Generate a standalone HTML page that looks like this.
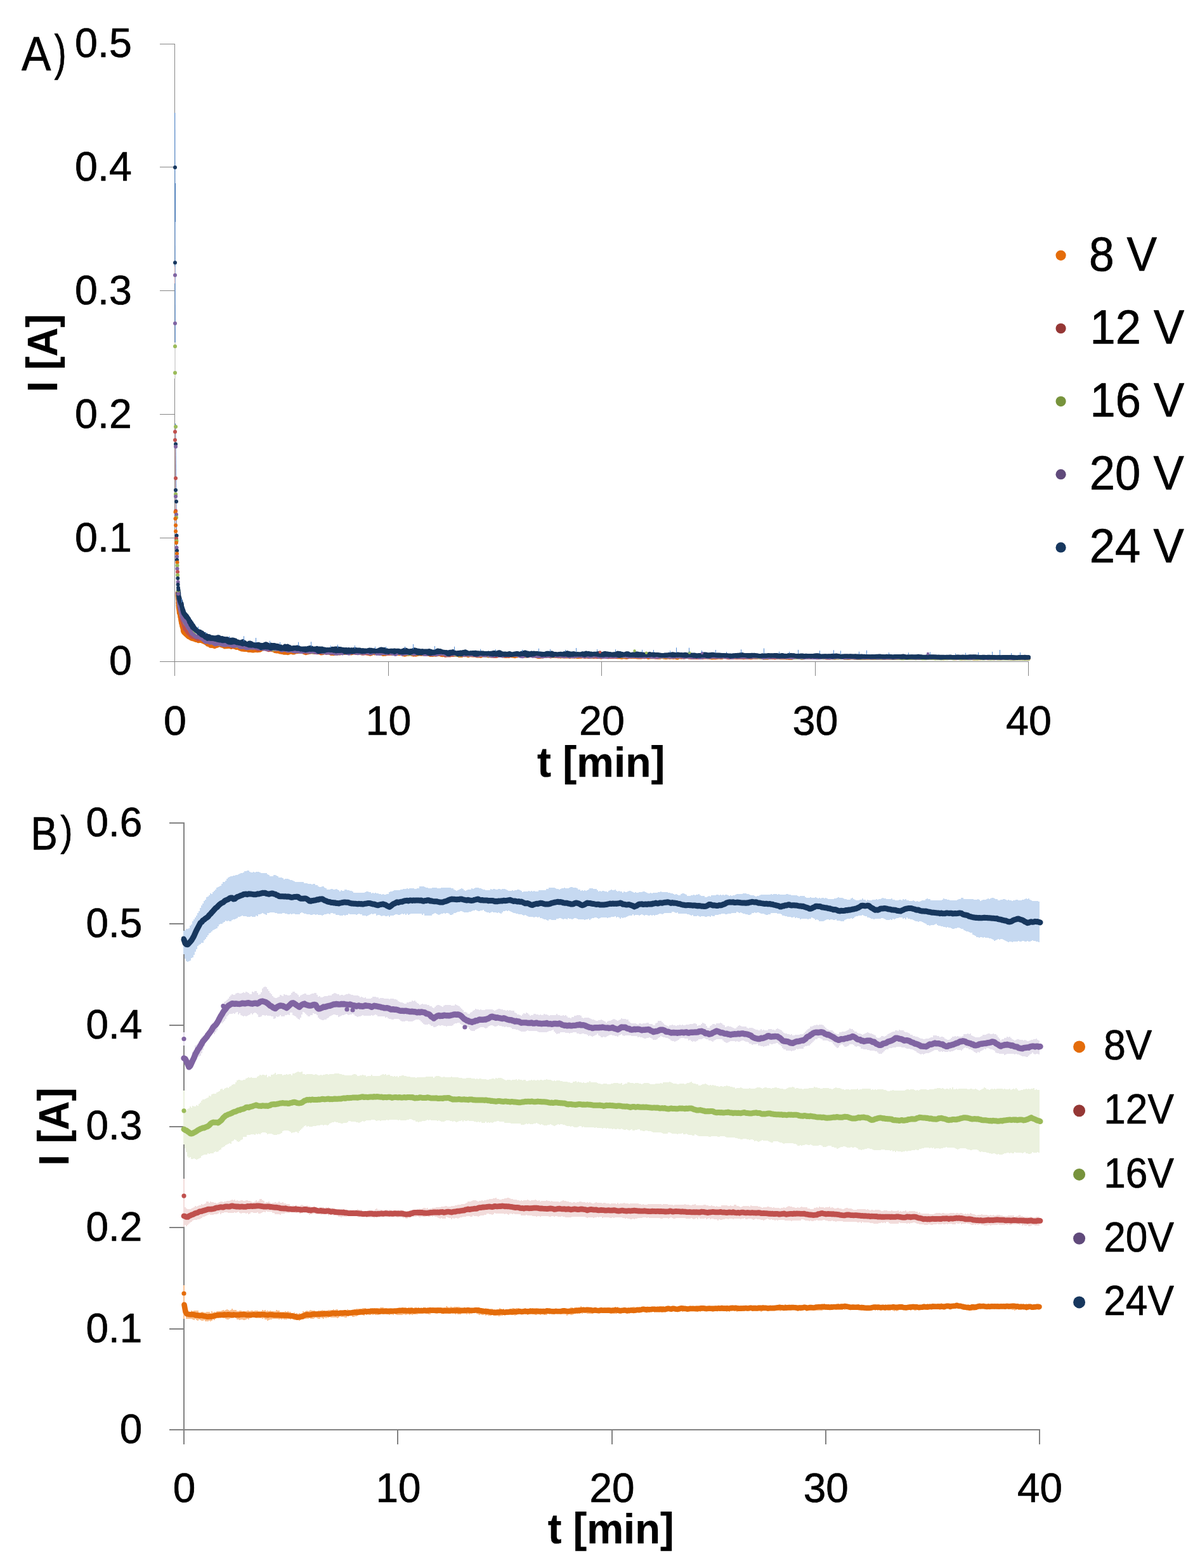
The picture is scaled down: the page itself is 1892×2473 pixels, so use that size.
<!DOCTYPE html>
<html lang="en"><head><meta charset="utf-8"><title>Current transients</title>
<style>html,body{margin:0;padding:0;background:#fff}svg{display:block}text{font-family:'Liberation Sans', 'DejaVu Sans', sans-serif;fill:#000;stroke:#000;stroke-width:.7px;stroke-linejoin:round}text[font-weight]{stroke-width:.25px}</style></head><body>
<svg width="1892" height="2473" viewBox="0 0 1892 2473">
<rect width="1892" height="2473" fill="#fff"/>
<g id="chartA">
<g stroke="#868686" stroke-width="1" fill="none">
<path d="M275.5 69V1066"/>
<path d="M252 1043.5H1622"/>
<path d="M252 848.5H275.5"/>
<path d="M252 653.5H275.5"/>
<path d="M252 458.5H275.5"/>
<path d="M252 263.5H275.5"/>
<path d="M252 69.5H275.5"/>
<path d="M612.5 1043.5V1066"/>
<path d="M948.5 1043.5V1066"/>
<path d="M1285.5 1043.5V1066"/>
<path d="M1621.5 1043.5V1066"/>
</g>
<path d="M275.7 178L276.2 540" stroke="#558ed5" stroke-width="1.1" fill="none"/>
<path d="M276.4 289V350" stroke="#4f81bd" stroke-width="1.2" fill="none"/>
<path d="M276 540V597" stroke="#dcdcdc" stroke-width="2" fill="none"/>
<path d="M275.4 420V447" stroke="#e6b9b8" stroke-width="1" fill="none"/>
<path d="M276.6 668L278.6 870" stroke="#558ed5" stroke-width="1.1" fill="none"/>
<path d="M276 676L277.6 860" stroke="#d99694" stroke-width="1" fill="none"/>
<path d="M279.8 937.2l-0.1 1.9 0.2 1.9 0.2 2 0.1 2 0.4 2 0.1 2.1-0.3 1.8 0.6 2.1-0.4 1.7 0.3 2 0.1 2 0.4 2.2 0.2 1.8 0.3 2.2 0.1 2.2 0.9 1.7 0.4 2.2 0.2 2.2 0.6 1.7 0.2 2.2 0.3 1.9 0.5 2.2 0.2 1.9 0.7 1.8 0.3 2.3 0.6 1.7 0.7 2.3 0.4 1.7 0 2 0.8 2.1 1 1.4 1.9 1.6 1 1.1 1.8 1.5 1.3 1.2 1.4 1.2 2.1 0.8 2.1 1.5 1.7 0.6 2 0.4 2 0.9 1.7 0.6 2.4 0.3 1.5 1 1.8-0.4 1.7 0 1.8 0.4 1.9 0.9 1.9 0.8 1.8 0.9 1.8 1.1 1.9 1.7 2.2 0.3 1.9 1.8 1.6 0.3 2 0 2 0.4 1.6 0.7 2.1-1.1 1.6-0.3 1.7-0.9 1.6-0.8 1.9 0.6 2.4 0.9 1.7 0.4 2.5 1.5 1.9-0.4 1.8 0.2 2.2-0.4 2.1 0.1 2.5 0.9 1.9-0.8 2.4 0.6 1.5 0.2 1.9 1.1 2-0.4 1.8 0.7 1.6 1 1.9 0.5 1.5 0.8 2.2 0.2 2.2 0.2 2.1-0.1 2.2 0 1.7 1.1 1.9 0.1 2.4-0.6 2.1 1.1 2-0.2 2.1-0.8 1.9 0.4 2.2 0.3 2.1-0.4 2-0.1 1.7-1.4 1.4-0.9 1.9-0.7 2.1-0.2 1.9 0.4 2.1 0.3 1.6 0.8 2.5-0.1 1.9 0.5 1.8 0.8 2.2 0.1 2 1.7 2 0.3 2.5 0 1.7 0.4 2.2 0.8 2 0.3 1.7 0 2.2 0.8 2.1 0.1 1.8-0.3 2.2 0.7 2.3-0.8 1.8-0.9 2.2 0.3 1.8 0.8 2.1-0.1 2.5-1.6 1.7 0.4 2.4-0.4 1.6-0.2 2.5-0.1 1.7 0 2 1.1 1.7 0.7 2.2 0.8 2.1-0.8 2.1-0.2 1.5-1.1 2.2 0.4 1.9-0.4 2 0.1 2.3-0.4 1.9 1 1.6 0.3 2.3 0.2 1.8-0.3 2 1.4 2.2-0.2 1.9-0.8 1.7-1 2.5 0 2.1 0.2 1.6 0.5 1.9 0.6 2.5 1.4 1.9 0 2 0.1 1.8-0.6 1.7 0 2.3 0.1 2.1-0.7 1.6 0.6 2.1-0.7 2.1-0.4 2.2 0.6 1.8-0.4 2 0 2-0.3 1.9 0.2 2.4 0.5 1.6 0.4 2.5-0.8 1.5-0.6 2 0 2-0.3 2.1 0.3 2.3 0.2 1.7-0.5 2.1 0.3 1.9-0.1 2 1.3 1.9-0.4 2.3 0.5 1.7 0 2 0.8 2.2 0.6 2.2-0.8 1.5-1.8 2.4 1.2 1.9-0.2 1.7-0.4 2.6 0.2 1.9-0.1 1.6-0.2 2 1.2 2.3 1 2-0.1 2.1-0.1 1.8-0.9 2.2-0.2 2.1 0.3 1.6-0.5 2 0.7 2.2-0.6 1.6 0.5 2.3-0.2 1.8 0.3 1.9-0.4 2.3 0.5 2.1-0.3 1.9-0.4 1.8 1.9 2.3 0.3 1.6-0.3 2.4-0.7 1.8 0 2.4-0.5 1.4 0.1 2.3 0.9 1.8 0.5 2.3-0.3 1.7 0.3 2.1-0.5 1.9-0.7 2.4 0.1 2.1 0.2 1.5-0.4 2.2 0.4 2.3-0.3 1.6 0.3 2.4 0.1 1.4 0 2.2 1 2.3-0.1 2.1 0.2 1.6-0.8 2.4 0.6 1.4-0.1 2.2-0.5 2-0.4 1.8 0.2 2.2 1 1.9 0.2 2-0.4 2.4 1 1.8-0.9 2 0.2 2.3-0.4 1.6 0.7 1.8-0.7 2.5 0.2 1.5-1.1 2 0.8 2.2 0.3 2.3 0.1 1.7 1.1 2.2-0.4 2 0.4 1.8-1.2 2.3 0.3 1.9 0 1.6-0.3 2.3 1.4 2.3-0.9 1.6-0.3 2.1 0.4 1.8-0.1 2.3 0 2.1 0.1 1.7 0.1 2 1 1.8-0.2 2.5 0.5 1.5-1.3 2.3-0.7 2.3 0.5 2 0 1.5 0.4 2.2 0.8 2-0.5 2 0.4 2.1 0.1 2.1-0.2 1.6 0.4 2.1 0 2 0 1.9-1.1 2-0.7 2.4 1 1.7 0.2 2.4 0.4 1.5 0.3 2.3 0.2 1.7-0.5 2.4 0.4 2-0.9 1.7-0.2 1.9 0.7 2.2 0.3 1.9 0.3 2.1-0.8 2.2 0.1 1.6-0.9 2.3-0.2 1.8 0.2 1.9 0.3 2.3 0.6 1.7-0.5 2.1 0.5 1.9-0.6 2 0.5 2.2-0.8 1.8 0.4 2.2 0.3 1.8-0.5 2.3 0.7 1.8 0.7 2.4 0.8 1.7-0.3 1.9 0.2 2.4-0.6 1.5 0.3 2-0.9 2.4-0.1 2-0.6 2 0.1 1.6 0.1 2.2 1.2 2.2-0.9 1.9 0 1.9-0.3 1.9 0.5 2.4-0.2 1.7 0.9 2.3-0.5 1.5 0.8 2.5-0.6 1.4 0.3 2.2 0 2.2 0 1.7 0 2-0.1 2.4 0.7 1.6-0.7 2.1 0.2 2-0.4 1.9 0.7 2.4-0.6 1.8 0.8 1.7 0.1 2.1-0.3 2.2-0.1 1.9-0.4 2.1 0 2.1 0.1 1.9-0.4 2.1 0.5 1.7 0.4 2.4-0.3 1.6 0.1 2-0.4 2.2-0.1 2 0.2 1.7 0.2 2 0.2 2.5 0 1.5 0.2 2.2 0.6 1.9-0.6 2.5-0.5 1.9-0.6 2.1 0.7 2 0.7 1.5-0.1 2.5-0.6 1.6 0.5 1.9-0.1 2.1-0.3 1.9 0 2.5 0.1 1.6 0.5 2-0.3 1.9 0.3 2.5 0.4 1.9-0.4 2-0.1 1.8 0.4 1.9 0.2 2.1-0.5 2.2-0.7 2.1 0.3 1.6 0.1 2 0.1 2.1-0.4 2.2 0.2 1.6 0.4 1.9 0.2 2.2 0 2.4-0.1 1.8-0.2 1.6-0.3 2.1 0.3 2.2-0.2 2.2 0.1 1.6 0.9 1.9-0.5 2.2-0.3 2-0.2 2.2 0.3 1.7 0 2.2-0.2 2.3 0.3 1.5 0.1 2.3 0.3 2.1-0.7 1.7-0.3 2.2 0.7 1.8 0.3 2.1 0.3 2.1-0.5 2.1-0.1 1.8 0.3 1.8-0.2 2.4-0.2 1.8 0.5 1.8-0.5 2.3 0.6 2 0.5 1.7-0.8 2.1-0.6 2.3 0.4 1.9-0.6 2.1 0.6 1.8-0.1 2-0.4 1.8 0 1.9 0.1 2.4 0.4 2.1 0.2 1.7 0 2.1 0.3 2-0.5 2.1 0.5 1.7-0.3 1.9-0.7 2.1 0.3 2.5 0.3 1.6 0.4 2-0.7 2.3 0.1 1.9 0.1 2.2 0.1 1.9 0.3 2 0.1 1.9 0.4 1.8-0.1 2.2-0.1 2.1 0.1 1.5-0.4 2.6-0.2 1.5-0.3 1.9 0.6 2.4 0.1 2-0.8 2-0.2 2.1 0.2 2-0.2 2 0.9 2.1-0.6 1.5-0.1 1.9 0.4 2.5-0.2 2 0 1.7-0.2 1.9 0.6 2-0.2 2.2-0.1 1.9 0.2 2.2 0 1.8 0.4 2.1-0.1 2.1-0.6 1.8 0.3 2.3 0.1 1.9 0.2 1.7 0.2 2-0.3 2-0.8 2 0.3 2.5-0.6 1.7 0.3 2.2-0.2 1.8 0.1 2.2 0.4 2.1 0.4 1.5 0.6 2.2-0.2 2.1 0.1 2.1 0.1 2-0.4 1.7-0.3 2 0.3 1.9-0.1 1.9-0.2 2.2 0.6 2.1-0.3 2.2-0.1 1.8 0.1 2.2 0.2 1.9-0.1 1.8-0.1 2.3 0.2 1.9-0.3 1.9 0.5 2-0.2 2 0.5 1.8-0.3 2.1 0.3 2.3-0.7 1.6-0.3 2.1-0.1 1.9-0.1 2 0.3 2.3-0.3 2.2 0.3 1.6 0.6 2.3-0.2 1.8-0.3 2.1-0.1 1.7 0.1 1.9-0.1 2.5 0.1 1.8-0.1 2-0.4 2.1 0.1 2 0.4 1.9 0.1 2.1 0.2 1.7-0.1 2.4-0.2 1.9 0 2 0 1.9 0 2.1 0 1.9 0.4 2.1 0 1.8-0.1 2.1 0.1 1.9-0.1 2.4-0.3 1.8 0.3 1.8 0.1 2.4 0 1.7-0.3 2.2 0.1 1.8-0.5 2 0.3 2.1 0.1 2 0.3 1.9 0 2.3 0.1 1.8 0.2 2.1 0 2.1-0.2 1.4-0.2 2.2-0.2 2.1 0.3 2.1 0 1.8 0 2.2 0.3 1.9-0.2 2.2 0.2 1.6 0 2.4 0.3 1.9-0.1 1.9-0.1 2.3-0.2 1.8 0.1 2.1-0.2 1.7-0.1 1.9 0.2 2.1 0.2 2 0 2-0.3 1.9-0.5 2.3 0.1 1.7 0.1 2.2 0.2 2.1 0.1 1.8 0.1 2.3-0.4 2 0.4 2-0.3 2 0.3 1.5-0.2 2.6 0.3 1.5 0 2 0.3 2.4-0.1 1.6 0 2.4-0.4 2 0.1 1.9 0 2.1 0 2-0.3 1.9 0.3 2 0.1 2.1 0.3 1.6-0.3 1.9 0 2 0 2 0.2 2.2 0.2 2.3-0.5 1.9-0.1 1.9 0.1 2.1 0 1.8 0.4 1.8-0.1 2.3-0.1 2 0.2 2.2-0.2 2 0 1.7 0.2 1.7 0 2.4-0.1 2.1-0.1 1.8-0.1 2.2-0.1 1.8 0.1 2 0.2 1.9 0 2-0.1 2 0 2.4 0.2 1.9-0.1 1.7 0.1 2.1 0.2 2.1-0.4 2 0.2 1.9-0.4 1.9-0.1 1.9 0.3 2.2 0.1 2.1 0.2 1.9 0 2 0.1 2 0.1 1.8-0.2 2.1-0.1 1.8-0.2 2 0.4 2.5 0.1 1.7 0 2.2-0.3 1.7-0.2 2.1 0 2 0 2.3-0.1 1.8 0.1 1.7 0.4 2.3 0.2 1.9-0.2 1.9 0.1 2.4 0.1 1.7-0.3 1.8 0.1 2-0.2 1.9 0 2.4 0 2.2 0 1.9 0.1 1.5 0.2 2.1-0.1 2-0.3 2.3 0.2 2.1-0.1 1.5-0.1 2.4 0.1 2.1 0.1 2 0.2 1.5-0.3 2.3 0.2 1.7-0.2 2.4 0 2.1 0.1 1.5-0.1 2.3 0 2-0.1 2.1 0.2 1.9 0.2 1.9 0 2.2 0.2 2-0.2 1.7-0.2 2.4 0.2 1.9-0.2 1.9 0.3 2.1-0.1 1.7-0.1 2.3 0.1 1.9 0 2.1 0.1 1.7-0.1 2 0.4" stroke="#e46c0a" stroke-width="6.4" stroke-linecap="round" stroke-linejoin="round" fill="none"/>
<path d="M279.7 935l0.5 2.1 0.1 1.8 0.2 1.9 0.4 2.2-0.1 1.9 0.5 1.8 0.3 2.2 0.1 1.8 0.5 1.9 0.1 2 0.6 1.7 0 1.8 0.4 2.1 0.5 1.8 0.4 1.9-0.2 1.7 1 2.2-0.1 1.8 0.7 1.9 0.3 1.9 0.4 2.2 0.1 1.8 1 2.3 0.7 1.9 0.6 2.2 0.8 1.7 0.6 2.1 0.7 2 0.6 2.3 1.2 1.3 1.1 1.4 1.4 1.3 0.7 1.5 1.1 1.4 1.9 1.4 1.1 1.7 1.6 1.1 1.2 1.2 1.9 0.4 1.8 0.1 1.7 1.1 2.3 1.2 1.6 1.1 1.5-0.3 1.9-0.6 1.8-0.5 1.6 1.2 1.7 1.7 1.9 1.3 1.6 0.2 2.3 0 1.6 0.6 1.6 1.4 1.8 0.6 1.9-0.5 2.5 0.4 1.6 0.2 2.2 1.1 1.9 0.2 2.5 1.1 1.6 0.1 2.2 0.4 2.2-0.2 2.1-0.7 2 0.6 2.1 0.3 2 0.7 2.1 0 2.1 0.3 1.9 0.9 1.9 0.8 2.1-0.4 2.2 0.3 1.9-0.7 2-0.1 2.2 0 1.8 0.4 2.1-0.1 2.2 0.8 1.9 0.1 1.9 0.3 2 0.8 2.3-0.3 2.2 0.4 2 0.9 2.1-0.3 1.8 0.8 1.8-0.9 2.3 0.8 2.3 0.9 1.8 0.9 2-0.6 2.1-0.3 1.9 0 2 0.2 2.2-0.6 1.7 0.7 2.2 1 2.2 0.7 2.3-0.5 1.7 0.1 2.4-0.5 1.7 0.4 1.8-0.6 2.6 0.4 1.7-0.8 2.3 0.4 2 0.2 2.1-0.3 1.6 0.2 2.2 0.7 1.9 0.4 2.3 1.1 1.9 0.2 2.2-1.3 1.9 0.6 2-0.1 1.8-0.4 2.5 0.8 1.9 0.2 1.9 0.7 1.9 0.2 2.1 0.5 2-0.3 1.8-0.1 2.4 0.2 1.6 0.2 2.2 0.8 2.1 0.3 1.6-0.5 2.5 0.3 1.9-0.5 1.7-0.6 2 1.2 2.2 0.1 2 0.2 1.7 0.1 2.3-0.5 2 0.1 1.8-0.1 2.5 1.1 1.6-0.1 2.3-0.7 1.9 0.7 1.9 0 1.8-0.5 2.3 0.1 1.8 0.9 2.1-0.3 1.8-0.9 2.1 0 2.4 0.5 1.7 0.1 2 0.3 1.9-0.4 1.9 0.6 2.1-0.7 1.9-0.2 2-0.4 2.3 0.1 1.7 0.3 2-0.5 2.4-0.1 1.8 0.7 2.2-0.5 1.7 0.6 2 0.4 1.9 0.1 2.2-0.7 2 0 2.1 0.4 2.1 0.9 1.7 0.2 2.2-0.3 2.1-0.4 1.8 0.2 1.9 0.3 2 0 2.1-0.8 1.9-0.7 1.9 0.6 2.1-0.1 1.9-0.1 2.1 0.1 2-0.3 2 0.3 1.9 0.7 2.1-0.2 2.3 0.1 2-0.2 1.6-0.4 1.9 1.1 2.4 0.5 1.8-0.3 2.2-0.9 2.1 0 1.9 0.3 1.7 1.3 2.3-1 1.6-1.4 2.1 0 2.1 0.7 1.8 0.5 2.4 0 2.1 0.5 1.9-0.2 1.9 0.4 1.9-0.6 2.3 0.9 1.7-0.6 2.3 0.7 1.5-0.5 2.1 0.5 2 0.2 2.3-0.8 2 0 2 0 1.8-1.3 2.4 0.7 2 0.6 1.8 0.2 2-0.7 1.6 0 2.3 0.5 2.3 0.4 1.9 0.2 1.9 0.8 1.8-0.3 2.4-0.1 1.7-0.4 1.7 0 2.2-0.3 2-0.2 2.2 0.6 1.7-0.3 2.2 0.6 2.3 0.6 1.6 1.2 1.9-0.2 2.1 0.2 2.1-0.2 1.8-0.6 2.3-0.6 2.1 0.7 1.6-0.1 2.1-0.2 1.8-0.7 2.1-0.3 2.2-0.6 1.9 0.3 2-0.1 1.8 0.2 2.6 1.2 1.5-0.1 2.5-0.2 1.5-0.1 2.2-0.1 2-0.1 2.3 0.9 1.8 0.5 2-0.3 1.7 0.3 1.9 1.1 2.5-1 1.6-0.3 2.4 0.1 1.6 0.1 2.4 0.1 1.7-0.4 2.3 0.3 1.7 0.2 2 0.2 1.9-0.7 2.2 0.8 2.2 0.3 2 0.5 1.8-0.1 1.8 0.1 2.2-0.9 2.1-0.7 1.9 0.5 1.8-0.4 2.2 0.5 2.1-0.2 2.1 0.7 2-0.3 1.7 0.4 2.1 0 1.9-0.5 2.2-0.1 2.1-0.8 1.7 0.2 2.1-0.1 1.8-0.3 2.1 0.4 2.4 0.6 1.9 0.7 2.1 0.3 1.9-0.6 1.9 0.4 1.8 0 2.4-0.1 1.8-0.2 1.8 0.1 1.8-1.1 2.4 0.2 1.7 0.5 2.1 0.3 2-0.1 2.1-0.2 1.8-0.3 2.4 0.2 1.6 0.1 2.1-0.5 2.1 0.3 2 0.5 1.8 0.4 2 0.3 2.3-0.4 1.8 0 2.1 0.6 2-0.2 2.2-0.6 2.1 0.6 1.5 0.2 2.1-0.6 2.4 0.1 1.9-0.6 2 0.1 1.6 0.4 1.9 0.3 2.1-0.2 2.3 0.1 2.1 0.3 2 0 2.1 0.3 1.5-0.2 2.1-0.1 2.2 0 1.7-0.4 2.3 0.5 2-0.7 2 0.1 1.9 0.4 1.8 0 2.3-0.3 1.7 0.7 2.4 0.6 1.6-0.6 2 0.3 2-0.3 2.1 0.1 2-0.5 2.3 0.6 1.9 0.5 2.2-0.4 1.6 0 2.1 0.5 2.2-1.3 1.6 0 2.3-0.4 1.9 0.3 2.2 0.7 2 0.2 1.5-0.2 2.1 0.6 2.3-0.4 1.7 0.4 2.2 0.1 1.9-0.3 1.8 0.1 2.2-0.5 2.1 0.6 1.7-1 2.4-0.3 1.8 0 2 0.1 2.1 0.4 2.3-0.4 1.7 0.7 2.2 0.2 1.9 0 1.8-0.2 2.3 0.1 2.1-0.4 1.6 0 2.2-0.1 2 0.1 1.9 0 1.7 0 2.2 0.5 2.1-0.4 1.8 0.1 2.1 0 1.8 0.5 2.3-0.3 2-0.2 1.8-0.2 2.1 0 2.2 0 2.2-0.1 2 0.7 1.4 0.2 2.3 0.6 1.9 0 2.1-0.1 1.7-0.5 2.5-0.5 1.7 0.1 1.9 0.3 2.3 0.1 1.8-0.1 2.2 0.3 2-0.4 2 0.6 2-0.6 2.1 0.5 1.7-0.5 1.9 0.1 2.4-0.2 2.1-0.2 1.6 0.6 2.2 0 2 0.1 1.6 0.1 2 0 2.2-0.4 2.2-0.4 1.9 0.3 2.3 0.8 2-0.1 1.8 0.4 1.8-0.3 1.9 0 2.4 0 2 0.2 1.8 0.1 2 0.1 2.1-0.4 2-0.2 2 0.1 2.1-0.4 2 0.2 1.8-0.5 2 0.4 1.8-0.6 2.2 0.4 2.2-0.2 2.1 0.1 1.9 0 1.5 0.1 2 0.2 2.3-0.2 2.3 0.3 1.5 0 2.3 0.3 1.7-0.9 2.4-0.3 2.1 0.7 1.8 0.5 2.1 0.4 1.7 0.2 1.9-0.1 1.9-0.3 2.2-0.1 1.8-0.3 2.2 0.3 2.4 0 1.5-0.3 2.1 0.1 1.9-0.1 2.4 0.2 1.7 0.2 1.9-0.3 2 0.1 2.4-0.4 2 0.3 1.7-0.2 2.1 0.2 1.8-0.2 2.3-0.1 1.9 0.4 1.8 0.1 2.1 0 2.3-0.4 2 0.5 1.7-0.5 1.9 0.6 1.9-0.2 2.1-0.3 2-0.3 2.3 0.1 1.8 0.6 2.2 0 2.2-0.4 1.5 0.4 2.3-0.3 1.9 0.2 2-0.3 1.7 0.2 2.2-0.1 1.9 0.1 2 0.1 2 0.2 2 0.1 2.2-0.2 1.9 0.1 2.4-0.1 1.5 0.2 2.4-0.3 1.7-0.3 2 0 1.8 0.2 2.2 0 2-0.2 2.2 0.4 1.9 0.1 2.1 0.3 2.1 0 1.7-0.1 2.1 0.2 1.9-0.4 2-0.3 2.4-0.1 1.8 0.3 1.8-0.1 2 0 1.9 0.1 2.4 0.2 2-0.3 1.9 0.1 2 0 1.8 0 1.8-0.1 2.5 0 1.9 0.2 1.7-0.1 2.3 0 2 0.1 1.9 0.2 2.1-0.1 2-0.2 1.7-0.1 2.1 0.1 2.1 0 2 0 1.8 0 2.5 0.3 1.7-0.1 2.2-0.3 1.6 0.2 2.2 0.1 2.2 0.2 2-0.3 1.7 0.3 2.3-0.2 1.6 0 2 0 2.4 0 1.8-0.3 1.9 0.4 2.2-0.1 1.9 0.2 2.2-0.2 1.9 0 1.9 0 1.9 0.1 2 0 1.9 0.1 1.9-0.3 2.4 0.1 1.8 0.2 2.3 0.1 1.9 0 1.7-0.4 2.4 0 1.7 0 2.1 0.2 2.1 0 1.8 0.2 2.3-0.1 1.7 0.2 2.4 0 2 0 1.6-0.1 2-0.2 2.3 0.2 1.8 0.1 2.2 0 1.5-0.1 2.3-0.1 2.2 0.2 1.8 0.2 1.9 0 2.1 0.2 2.1-0.1 1.8-0.4 2.2 0 2 0.2 1.6-0.1 2 0.1 2-0.3 2.4 0 1.6 0.2 2.4 0.1 1.6 0.2 2.2 0 2.3 0.1 2-0.3 1.6 0 1.8 0.1 2.2-0.3 2-0.1 2.3 0.2 1.8 0.1 1.8 0.1 2.4 0.2 2-0.1 1.6-0.1 2.2 0.1 2 0.1 2.1-0.1 2.1-0.1 2.1 0 1.4-0.3 2.3-0.1 2 0.1 1.9 0.2 2 0.2 2.3 0.1 1.8 0.2 1.9-0.3 1.8-0.3 2.4 0 2.1 0.2 1.8 0.2 2.2 0.2 1.9 0 2 0 1.7-0.2 2.4 0 2 0 1.5 0 2.4 0.2 1.8-0.2 1.9-0.1 2.2-0.2 1.7 0 2 0.2 2.1-0.1 2.2 0.1 2-0.1 2.2 0.1 1.9-0.1 2 0.3 1.7-0.2 2 0.2 1.9 0.1 2-0.1 2.3-0.1 2-0.1 2.1 0 2 0.3 2.1-0.1 1.6 0 2.2 0 2.1-0.1 1.8 0.2 2 0 1.7 0.1 2.1 0.3 2.4-0.3 2-0.2 1.8 0.2 1.9 0 2.2-0.3 1.8 0.1 1.9 0.1 2 0 2-0.3 2.2 0.1 2 0.4 2 0 1.7 0 2-0.1 2-0.1 2.1-0.1 2.2-0.2 1.7 0.3 2.1 0 2.3-0.1 1.6 0 2.4 0 1.8 0.1 1.8 0 2 0 2.2 0.1 1.8 0.2" stroke="#c0504d" stroke-width="6.2" stroke-linecap="round" stroke-linejoin="round" fill="none"/>
<path d="M280.4 938.1l0.5 1.8-0.2 1.8 0.4 2.2 0.3 1.7 0.4 1.8-0.1 2.1 0.6 1.9 0.1 1.9 0 2 0.7 1.6 0.2 2.1 0.4 1.6 0.8 2 0.2 1.9 0.7 1.7 0.1 1.9 0.4 2 1.1 2.1 0.7 1.9 0.8 2 1 2.2 0.9 1.7 0.7 2.1 1.1 1.7 1.4 1.5 1.1 1.6 1.2 1.5 1.1 1.9 1.1 1.6 1 1.6 1.8 1.1 0.9 1.4 1.3 1.8 1.9 1.6 0.9 1.5 1.8 1.9 2.2 0.7 2 0.6 1.5 0.3 1.9 1.2 2 0.3 1.8 1.3 1.4 1.4 1.9 0.5 1.9 0.6 2 0.9 1.8 1.5 1.5 0.1 2 0.6 1.8 0.6 1.8 0.5 2.5 0.5 1.8 0.4 2.2-0.2 2.2 1 2 0.3 1.7 0.4 1.9-0.2 2.1 0.2 2.4 0.5 1.9-0.3 1.9-0.1 2.1 0 2.3 0.8 1.8 0.2 2.3-0.1 1.7 0.1 2.3 0.6 2.1 0.6 2.2 0.5 1.9-0.4 1.7 0.2 2.4 1 1.9-0.2 1.9 0.2 2.2 1.1 1.9-0.6 1.9 0.5 2.5 0.9 1.8-0.4 1.8-0.1 2.5 0.1 2.2 0.2 1.9-0.8 2-0.3 1.6 1.1 2.3 0.4 1.9 0.1 2.4 0.7 2 0.3 1.8-0.6 2-0.3 2.3-0.6 1.5 0.2 2.4 0.6 1.7 1.3 2.5 0.5 1.6 0.3 2.4-0.9 1.9 0.4 2.4-0.2 1.9-0.4 1.8 0.6 2.1-0.9 2.2 0.2 1.8 0.7 2.2 0.6 2.2 0.6 1.6 1 2-0.5 2.3-0.5 2.2-0.7 2 1.2 1.9 0.1 2.2 0.9 1.5 0.1 2.6 0.2 1.6 0.3 2.3-0.4 1.9-0.8 1.7 0.9 2.4-0.9 1.5 0.6 2.6 0.5 1.8 0.9 2 0.1 1.8-0.6 1.8 0.7 2.1 0.2 2.3-0.7 2.1-0.1 1.8-0.1 2.2 0.5 2-1.2 2 0.9 2 0.5 1.9 0.4 2.1-0.4 1.5 0.5 2.2-0.1 1.8 0.2 2 0.1 2.5-0.3 1.6 0.2 2-0.3 2 0.5 2.2-0.6 1.8 0.6 2.4 0.3 1.6-0.2 2.1 0.6 1.9-0.2 2.5-0.3 1.4-1.3 2.1 0.7 2.3 0.1 1.9-0.1 2.1-0.1 2.1-0.2 2 0 2-0.3 1.5 0 2.5 0.2 2 0.2 2.1 0.6 1.8 0.2 1.8 0.2 2-0.8 2.1 0.3 2.1 0 2.1 0 2.1 0 1.6-0.5 2-0.2 1.9 0.7 2.5-0.7 1.9 0.3 2 0.1 1.8-0.7 2.2 0.5 1.9 0.4 1.9 0.9 1.8-0.6 2.3-0.1 2.2-0.1 1.9 0.4 2.1-0.6 1.5 0 2.4-0.4 1.7 1.2 2.4 0 1.7 1 2.1 0.2 2.1-0.3 1.7-0.7 2.2-0.4 1.8 0.3 2.2-0.5 2-0.1 2 0.3 1.6 0.4 2 0.8 2.1-0.2 2.2 1 2.1-0.6 2.1 0.1 1.6 0 2.1-0.2 2.1-0.6 1.8 0.3 2.1 0.1 1.8 0.1 2.1-0.4 2.4-0.5 1.7-0.3 1.9 1.5 2 0 2.3-0.3 1.7-0.9 2 0.7 2.1-0.4 2.1-0.3 1.7 0.4 2.5 0.8 2.1 0.3 1.8-0.2 2.1-0.1 1.7-0.2 1.9-0.8 2.4 0.2 1.7 0.8 1.9-0.2 2 0.8 2.1 1 2.1-0.4 1.7-1 2.5-0.8 1.5 0.5 2.1 0.4 2.3 0.2 1.7 0.9 2 0.2 2.2-0.1 1.7 0.3 2.3 0.3 2-1.2 1.8 0.4 2.2-0.1 2.3-0.1 1.5 0.2 2.2-0.3 1.8 0.7 2-0.9 2.1 0.6 2.1 0 1.7 0 2.2 0 2.2 0.4 1.7 0.7 2.2-0.8 1.7 0.3 2.3-0.7 2 1 2-0.2 2 0.4 2.1-0.3 2.1 0.6 1.9-0.5 1.8-0.4 1.9-0.5 2.3 0.8 1.6-0.6 2 0.1 2.1-0.3 2.3 0.6 2.2 0.2 1.8-0.3 2.2-0.2 1.7-0.2 2.3 0.1 2 0.3 1.5 0.3 2 0 2.2-0.9 2.3 0.5 1.6 0.5 2.2 0 1.8-0.2 2.3-0.4 1.9 0.6 1.9 0.7 2.1-0.1 1.7-0.1 2.5 0 1.5 0.2 2.2 0.3 1.7-0.7 2.1 0.1 2.2-0.4 2.2 0 2 0.1 1.7 0 2-0.7 2.3 0.2 1.5 0.4 2.2 0.8 2.3-0.3 1.8 0.3 2.2-0.2 1.8-0.4 1.8 0.4 2.3 0.2 2.1 0.2 1.6-0.7 2.4 0.6 1.6 0.4 2.1-0.2 2 0.2 2.2-0.4 2 0.1 1.9-0.4 2.2-0.7 1.8 0.9 2.1 0.3 1.7 0.1 2.4-0.8 1.8 0.4 1.8-0.2 2.5 0.6 1.5-0.1 2.1 0 2.3-0.4 1.6 0.2 2.1 0 1.9 0.3 2.2-0.2 2 0.5 2-0.8 2.1-0.3 1.7 0.2 1.9 0.3 2.1 0 2.5 0.4 1.9 0 1.9 0 2.2-0.5 1.9 0.1 1.7 0.8 2.2 0.3 2.1-0.6 1.6-0.9 2.2 0.3 1.9-0.2 1.8 0.5 2.4-0.1 1.7 0.1 2.3 0.5 1.6-0.7 2.6 0.5 1.5-0.4 2.2 0 2 0.2 1.9-0.3 1.9 0 2 0.5 2.3-0.2 2.1 0.4 1.7-0.3 1.9 0.2 2.2-0.7 1.8 0.6 2.1 0.1 1.9 0.5 2.4-0.2 1.9-0.1 2 0 2.1-0.6 1.6 0.5 2.2-0.2 1.8 0.5 2 0.1 2-0.3 2.2-0.1 2.1-0.7 2 0.3 1.8 0.6 2.2 0.1 2.1-0.5 1.7 0.1 2-0.5 1.9 0.2 2.4 0 2.1 0.3 1.6 0 2.2-0.3 2-0.3 1.6 0.2 2.1 0.6 2.4-0.1 1.6 0 2.2 0.4 1.9 0.3 2.1 0.2 1.8-0.3 2.1 0.2 2-0.1 1.9-0.3 2.2 0.3 2.2-0.1 1.8 0.3 2.3-0.2 1.5-0.2 2.3-0.2 1.6 0.4 2.5-0.4 1.8 0.4 1.9-0.2 2.3 0.2 1.8-0.6 1.9 0 2.4 0.1 1.6 0.5 1.9-0.6 1.9 0 2.3 0.4 1.8-0.3 2.4 0.2 1.7-0.1 1.9 0.7 2-0.7 2.3 0.1 2.1-0.4 2.1 0.2 1.6 0.1 2.2 0.2 1.7-0.3 2.5-0.1 1.9 0.3 1.6 0.1 2.2 0.7 1.8 0.2 2.1-0.3 2.2-0.3 1.7-0.3 2.4 0.3 1.8-0.4 2.2 0.4 2 0.2 1.7 0 2.3-0.4 1.7 0 2 0 1.9-0.1 2.4 0.1 1.9 0.5 2.1-0.1 2.1 0.4 2-0.2 1.9 0 1.7-0.2 2 0 1.9-0.2 2.1 0.2 2-0.1 2.3 0.1 1.6 0.1 2.3-0.1 2-0.1 2.1 0.5 1.8-0.2 2.2 0 2-0.4 1.7-0.1 1.9-0.1 1.9 0.4 2.1-0.3 1.9 0.5 2.1 0 2.1 0.3 2.4-0.2 1.8 0.4 1.9 0 2.1-0.3 2.1 0.1 1.6 0.1 2.4 0 1.8 0 2.2-0.1 1.6-0.4 2.1 0.3 2.2-0.4 2.1 0.1 1.9 0.2 2 0.1 1.7 0.1 2.4 0.2 1.7-0.2 2.2 0 1.7-0.1 2.5-0.1 1.6 0.3 2.4-0.1 1.6-0.1 2.2-0.2 1.9 0.3 2.1 0.2 2.2 0.5 1.7-0.1 1.8 0 2.2 0 2.2 0 2.1 0.1 1.4 0.1 2.5 0.3 2.1-0.3 2-0.1 1.5-0.1 2.4-0.2 1.9-0.1 1.8 0 2.1 0 1.8-0.2 2.1 0.3 2.2-0.1 1.8 0.3 1.9 0.2 2.4-0.1 1.9 0.2 2-0.1 2-0.2 2.1 0.3 1.5-0.1 2.3-0.4 1.7 0.1 2.4-0.1 1.9 0.3 2.3 0 1.9 0.2 1.6 0.1 2.1 0.1 2-0.3 1.9-0.1 2 0.2 2.2 0.1 2-0.1 2.3-0.2 2-0.1 1.5 0.4 2 0.1 1.9 0.1 2.6-0.3 1.6-0.1 2 0 2-0.2 2.3 0.3 1.5 0.2 2.4-0.2 2 0.2 1.8-0.2 2 0.2 2.2 0.3 2.2-0.1 1.6 0.1 2.3-0.2 1.9-0.1 2.2 0.1 1.6-0.1 1.9 0.2 2.4-0.3 1.7 0.2 2.1 0.1 2.2 0.1 1.8 0.3 2.1-0.1 1.8-0.1 2.2 0.2 1.8-0.2 2-0.2 2.3-0.1 1.7 0 2.3 0.1 1.9 0 1.7 0.1 2.4 0.1 1.6-0.2 2 0.1 2.3 0 2.2 0 1.9 0 2 0.2 1.6 0.1 2.4 0 1.5 0.2 2.4 0 2.2-0.2 1.4-0.1 2 0.2 2.3-0.2 1.8 0.1 2.2 0.1 2.2-0.1 2 0.1 1.7-0.1 1.9 0.2 2.4-0.2 1.5-0.3 2 0 2.4 0.2 1.8 0.4 1.7-0.1 2.5 0 1.8 0 2.1-0.2 1.9 0.1 2.2 0 1.8-0.3 1.8 0.1 2.3 0.1 2.1 0.4 1.8-0.2 2.2 0 1.9 0 2 0 2.2 0.2 1.9-0.2 1.7-0.1 1.9 0.1 2.4 0 2 0.1 1.9-0.2 2 0 1.9 0 2.2 0.1 1.6 0.3 1.9-0.2 2.4-0.4 2 0.1 2.1 0.2 1.7 0.4 1.8-0.1 2-0.3 2 0.1 2.2 0.1 1.9 0 2.2-0.1 1.9 0.2 1.9 0 2-0.2 2.4 0 2-0.1 1.8 0.2 2.1 0 2-0.2 2.1-0.1 1.5 0.2 2 0 1.9 0.2 2.3-0.1 1.8-0.1 2.1-0.1 2.3 0.1 1.8 0.1 2.2 0.3 1.5-0.1 2.3 0 2.1-0.3 2.1-0.2 1.5 0.3 2-0.1 2.3 0.1 1.8 0.1 2.1-0.1 1.9 0 2-0.1 2.2 0.1 2.1 0 1.9 0.2 1.9-0.2 2.3 0.3 1.8 0.1 1.8-0.1 2.3 0.1 2.1-0.3 1.8 0 1.9-0.2 1.8 0.2 2.2-0.1 1.9 0.3 2.3 0.1 1.6 0.1 2.1-0.1 2.4-0.3 1.7 0.4" stroke="#9bbb59" stroke-width="6" stroke-linecap="round" stroke-linejoin="round" fill="none"/>
<path d="M280.9 936.4l0.6 2.2 0 2.2 0.3 1.6-0.1 2 0.5 2.2 0 1.9 0.1 2 0.4 2.1 0.3 2 0 1.8 0.4 2.2 0.5 1.6 0.6 2.4 1 1.7 0.5 2.3 0.3 1.7 0.8 2.1 0.2 2.2 0.7 1.9 0.7 1.9 0.6 1.7 1.3 1.6 1 2 1 1.6 1.1 1.5 0.7 1.8 1.4 1.5 0.7 1.8 1.5 1.3 0.8 1.8 0.9 1.4 1 2.2 1.2 1.6 0.8 1.3 1.9 1.4 1.8 1.6 1.6 1.2 1.8 0.7 1.8 0 1.9-0.4 2 1.5 1.5 0.7 1.9 1.3 1.5 1 1.9 2 2.2 1.9 1.6-0.4 1.9-0.2 1.5 1 1.9 0.7 1.8-0.7 2.1 0.4 2 1.6 2.2 1.3 2.1-0.7 2.2-0.3 2.2-0.3 1.7 0.6 2 0.8 2 0.8 2.1 0.2 2.2-0.1 1.8-1 2.5 0.2 1.5 0.5 2.3-0.2 1.9 1.3 2.1 0.3 2.4-0.1 1.7-0.7 2.2 0.2 1.9 1 1.9 1.7 2.2 0.4 2-0.2 1.8-0.6 2.6 1.6 1.9 0.7 1.9-0.5 1.9 0 2.3-0.7 2.1-0.1 2 0.2 2 0 2-0.3 2 0.7 1.8 0 2.4 0.6 2 0.4 2-0.6 1.9 1 2.1 0.2 2-0.1 2.4 0.8 1.8-0.5 2-0.2 2.3 0.5 1.9-1.3 2.1 0.1 2 0.7 1.6 0.4 2.3-0.2 2.2-0.1 2.1 0.8 2.1 1.4 1.5 0 2.1-0.7 2.4-0.1 1.7 0.4 2.1 0.9 2.5 0.1 2.1-0.4 1.9 0.1 2.1 1.1 1.8-0.2 1.7 0.8 2.2-0.5 2.2-0.5 1.9 0.7 2.1 0.3 1.6 0.4 2.1-0.4 2.3-0.7 1.9 0.3 1.7 0 2.5 0.3 1.7 0.3 1.7 0.2 2.4-0.3 1.8-1.2 2 1.6 2.2 0.6 1.9 0 2.3-0.5 1.7-0.4 1.8 0 2.1 0.4 1.9-0.3 2.3 0.8 1.8 0.7 1.9-0.4 1.9 0.3 2.2 0.1 2.1 0 2.1-0.4 2.1 0.6 2 0.9 1.9 0.2 1.9-0.1 2.3-0.6 1.5 0.2 2.2-0.4 1.8 0.5 2.1-1.3 1.9 0 2 0.5 2.2 0.6 2 0.5 1.7-0.7 2.1-1.9 2.4 0.8 1.8-0.1 2.2 0.4 1.9 0.3 1.9 0.8 1.9-0.5 1.8-0.2 2.4-0.7 1.9 0.7 1.8 0.2 2.4-1 1.6 0 2.1 0.2 2.1 0.8 1.9 0.8 2-0.5 2.2-1.8 1.7-0.2 2.1 1.1 2.2 1.8 2.2-0.7 1.4 0.6 2.2 0.1 2-1.1 1.8 0.4 2.3-0.4 2 0.6 2.2-0.4 1.6-0.6 2.4-0.4 1.9 0.8 1.9 0.7 1.8 0.5 2.4-0.3 1.7 1.2 2.4-1.8 1.8-0.1 2.1-0.2 1.6 0.5 2.3 1.3 1.7-0.4 2.3-0.5 1.6-0.5 2.2 0.2 2-0.6 2.2 0.2 2.1 0 1.8 0.6 1.8 0.1 1.9 0.4 2-0.6 2.2-0.9 2 0.2 2-0.4 2.1 0.2 2.3 1.1 1.7 0.8 2.3 0.4 1.8 0.1 1.8-0.6 2-0.5 1.8 0.6 2.5-0.2 1.8 0.6 1.9-0.7 2.1 0.4 2.3 0.6 1.5-0.6 2.1-1.2 2.1 0.4 1.9-0.2 2.2-0.4 2.2 0.5 1.6 1.3 1.8 0.1 2.1 0.3 1.9-0.2 2.1-0.3 2-0.5 2.2-0.7 2.2 0.5 1.7 0 2.3-0.2 1.9 0 2.2 0.2 1.8 1.1 1.7-0.3 2.3 0.9 2-0.4 1.9-0.2 2 0.1 2.1-0.1 1.8 0.3 1.9 0 2.2-0.8 1.8 0.7 2.2 0.5 1.9-0.1 2.3-0.3 2.1 0.7 2-0.1 1.6-0.4 2.2-0.6 2.2 0.9 1.9 0.2 1.5 0.1 2.1-0.9 2.3 0 1.9 1.2 1.8 0.4 2-0.2 2.3 0.2 1.6-0.8 2.6-0.1 1.7-0.4 2.1 0.8 2 0.1 1.9 0.3 1.8 0.3 2.5-0.3 2-0.5 1.9-0.4 1.9 0.4 2.2 0.1 1.9-0.7 2 0.1 1.7-0.4 2.3 0.5 2 0 1.6-0.4 2.2 0.5 1.9 0.3 1.9 1 2 0.4 2.1 0.3 2-1.1 2-0.8 2.1 0.2 1.7 0.8 2.2-0.7 2.4 0.3 1.6-0.1 1.9 0.8 2.2-0.1 1.8-0.1 2.5 0 2 0.5 1.5 0 1.9 0.1 2.5 0.2 1.8 0 1.8-0.4 2.1-0.4 1.9-0.1 2.2-0.3 2.1 0.1 2.2 0.6 1.7-0.6 2.3-0.5 1.5-0.6 2.3 1 2 0.1 2.2 0.4 1.7-0.2 2.2-0.1 1.6 0.4 2.4-0.2 1.9 0.7 1.7-1 2.2 0 2.3 0.9 1.7 0.1 2.1-0.4 2.2 0.2 1.4 0.4 2-0.5 2.2-0.1 2-0.3 2.3-0.2 1.6-0.2 2.2 0.3 2.1 0.3 1.8 0.3 2.4-0.3 1.6-0.1 1.9-0.1 2.2 0.7 2.1 0.2 2.1-0.2 1.8-0.4 1.9-0.2 2.2-0.6 1.9 0.2 2 0.5 1.8 0.8 2.4 0 1.6 0.1 2.4 0.4 2-0.8 2 0.5 1.7 0.1 2.3-0.2 1.6-0.4 2.1-0.4 2.3 0.2 1.7 0 2.4 0.2 1.9 0.1 2.1-0.6 1.7 0.4 2.1 0 2-0.8 2 0 2 0.6 1.6-0.3 2.5-0.1 2 0.2 1.9 0.6 1.7-0.4 2 0.2 2.2-0.2 1.9-0.1 2.4 0.2 2-0.3 1.7 0.3 1.9 0.4 1.9-0.3 2.4 0.4 1.5-0.4 2.3 0.6 1.8-0.1 2.1-0.2 2.4-0.4 1.6 0.1 1.9 0.2 2.3 0.4 1.7 0.4 2.2-0.5 2.2 0.4 1.6-0.1 2.4-0.5 1.5 0.6 2.5-0.8 2 0.2 1.9-0.2 2.2-0.6 1.9 0.4 1.7-0.1 2.2 0.4 1.9-0.1 1.9 0.4 1.9 0.5 2.4-0.4 1.9 0.1 1.7-0.1 2.4-0.4 1.6-0.1 2.4 0.1 2-0.3 1.6 0 2.4 0.3 1.5 0.9 2.1 0 2-0.6 2.3 0.2 1.8-0.1 1.8 0 2.1 0.5 2.3 0.2 1.9 0.1 1.8-0.3 2.1-0.2 2.2 0.1 1.8 0.3 2.3 0.5 1.8-0.6 2.3 0.1 1.7-0.4 2.2 0 1.7 0.1 2.1 0.5 1.8-0.3 2.5-0.1 1.6 0 2.3-0.6 1.6 0.3 2.3 0.4 2-0.4 1.9-0.2 2 0.1 2.2 0.2 2.1-0.4 2-0.1 2 0.6 1.9 0 2.1-0.4 1.9 0.4 1.7 0.1 1.9 0.4 2.2 0.2 1.8-0.2 2.3-0.8 2.2-0.1 1.6 0.1 2.1 0.4 2.3-0.1 1.6-0.2 1.8 0.3 2.3-0.2 2.3-0.1 1.6 0.1 1.9 0.5 2.3-0.3 1.9-0.3 1.9 0.1 2.1 0.2 2-0.6 1.7-0.2 2.2 0.4 2.3-0.4 2 0.2 1.8 0.1 1.7 0 2.4 0.9 1.8 0.6 2.3-0.6 1.5 0 2.4-0.3 1.6 0.1 2 0.2 2.4-0.4 1.9-0.1 1.8-0.1 2.4 0.3 1.9 0 2.1 0.2 1.9-0.1 1.9-0.2 2.3 0.1 1.7-0.3 1.8-0.1 2 0.4 1.9-0.2 2.5 0.2 1.9-0.3 1.7 0.6 2.1 0.3 2 0 2.1-0.3 2.3-0.5 2 0.1 1.9 0.3 1.8 0.3 2.2-0.3 1.6 0.1 2.2 0.2 2 0 2.2 0.1 1.8-0.3 1.9 0.1 2.3 0 1.8 0 2.1-0.1 1.9 0.3 2.1 0 1.8 0.1 1.9-0.1 2.3 0.1 1.7 0.1 2 0 2-0.6 2.1 0 2 0.2 2.4 0 1.8 0.5 1.9-0.2 2.3 0.4 1.4-0.3 2.2-0.3 2.1 0.1 1.7-0.1 2.2-0.4 2.3 0.1 1.6-0.1 2.1-0.1 1.9 0.3 2.2 0.4 1.9 0.1 2.3 0 1.7 0 2.3-0.2 1.8-0.1 1.8 0.2 2.3-0.5 2.2 0.2 1.4 0.2 2.1 0.3 2.4 0.1 1.8 0 1.8-0.1 2.2 0.1 1.8-0.2 1.9-0.2 2.1 0.1 2.2 0.2 2.2-0.3 1.9 0.1 1.7-0.3 2.4 0.3 2.1 0.2 1.6 0 2-0.2 2.3-0.2 1.8 0.5 1.8 0.2 2.4-0.2 1.9-0.4 2.2 0 1.9 0.4 1.7 0.1 2-0.1 1.8-0.1 2.2-0.1 2.1 0.1 1.9 0 1.8 0.1 2 0.2 2.4-0.2 2.2 0 2-0.5 1.8 0.3 1.9-0.1 2.2 0.1 1.8 0.1 1.8-0.4 2.4 0.3 1.5 0.1 2.6 0.2 1.5-0.3 2.4 0 1.8-0.1 1.9 0.3 1.7-0.2 2.1 0.3 2 0 2.4 0 1.6 0.1 2.2 0 1.8-0.2 2.4-0.4 2 0.2 1.7 0.1 2.1 0.2 2.1 0 1.9-0.1 2.3-0.2 1.4 0.1 2.2-0.1 2.1-0.1 2.3 0.2 1.9 0.1 1.9 0.1 1.8 0 1.9 0 2.2 0.1 1.8-0.3 2.4 0.1 2.1-0.3 1.5 0.2 2.3 0.4 2-0.1 1.9-0.2 2.2 0 1.9 0.1 1.9 0.2 2-0.1 1.9 0.3 2 0 2-0.3 2-0.2 2.3-0.1 1.5 0.3 2.2 0 2.1 0 1.8-0.2 2.4 0.5 1.6-0.1 2-0.1 2.4 0.1 1.6-0.3 2.2 0.1 1.9-0.3 1.9 0.1 2.3 0 1.6 0 2.5 0.2 1.7-0.1 1.7 0.4 2 0 2.4-0.1 2.1 0.2 1.9-0.2 1.9 0.1 1.8 0.1 2.3-0.5 1.7 0.2 2.2 0.1 1.9 0.2 1.9-0.2 2.1 0 2.3-0.1 1.8 0.2 1.9 0.3 2.1-0.3 1.7-0.2 2.3 0 1.8 0.1 2.4 0 1.6 0.1 2 0.1 1.9 0 2.2 0.4 1.8-0.3 2-0.2 2.1-0.2 2.3 0 1.8-0.1 2.2 0.2 1.8 0 1.9 0.1 2.1-0.1 1.9-0.2 1.9 0.3 2.1 0" stroke="#8064a2" stroke-width="6.6" stroke-linecap="round" stroke-linejoin="round" fill="none"/>
<path d="M281.3 932.2l0.3 2.3 0.3 2.3-0.1 2.1 0.6 2.4 0.6 1.8 0.6 2.3 1 2.2 0.1 1.7 1.3 2.1 0.5 2 0 2.3 0.7 1.9 0.6 2.1 0.9 2.2 0.6 1.7 0.5 2 1 1.8 1.1 1.3 1.4 1.4 1.3 1.6 0.9 1.4 1 1.6 1.2 1.5 0.8 2.1 1.5 1.6 1 1.8 1.1 1.2 0.7 1.7 1.8 1.8 1.2 2.4 1.3 1.8 1.7 1.8 1.4 1.1 1.6 1.3 1.5 1.1 2 0.2 1.7 1.6 1.6 0.1 1.4 1.8 1.6 0.6 2 1.7 1.6 0.1 1.6 1.2 2.4 0.1 1.7 1 2.2 1.1 2.4-0.2 1.4 0.8 1.9-0.4 2.1 0.5 1.8-1.2 2-0.2 1.9 1.2 1.9 0.7 1.8-0.2 2.2 1 2.1 0.1 1.7 0.6 1.7-0.6 2.1 1.1 1.8 0.3 2 0.8 1.8-0.8 1.9 0 2.1 0.7 1.7 0.4 1.7 1.8 2.3 0.1 1.8 1 1.8-0.1 1.9-0.5 2.2-0.8 1.6 1.5 1.7 0.7 2.2 2 2 0.2 1.9-1.7 1.5-0.3 2.2 0.6 1.9 1.3 1.7 0.6 2 0.3 1.9-0.2 2-0.2 2.1-0.1 1.5 0.6 2.3 0.5 1.4 0 2.3 0.1 1.6-0.8 2.1-1 1.9 0.6 2.3 1.3 1.8 0.1 1.8-0.8 1.5 0.7 2.3 0 1.7-0.1 2.3 0.6 1.3 0.2 2.1 0.1 2.3 1.6 1.8-0.3 1.7 0.9 2 0.4 2-0.6 1.5-1.4 1.9 0.7 2.3-0.6 1.6 1.1 1.8 0.5 1.9 1.8 2.1-0.6 2.2-0.5 2 0 1.9 0 1.3-0.5 2 0.3 2 1.6 1.7 0 2 0.6 2.1-0.4 1.9 0.1 1.8-0.3 2.1 0.5 2-1.2 2-0.3 1.9-0.4 2 0.9 1.7 1.5 2.1-0.8 2.3 0.2 2-0.9 2.1 1.1 1.9-0.5 2 0.4 1.9-0.2 2.3 0.9 2.1 0 1.6 0.9 1.9-0.3 2.3 0.2 2.2-0.2 1.9-0.6 2.1-0.8 1.5 0.8 2.5-1 1.6 0.1 2.3-0.1 1.6 0.4 2 0.1 2.2 0.3 1.8 0.4 2.1 0.3 2.1 0.4 2-0.4 2.3 0.9 1.8-0.9 1.8 1.1 2.2-0.9 2.2 0.7 1.6-0.7 2.2-0.4 1.9 0.6 2.2 0.1 2 0.1 1.6-0.1 2.5 1.4 2-0.8 2 0.4 1.7-0.1 2.3 0.6 2-0.8 2.1-0.6 1.7 0.2 1.8 0 2 0.9 2-0.5 2.1 0.8 2.2 0 2.1-0.5 1.6-1 2-0.7 2-0.4 2.1 0.9 2.2-0.2 1.7 1.3 2.2-0.1 1.8 1 2.3-0.2 2.1-0.3 1.9-0.1 1.8 0.3 2-0.6 2.1 0.5 2.3-0.1 1.7-0.1 2.1 0.5 2.2 0.3 1.5 0.2 2.2-1.3 2.2-0.9 1.9 0.2 1.9 0.9 2.1 1 2.2-0.4 1.6-0.3 2.1 0 2-1.2 1.7-0.4 2.3 0.5 1.8 0.9 1.9 0 2.3 0.4 2 0.4 1.9-0.4 1.8 0.6 2.6-0.3 1.6 0 2.2 0.2 2.1-0.6 1.6 0.3 2.1 0.5 2 1 2.1-0.1 2.3-0.7 1.8-0.4 1.8-1.2 2.4 0.8 1.7-0.3 2.1 1.1 2 0.6 2.2 0.4 1.6 0.7 1.9-0.7 2.2 1.1 1.8-0.8 2.4-0.5 1.7 0 2.2-0.7 1.7 1.2 2.1 0.9 2.1 0.5 2-0.8 1.8 0.2 1.9-0.6 2.5 0.3 2-0.8 1.8-0.1 1.8-0.6 2.5 1.3 1.7 0.6 2.2 0.8 1.9-0.8 2.1 0.3 1.6-0.6 2.2 0 2-0.1 1.8 0.6 2.2-0.2 2.2 0.8 2.1 0.1 1.4-0.6 2.3 0.1 2.1 0.9 1.7-0.5 2.5 0.4 1.7-0.8 2 0.5 2.2-0.4 1.7 0.3 1.8-1.1 2.1 0 2.2 0.6 1.8 0.2 2-1.2 2-0.3 2.1 1.3 2 0.7 1.8 0.7 2.3-0.5 2 0.3 1.9 0.4 2.2-0.9 1.7-0.1 2.1 1.1 2.4 0.8 1.9-1.2 2-0.2 1.8-0.6 2.1-0.1 1.7 0.8 2.3 0.5 2.1-1.5 1.5 0.3 2.2-1.1 2.3-0.4 2 0.9 1.8 0.2 1.7 0.4 2.4 0.2 1.9-0.7 1.8 0.6 1.9-0.5 2.2 0.8 2.1-0.4 2.3 0.3 1.5 0.2 2.4-0.1 1.8 0.4 2.3 0.1 1.5 0 2.1-0.3 2.2-0.8 1.9-0.1 2.1 0.3 1.9-0.3 1.9-0.1 2.1 0.9 1.8 0.8 2.2-0.3 1.9 0.7 2.3 0.1 1.6-0.9 2.3-0.2 2.1 0.5 1.7-0.3 2.2-0.7 1.8-0.1 2.2-0.9 1.7 0.5 2.1 0.5 2.2 0.7 2.2-0.4 2-0.4 1.7 0.3 2 1.2 2-0.6 1.9 0.3 2.2 0.3 1.9-0.1 2.2-1.3 1.5 0.2 2.4-0.2 1.9-0.7 2 0.9 2.1-0.5 1.7 1 2.2-0.4 2.1 0.9 2.1-0.2 2-0.5 1.8 0.4 1.9-1 2.3 0.1 1.5-0.2 2.3 1.2 2.1-0.1 1.7-0.6 2-0.5 2 0.3 1.9 0.2 2.4 0.6 2.1-0.2 2 0.8 2.1-0.3 1.4-0.2 2.1-0.1 2.2-0.6 2-0.9 2.1 0.6 1.9-0.1 2 0.9 1.8 0.1 2.2 1 1.7-1.1 2.6-0.8 1.9 0.1 1.6 1 2.4 1 1.5-0.3 2.4-0.5 2-0.3 1.7-0.2 2-0.6 2.4 0.4 1.8 0.4 2 0 2 0 1.9 0.4 2.4 0.9 1.8-0.4 2.1-0.1 2-0.4 1.9-0.6 1.8 0.4 2.1 0.3 2.2-0.2 1.7 0.3 1.8 0.5 2.4-0.1 1.9 0.4 1.7-0.2 2.4 0.4 1.9 0.1 1.8 0.3 2.1 0.2 2.3-0.1 1.7-0.7 1.9-0.4 1.9-0.3 2.6-0.2 1.6-0.4 2.4 0.1 1.9 0.8 1.5-0.1 2.4-0.5 1.9 0.2 2 0.4 2.2-0.2 1.5 0.3 2.4-0.1 1.6-0.4 2.5 0.3 1.8 0.5 1.8 0 1.9 0.1 2.4-0.3 2.1 0.4 2-0.2 2.1 0.2 1.7 0.4 2.2 0.1 1.9-0.3 1.8 0.1 2.3-0.2 1.6-0.3 1.9-1 2.1 0 2.4 0.2 1.6 0.5 2.1 0 2-0.2 2.3-0.3 1.7-0.1 1.7 0.2 2.3 0.9 1.9-0.2 2.3 0 1.9 0 1.9 0.1 1.8 0.2 2.2 0.2 1.8 0.3 2.1 0.3 2.2-0.2 1.5 0 2.1 0 1.8 0.1 2.2 0.2 2-0.5 2-0.1 1.9-0.1 2.1-0.1 1.9-0.2 2.2-0.1 2-0.4 1.7-0.3 2 0.4 2 0.6 2.1 0.3 1.9-0.3 2-0.1 2.3 0.1 1.7-0.1 2.2-0.2 2 0.2 1.9-0.2 1.9 0.7 2 0 1.8 0.4 2.5 0.1 1.7 0.2 1.9-0.6 1.9-0.1 2.2 0.1 2.3 0 2-0.1 1.4-0.4 2.6 0.3 1.7 0 1.9 0 1.8 0.1 2.1-0.4 2.4 0.1 1.9 0 1.9 0.3 2.1 0.1 1.9 0 1.8-0.5 2.1 0.5 2.1 0.2 1.7 0.3 2.3-0.4 1.9-0.5 1.7 0.2 2.2-0.3 2 0.5 1.9 0.1 2 0.3 1.8 0.3 2.3-0.3 1.8-0.1 2.4 0.1 1.6-0.4 2.1-0.1 1.7 0.5 2.1 0.1 1.9-0.3 2.1 0.3 2.2 0.3 2 0 1.6 0.4 2.3-0.4 1.7-0.3 2.3-0.6 1.9-0.2 2.1 0 2.1 0.3 1.9 0.6 2 0.3 1.8 0 2 0.2 2.3 0 1.8-0.2 2.2 0.3 2-0.5 1.9 0 2-0.1 1.7-0.4 2.2 0 1.8 0.1 1.7-0.4 2.3 0.6 2.2 0.6 2 0.2 1.5 0 2.3-0.4 2 0 2.2 0 1.7 0 1.9 0.2 1.8 0.1 2.5 0.1 1.7-0.2 1.7-0.1 2.3 0.2 2.2-0.4 1.9 0.2 1.8 0.1 1.8-0.1 2.2 0.2 1.9-0.1 2.3 0.2 1.7 0.1 2 0.3 1.9 0.1 2.1-0.1 2.2 0.1 1.8 0.2 1.7-0.5 2 0 2.4 0.2 1.5-0.3 2.3-0.2 1.8 0.1 2.1-0.2 2.1 0 1.9 0.3 1.7 0.1 2.1 0.2 2.2 0 2-0.4 1.7 0.2 2.4-0.2 1.8 0.1 2 0.5 2 0.3 2.2-0.2 1.9-0.2 1.9-0.2 2.1-0.1 2.1 0 1.7 0.2 2.4-0.4 2-0.3 2 0.4 1.4 0.5 2.1 0.1 1.9-0.3 2.2 0 2.1 0.1 2.1 0 2.2 0.1 1.5 0.1 2.4 0 1.8-0.4 1.9-0.3 1.9 0.3 2.1 0.4 2.1 0.4 1.8 0 2.2 0 1.8-0.2 2.1-0.4 2.2-0.5 1.8 0.5 1.8 0.2 2.3 0.1 1.9 0 2.1 0.2 1.7-0.1 2.2 0.1 2-0.2 1.9 0.2 2.1-0.1 2.2 0 1.9 0 2.3 0.2 1.5-0.1 2.2 0 1.9 0 2.2-0.4 2.1 0.4 1.7 0.1 2.3 0.3 1.5-0.3 2.1-0.3 2.3-0.2 2.1 0.2 2.1 0.1 1.7 0 2.1-0.1 1.9 0.1 1.8 0.2 2.4 0.4 1.9-0.3 1.9-0.2 2.1-0.4 1.8 0.2 1.9-0.2 1.9-0.1 2.4 0 2 0.4 2.1 0 2 0.2 1.7 0.2 2-0.1 1.8-0.3 2.1 0.1 2.3 0.1 2.1 0 1.5-0.2 2.1 0 1.8 0.3 2.4 0.1 2 0 1.6 0 2.4 0.2 1.6 0 2.2 0.1 1.8 0.1 2 0.1 2-0.2 2.4-0.5 1.8 0 2.1 0 2.2 0.1 2 0.1 1.6-0.2 2.2 0.1 2-0.1 2.2 0.3 1.7 0.2 1.7 0 2.4 0.1 2-0.4 1.8 0 2.1-0.1 1.9-0.1 2.1 0 1.8-0.1 1.9 0.2 2.4 0.4 1.6-0.1" stroke="#17375e" stroke-width="6.8" stroke-linecap="round" stroke-linejoin="round" fill="none"/>
<path d="M281 935.9l0.5 2.6 0.3 1.9 0.1 2.3 0.5 2.3 0.5 1.6 0.6 2 0.7 1.8 0.5 1.8 1.3 1.8 0.3 2 0.7 2 0.3 2.1 0.4 2.1 0.5 1.9 0.6 2.2 0.9 2 1.3 1.7 1.3 1.9 1 1.4 1.4 1.2 1.2 1.2 1 2 1 1.7 0.6 2 1.4 1.9 0.8 2.3 1.5 1.6 0.9 2.6 1.3 0.7 1.3 1.3 1.2 0.9 1.5 1.4 1.8 1.5 1.8 1.4 1.8 1.7 1.7 0.7 1.4 1.5 1.7 1.2 1.4 0.6 1.7 0.7 1.7 2 1.9 0.5 2 1.6 1.9-0.5 1.8 0.3 2.3 0.4 2.2-0.1 1.7 0.2 1.6 0.6 1.9 0.3 2.4 0.7 1.4 0.3 1.9 0.4 2-0.3 2.2 1 1.5 0 2.2-0.1 1.9-0.3 1.8 1.2 1.9 1.3 1.9 0.5 2.2 0.1 1.7-0.2 2.1-0.4 1.5-0.2 2.1 0.5 2.2 0.9 1.6-0.2 1.7 0.8 2.2 0.1 2.1 0.7 1.5 0.5 2.4-0.8 1.4 0.3 2 1.2 1.7 0.2 2.1 1.2 1.8-0.2 2.3 0.5 1.9-0.7 1.7 0.6 1.7 0.5 2.2 0.4 1.6-0.4 1.8 1.2 2.4 0.4 2 1.6 1.4-1 1.9 0.2 2.2-0.3 2 0 1.6 0.2 2.3-0.3 1.7 0.8 2 1 2-0.3 2-0.6 1.7 0.1 2-0.7 1.5 0.7 1.8 0.6 2.5 0.4 1.9 0.6 1.7-0.1 1.6-0.6 2.2 0.6 1.6 0.2 2-0.2 2.3 0.6 1.8 0.4 1.7-0.4 1.9-0.6 2.1 0.2 1.7-0.4 1.8-0.9 2.2 0.9 1.7 0.4 2.1-0.6 2 0.9 1.5 0.5 2.1-0.3 1.8 0.8 2 0.2 1.6 0.8 2.3-0.5 1.7-0.4 1.8-1.1 2 0.8 2.4-0.1 2-0.6 1.7 0.9 2.5-0.4 1.9 1.9 2 1.5 2-0.2 2.1-0.4 1.7-0.3 2.1 0 2.3-0.2 2-1.2 1.9 0 1.7-0.4 2.3 0.4 1.9 0.1 2.2-0.1 2 0.9 1.8-0.2 2.1 0.8 1.9-0.5 2 0.1 1.9-0.1 2.2-0.1 1.9-0.3 2 1.1 1.9 1.2 2.3 0 1.6-0.3 2.2 0.1 1.9-0.5 2.1 0.3 2.2 0 2.1-0.3 1.6-0.6 2.2-0.4 2.3 0.1 1.9 0.4 1.9 0 2.1 0.6 1.8 0 1.9-0.5 2.2 0.2 1.6-0.7 2.6-0.3 1.6 0.2 2 1 2.4-0.5 1.5-0.1 2.2-0.2 2.1 0.4 1.6-0.8 2.1 0.5 2-0.1 2.1-0.1 2.4 0.1 1.7 0.1 1.8 0.5 2.4 0.8 1.6-0.5 2.4 0.8 2-1.3 1.9-0.7 2 1 1.8-0.4 2.2 1.5 2-1.4 1.8-0.1 2.4-0.2 1.5 1.6 2.2 0.1 1.9 0.3 2.4-0.2 1.9-0.3 1.8 0.2 2.3-0.2 1.8 0.6 2.2 0.7 1.7-0.9 1.7-0.5 2.2-1.1 2.4 0.8 2 0.1 1.6 1.5 2.2 0.5 1.9-0.2 2.2 0.2 1.8-0.8 2.2-0.6 1.8-0.4 2.1 0.2 1.8 1 2 0.8 2 0.4 2.4-0.3 1.6-0.7 2.1 0 1.7-0.3 2.6-1 1.9 0.1 2.1-0.3 1.8 0.1 1.9-0.8 2.2 1.1 1.9-0.6 1.9 0.7 1.9 1.1 2.1 1.8 2.1 0.1 2.1-1.3 2-0.2 1.9-0.2 2-0.7 2 0.5 2.1 0.9 1.9 1.3 1.8-1 2.3 0.8 1.9-0.2 2.1-1.3 2.1-0.6 1.8 1 1.8 0.1 2-0.4 2-0.2 1.8-0.3 2.5 0.3 1.9 0.4 2.1 1.3 1.7 0.2 1.9 0 2.4-0.7 1.8-1.2 1.8-0.7 2.1 1.2 1.9 0.4 2.1-0.5 2.2-0.1 2 0.5 1.8-0.5 2.3 0.8 1.8 0.2 2 0.4 1.7 0.1 2.4-0.5 2.1 0.7 1.9-0.7 2 0.7 1.9 0.4 1.8 0 2.1-0.7 1.8 0 2.2 0.7 2.4-0.3 1.6 0.3 2.2-0.1 2-0.1 1.6 0.4 2.4-0.8 1.6-0.1 2-0.1 2.4-0.5 1.8 0.3 1.9 0.3 2.4 0.3 2-0.5 1.9-0.3 2-0.2 1.8 0.9 2 0.5 2.2 1.2 1.8-1 2-0.8 2 0.4 1.9-0.4 2.1-0.1 2.3-1.1 1.8-0.5 2.1 0.6 1.7 0.1 2.1 0.6 2.3 0.9 2-0.1 1.8-0.3 2 0.4 1.8-0.8 2 0.3 2.1-0.5 1.8 0.6 2.3 0.8 2.1 0.4 1.8-1.1 2.2-0.7 2.2 0.5 1.7-0.4 1.7 0.2 2.5-0.3 1.6 0.6 2.2 0.1 1.9 0.1 2.3-0.6 1.8 0.7 2 0.6 2.1 0.1 1.8-0.5 2.1-0.1 1.7 0.1 2.3-0.9 2.2 0.3 1.9 0.1 2 0.1 1.6-0.5 2.1 0.3 2-0.1 2 0.7 2.2 0.6 2-1 2-0.4 1.8-0.1 2 0.6 2 0.2 2-0.4 2.4-1.1 1.5 0.8 2.1 0.2 2.4 0.4 2-0.2 1.9 0.8 2.1 0.1 1.8-0.1 2.2 0 1.7-0.6 1.9-0.2 2.5 0.2 1.6 0.6 2.2-0.4 1.7-0.1 2.1 0.5 2.1 0.1 1.9-0.5 2.3 0.2 2 0.7 1.7 0.5 2.1-0.1 2-0.5 2.3-0.9 1.8 0 2-0.8 2 0.8 1.7-0.2 1.9 0.7 2.1 0.1 2.1 0 2.2-0.4 1.7 0.2 2.3 0.5 2.1-0.3 1.5 0.3 2.4-0.1 2.1 0 1.9-0.1 1.7-0.1 2.3-0.8 1.7 0.5 2.1 0.5 2-0.3 2.1 0 1.9-0.4 2.2-0.1 2.2 0.7 1.8 0 1.6-0.6 2.4-0.3 2 0.3 1.8 0.8 2.3 0.2 1.8-0.2 2.3 0.2 1.8-0.7 2.1-0.1 1.6 0.4 2-0.2 2.3-0.7 2.1 0.8 1.9 0.4 2.1-0.2 2 0.2 1.9-0.8 1.8 0.5 2-0.2 2.1 0.1 2 0.2 2.1 0.3 2.2 0.1 1.8 0.4 1.7 0 2.2-0.5 1.8-0.6 2.4 0.3 1.6 0.3 2.4 0.3 1.8 0.4 2-0.2 1.8 0.6 2.2-0.4 2-0.3 1.7 0.4 2.4-0.6 1.7-0.2 2 0.2 2.3 0 2 0.8 1.9-0.3 1.7 0.4 2-0.3 1.9-1 2.6-0.1 1.7-0.1 1.7-0.1 2.2 0.7 2.2 0.3 1.6-0.1 2.5-0.1 1.6 0.1 2.4-0.6 1.8 0 1.9 0.2 1.7-0.2 2.1 0.5 2.3 0.4 1.6 0.9 2.3-0.5 2-0.1 1.7-0.3 2.4-0.1 2 0.2 2-0.1 2-0.1 1.9-0.5 1.8-0.1 2.2-0.2 2 0.1 1.8 0.2 1.8 0.4 1.9 0.5 2.3 0.2 2.1-0.2 1.9-0.7 1.8-0.4 1.9 0.4 2-0.4 2.1 0.3 2.3 0.4 2.1 0.3 1.6 0 2.2-0.4 1.7 0.2 2.3-0.2 2.1 0.3 1.8-0.3 1.8-0.2 2.2 0.1 2 0.4 1.6-0.4 2.5 0.1 1.9 0.1 1.7 0 2.1 0.6 1.7-0.2 2.2 0.4 2.2-0.5 1.8 0.2 2.2 0 1.8 0.2 1.9-0.2 2.3-0.1 1.6-0.3 2.3-0.4 1.8-0.1 2-0.1 2.3-0.1 2 0.4 1.8 0.6 1.9 0.4 2.3-0.1 1.5 0 2.4 0.2 2 0 1.7 0.1 2.1 0 1.8-0.5 2.3 0.1 1.8-0.4 1.8-0.2 2.1 0.2 2 0 2 0.5 2.2 0.2 1.8-0.3 2.3 0.3 1.9 0.3 1.8-0.3 1.8 0.1 2.2-0.2 2.2-0.2 2.1-0.2 1.6 0.2 1.8 0.1 2-0.1 2.1 0.2 2.1 0.2 1.8 0.3 2.2-0.2 2.2-0.1 1.5-0.2 2.1-0.3 2.3-0.2 1.8 0.7 1.8 0.4 2.1-0.1 2.2-0.4 1.5-0.3 2.5 0 1.7 0 1.8 0 2.3-0.2 1.9 0.4 1.8 0 2.1 0.1 2 0.3 2.3 0.5 2 0.1 1.7 0 2.2 0 1.9-0.4 1.9-0.4 2.2-0.1 2 0.1 1.6 0.1 2.3 0.2 2 0 1.8 0 2.1 0.2 1.9-0.1 2 0.1 1.8 0.1 2.2-0.3 2-0.1 1.8 0 2.2 0 1.7 0.1 1.8 0.2 2.5-0.1 1.7 0.1 1.7-0.3 2.2 0 2 0 2.3 0.1 1.6 0.1 2.4 0.1 1.8-0.3 1.8-0.2 2.4 0 1.7 0.2 2.1 0.1 2.1 0.6 2.2 0.1 1.6-0.1 2 0 1.8 0.2 2.2 0.1 2.3 0 1.5-0.2 2.5-0.1 1.9-0.2 2.1 0 1.7 0 2.1-0.1 2.1 0.3 2-0.4 1.8 0.2 1.9-0.2 2.3 0.2 1.8 0.1 2.2 0.1 2 0.1 2-0.2 2.2 0.2 1.9-0.3 1.9 0 2-0.1 1.8 0 2.1 0 2.1 0.1 2.1 0.3 2 0.1 1.6 0.4 2-0.1 2 0.1 2.3-0.1 1.7-0.2 2.2-0.1 2.1 0 2.2 0 1.8 0 1.9-0.1 1.7 0.2 2.4 0 1.9 0 2.3 0 1.5 0.2 2.4-0.1 2.1 0 1.5 0.1 2.2-0.1 2.2-0.3 2.1-0.2 1.6 0.1 1.9-0.1 2-0.2 2.2 0 2.2 0.2 2-0.1 1.5 0.2 2.4 0.1 2.1 0.1 1.8-0.3 1.9 0.2 2 0.5 1.9-0.1 2.1 0.3 2.1-0.2 1.9-0.1 2.2-0.1 1.8 0.2 1.9-0.1 2.4 0 1.7 0.1 1.9 0 2 0 2.1 0 2 0 1.9-0.3 2 0 1.7 0.2 2.3-0.1 2.1-0.1 1.7 0.4 1.9 0.3 2.3 0 2.2-0.4 1.7-0.1 2.2 0 2 0.3 2-0.1 2 0.1 1.9 0.1 2.2 0.2 1.8-0.1 1.7-0.1 2.5-0.3 1.9-0.1 2 0.1 1.9 0.2 1.6 0 2.3-0.3 1.9 0" stroke="#17375e" stroke-width="6.8" stroke-linecap="round" stroke-linejoin="round" fill="none"/>
<circle cx="1000.5" cy="1026.5" r="2.2" fill="#9bbb59"/>
<circle cx="1107" cy="1030" r="2.2" fill="#8064a2"/>
<circle cx="1463" cy="1031" r="2.2" fill="#8064a2"/>
<circle cx="946" cy="1028.5" r="2.2" fill="#c0504d"/>
<circle cx="1087" cy="1029.5" r="2.2" fill="#9bbb59"/>
<circle cx="1019" cy="1029.8" r="2.2" fill="#9bbb59"/>
<path d="M286.5 950.4v-6M312.5 992.3v-4M324.5 999.9v-3M361.5 1006.4v-3M384.5 1011.3v-8M403.5 1014v-8M425.5 1015.7v-5M441.5 1016.9v-4M470.5 1018.7v-6M490.5 1020.2v-8M521.5 1021.3v-3M532.5 1021.8v-5M559.5 1023.1v-5M591.5 1022.9v-3M608.5 1022.8v-3M638.5 1023.6v-4M651.5 1024v-8M685.5 1025v-6M716.5 1025.8v-6M757.5 1026.7v-3M781.5 1027.2v-3M823.5 1027.7v-3M849.5 1027.8v-5M867.5 1027.8v-4M891.5 1027.9v-3M908.5 1028v-6M941.5 1028.1v-4M970.5 1028.3v-4M1012.5 1028.8v-4M1030.5 1029v-4M1056.5 1029.3v-3M1066.5 1029.4v-8M1086.5 1029.7v-8M1106.5 1029.8v-4M1128.5 1030v-5M1145.5 1030.1v-2M1168.5 1030.3v-6M1204.5 1030.5v-8M1228.5 1030.7v-3M1244.5 1030.8v-3M1258.5 1030.9v-6M1292.5 1031.2v-5M1314.5 1031.4v-6M1325.5 1031.4v-5M1354.5 1031.7v-4M1366.5 1031.8v-6M1401.5 1032.1v-3M1432.5 1032.3v-3M1466.5 1032.4v-4M1506.5 1032.6v-2M1522.5 1032.7v-3M1542.5 1032.8v-4M1564.5 1032.9v-5M1576.5 1033v-8M1594.5 1033.1v-3M1608.5 1033.1v-4" stroke="#558ed5" stroke-width="1" fill="none"/>
<circle cx="276" cy="264" r="3" fill="#17375e"/>
<circle cx="276" cy="414.3" r="3" fill="#17375e"/>
<circle cx="276" cy="433.9" r="3" fill="#8064a2"/>
<circle cx="276" cy="509.9" r="3" fill="#8064a2"/>
<circle cx="276" cy="546.3" r="3" fill="#9bbb59"/>
<circle cx="276" cy="588" r="3" fill="#9bbb59"/>
<circle cx="277" cy="673" r="3" fill="#9bbb59"/>
<circle cx="276" cy="681" r="3" fill="#c0504d"/>
<circle cx="276" cy="693.9" r="3" fill="#c0504d"/>
<circle cx="277" cy="700.6" r="3" fill="#17375e"/>
<circle cx="277" cy="704.4" r="3" fill="#8064a2"/>
<circle cx="277" cy="754.3" r="3" fill="#c0504d"/>
<circle cx="277" cy="773" r="3" fill="#17375e"/>
<circle cx="277" cy="779.6" r="3" fill="#9bbb59"/>
<circle cx="277" cy="782.9" r="3" fill="#8064a2"/>
<circle cx="278" cy="790.9" r="3" fill="#17375e"/>
<circle cx="277" cy="805.7" r="3" fill="#c0504d"/>
<circle cx="276.5" cy="807.6" r="3" fill="#e46c0a"/>
<circle cx="278" cy="811.4" r="3" fill="#8064a2"/>
<circle cx="278" cy="816.2" r="3" fill="#9bbb59"/>
<circle cx="276.5" cy="818" r="3" fill="#e46c0a"/>
<circle cx="277" cy="828.6" r="3" fill="#e46c0a"/>
<circle cx="277" cy="838" r="3" fill="#e46c0a"/>
<circle cx="278.5" cy="844.8" r="3" fill="#17375e"/>
<circle cx="278" cy="849.5" r="3" fill="#c0504d"/>
<circle cx="278.5" cy="853.3" r="3" fill="#9bbb59"/>
<circle cx="278" cy="856" r="3" fill="#e46c0a"/>
<circle cx="278.5" cy="863.8" r="3" fill="#8064a2"/>
<circle cx="279" cy="868.6" r="3" fill="#17375e"/>
<circle cx="279" cy="873.3" r="3" fill="#e46c0a"/>
<circle cx="279" cy="878" r="3" fill="#8064a2"/>
<circle cx="279" cy="883" r="3" fill="#17375e"/>
<circle cx="279.5" cy="887" r="3" fill="#e46c0a"/>
<circle cx="279.5" cy="892" r="3" fill="#9bbb59"/>
<circle cx="279.5" cy="897" r="3" fill="#8064a2"/>
<circle cx="280" cy="902" r="3" fill="#c0504d"/>
<circle cx="280" cy="907" r="3" fill="#9bbb59"/>
<circle cx="280.3" cy="912" r="3" fill="#17375e"/>
<circle cx="280.6" cy="918" r="3" fill="#8064a2"/>
<circle cx="280.6" cy="922" r="3" fill="#17375e"/>
<circle cx="281" cy="927" r="3" fill="#17375e"/>
<circle cx="281" cy="932.5" r="3" fill="#9bbb59"/>
<circle cx="281.2" cy="936.5" r="3" fill="#8064a2"/>
<circle cx="281.4" cy="930" r="3" fill="#17375e"/>
<text transform="translate(207.8 1064.3) scale(0.984 1)" font-size="65.6" text-anchor="end">0</text>
<text transform="translate(207.8 869.5) scale(0.984 1)" font-size="65.6" text-anchor="end">0.1</text>
<text transform="translate(207.8 674.7) scale(0.984 1)" font-size="65.6" text-anchor="end">0.2</text>
<text transform="translate(207.8 479.9) scale(0.984 1)" font-size="65.6" text-anchor="end">0.3</text>
<text transform="translate(207.8 285.1) scale(0.984 1)" font-size="65.6" text-anchor="end">0.4</text>
<text transform="translate(207.8 90.3) scale(0.984 1)" font-size="65.6" text-anchor="end">0.5</text>
<text transform="translate(275.9 1158.8) scale(0.984 1)" font-size="65.6" text-anchor="middle">0</text>
<text transform="translate(612.4 1158.8) scale(0.984 1)" font-size="65.6" text-anchor="middle">10</text>
<text transform="translate(948.9 1158.8) scale(0.984 1)" font-size="65.6" text-anchor="middle">20</text>
<text transform="translate(1285.4 1158.8) scale(0.984 1)" font-size="65.6" text-anchor="middle">30</text>
<text transform="translate(1621.9 1158.8) scale(0.984 1)" font-size="65.6" text-anchor="middle">40</text>
<text transform="translate(947.8 1225.1)" font-size="66.5" font-weight="bold" text-anchor="middle" textLength="201.5" lengthAdjust="spacingAndGlyphs">t <tspan dy="-2.2">[</tspan><tspan dy="2.2">min</tspan><tspan dy="-2.2">]</tspan></text>
<text transform="translate(90 557) rotate(-90)" font-size="66.5" font-weight="bold" text-anchor="middle" textLength="123" lengthAdjust="spacingAndGlyphs">I <tspan dy="-2.2">[</tspan><tspan dy="2.2">A</tspan><tspan dy="-2.2">]</tspan></text>
<text transform="translate(34 110.6) scale(0.915 1)" font-size="76">A<tspan font-size="77" dx="5.7" dy="-0.9" textLength="21" lengthAdjust="spacingAndGlyphs">)</tspan></text>
<circle cx="1672.6" cy="402.8" r="8.1" fill="#e46c0a"/>
<text transform="translate(1717 427.3)" font-size="75.5" textLength="107" lengthAdjust="spacingAndGlyphs">8 V</text>
<circle cx="1672.6" cy="518" r="8.1" fill="#953735"/>
<text transform="translate(1718.6 542.3)" font-size="75.5" textLength="148.6" lengthAdjust="spacingAndGlyphs">12 V</text>
<circle cx="1672.6" cy="633.1" r="8.1" fill="#77933c"/>
<text transform="translate(1718.6 657.3)" font-size="75.5" textLength="148.6" lengthAdjust="spacingAndGlyphs">16 V</text>
<circle cx="1672.6" cy="748.2" r="8.1" fill="#604a7b"/>
<text transform="translate(1717.7 772.3)" font-size="75.5" textLength="149" lengthAdjust="spacingAndGlyphs">20 V</text>
<circle cx="1672.6" cy="863.4" r="8.1" fill="#17375e"/>
<text transform="translate(1717.7 887.3)" font-size="75.5" textLength="149" lengthAdjust="spacingAndGlyphs">24 V</text>
</g>
<g id="chartB">
<g stroke="#828282" stroke-width="2" fill="none">
<path d="M290.0 1297V2278"/>
<path d="M267 2255.0H1640"/>
<path d="M267 2096H290.0"/>
<path d="M267 1936H290.0"/>
<path d="M267 1777H290.0"/>
<path d="M267 1617H290.0"/>
<path d="M267 1457H290.0"/>
<path d="M267 1298H290.0"/>
<path d="M627 2255.0V2278"/>
<path d="M965 2255.0V2278"/>
<path d="M1302 2255.0V2278"/>
<path d="M1639 2255.0V2278"/>
</g>
<g shape-rendering="crispEdges">
<path d="M291 2061h2v5h2h2v3h2v1h2v-3h2v1h2v-1h2h2h2h2v3h2h2v-1h2h2v1h2h2v-1h2h2h2v2h2v-3h2v2h2v-1h2v1h2v-2h2h2h2h2v-1h2v-1h2v1h2v-1h2v-1h2v1h2v1h2v-1h2v-2h2v2h2h2h2v2h2h2v-1h2h2v1h2h2h2h2v-1h2h2v1h2v-1h2h2v1h2v-1h2h2h2v1h2h2h2v-2h2v1h2v-1h2v2h2v-1h2v1h2v-1h2v1h2h2h2h2v-2h2v1h2h2v2h2h2h2h2v-1h2v1h2v-1h2v1h2h2v2h2h2v-1h2v2h2v-1h2v1h2v-1h2v1h2v-1h2v-3h2v1h2v-1h2v-1h2v1h2v-1h2v-1h2v1h2h2h2v1h2h2v-1h2h2h2v-1h2v1h2h2v1h2v-1h2v-1h2h2h2h2v-1h2v1h2v-1h2h2v2h2v-1h2h2h2h2h2v1h2v-2h2v1h2h2h2h2h2v-1h2v-1h2h2h2h2h2v-1h2h2h2v1h2h2h2v-1h2v2h2v-1h2v-1h2h2h2h2h2v-1h2h2h2v1h2h2h2h2h2h2v1h2h2h2v-1h2h2v1h2h2v-1h2v-1h2h2h2h2v1h2v-1h2h2h2h2v1h2v-1h2h2v1h2v-1h2v1h2v-1h2v1h2v-1h2h2v1h2v-1h2v1h2v-1h2h2h2h2h2h2h2h2h2h2h2h2h2v-2h2v1h2v1h2v-1h2h2v1h2v-1h2h2h2h2h2v1h2v1h2h2h2h2v1h2v-1h2h2v1h2v-1h2h2v-1h2v1h2v-1h2v1h2h2v1h2v-1h2v1h2h2v-1h2v1h2v1h2h2v-1h2h2v2h2v-1h2h2h2h2v-2h2v1h2v1h2v-1h2v2h2v-1h2h2h2h2v-1h2v-1h2h2v1h2v-1h2h2h2v1h2v1h2v-1h2h2v-1h2v2h2v-1h2h2v-1h2v1h2v-1h2h2h2h2v1h2h2h2h2v1h2v-1h2h2v-1h2h2h2v1h2v1h2v-1h2h2h2h2h2h2h2h2v1h2v-1h2h2v1h2v-1h2h2v-2h2h2v2h2v-2h2h2h2h2h2v-2h2v2h2v1h2v-1h2h2v1h2v-1h2v1h2h2h2h2h2v1h2v-1h2h2h2h2h2h2v-1h2h2h2h2h2v1h2v-1h2h2v-1h2v1h2v-1h2v2h2h2h2h2h2h2h2h2h2h2v-1h2v-1h2h2v1h2h2h2v-1h2v1h2v-1h2h2v1h2h2h2v1h2v-1h2v-1h2h2v1h2h2h2v-1h2v1h2h2v-1h2v-1h2h2v1h2h2h2v-1h2v1h2h2v1h2h2v-1h2h2h2v-1h2v1h2h2h2h2h2h2h2h2h2v1h2h2v-2h2v1h2v-1h2h2h2h2v1h2v1h2v-1h2v-1h2v2h2v-1h2v-1h2v1h2v-1h2h2h2v1h2v-1h2h2h2v-1h2v1h2v-1h2h2h2v1h2v1h2h2v-1h2h2h2v1h2v-1h2h2v-1h2v2h2v-2h2h2v1h2h2v-1h2v1h2v-1h2v1h2h2v-1h2v2h2v-1h2h2h2v-1h2h2h2h2h2v1h2v-1h2h2v1h2v-1h2h2h2h2h2h2h2h2h2h2v-1h2h2v-1h2v1h2h2h2h2v1h2h2v-1h2h2h2h2h2h2h2h2v1h2h2v1h2v-1h2v1h2v-1h2h2h2v-1h2v1h2v-1h2h2h2h2v-2h2v1h2v-1h2v1h2v1h2v-1h2v2h2v-1h2h2v-1h2v1h2h2v-1h2v-1h2v1h2v-1h2h2v1h2h2v1h2v-1h2h2h2v1h2v-1h2h2v1h2h2h2v-1h2v1h2h2v1h2v-1h2v1h2h2v1h2h2v-1h2v-1h2v1h2h2v1h2v-1h2v1h2v-1h2h2h2v-1h2v1h2v-2h2v1h2h2h2h2h2h2h2v1h2h2v1h2v-1h2v-1h2v1h2v1h2v-2h2v1h2v-1h2h2v1h2v-2h2h2v1h2h2v-1h2h2v1h2h2h2v1h2v-1h2v-1h2h2v-1h2v2h2v-1h2h2h2v1h2h2h2v-2h2h2h2v-1h2v1h2h2h2h2h2h2h2h2h2h2v1h2h2h2v-1h2v1h2h2h2h2v2h2v-1h2v1h2h2v-1h2v-1h2h2v1h2v-1h2v1h2v-1h2v1h2v1h2v-1h2v-1h2v1h2v-1h2h2v-1h2v1h2h2v-1h2h2v1h2h2v1h2v-1h2h2v-1h2v1h2v1h2h2v-1h2v1h2h2v-1h2v1h2v-1h2v1h2h2h2h2v-1h2h2h2h2v-1h2v1h2v-1h2v1h2h2v1h2h2h2h2v1h2v-1h2v1h2h2V2066h-2v-1h-2h-2v1h-2h-2h-2v-1h-2h-2v1h-2v-1h-2h-2h-2h-2v-1h-2v2h-2h-2h-2v-1h-2v1h-2v1h-2v-1h-2h-2v-1h-2h-2h-2v-1h-2v1h-2h-2v-1h-2v-1h-2v1h-2v1h-2h-2h-2v-1h-2v1h-2v-1h-2h-2v1h-2h-2v-1h-2v-1h-2v1h-2h-2h-2h-2v1h-2h-2h-2h-2v1h-2v1h-2h-2h-2h-2h-2v-1h-2h-2h-2h-2h-2v-1h-2v-2h-2v1h-2v-1h-2h-2h-2h-2v1h-2v-1h-2v1h-2h-2h-2h-2h-2v-1h-2h-2v2h-2v1h-2v-1h-2h-2h-2h-2v-1h-2v1h-2v-1h-2h-2v1h-2v1h-2h-2h-2h-2v-1h-2v1h-2v-1h-2v1h-2v-1h-2v2h-2h-2v-1h-2v-1h-2v2h-2v-1h-2v-1h-2v1h-2h-2h-2h-2h-2h-2h-2v1h-2v1h-2v-1h-2v1h-2v-1h-2v-1h-2v1h-2h-2h-2v-1h-2v1h-2v-1h-2h-2v1h-2h-2v-1h-2v1h-2v-1h-2v1h-2v-1h-2h-2h-2h-2v-1h-2v1h-2h-2v-1h-2v2h-2h-2h-2v-1h-2h-2h-2h-2h-2v-1h-2v1h-2v-1h-2h-2v-1h-2v1h-2h-2v1h-2v-1h-2v1h-2h-2h-2h-2h-2h-2v-1h-2h-2v1h-2v-1h-2v1h-2v-1h-2v1h-2h-2v-1h-2v1h-2v1h-2h-2h-2h-2h-2h-2h-2h-2h-2h-2h-2v-1h-2v2h-2v-1h-2v-1h-2v1h-2v-1h-2v1h-2h-2v1h-2v-1h-2v-2h-2v1h-2v-1h-2v1h-2h-2v1h-2h-2v-1h-2v-1h-2v1h-2h-2v1h-2v1h-2v-1h-2h-2h-2h-2h-2h-2h-2h-2v1h-2h-2v-1h-2h-2h-2v1h-2v1h-2v-1h-2h-2h-2v-1h-2v1h-2h-2h-2v-1h-2v-1h-2v1h-2v1h-2v-1h-2v1h-2h-2h-2v-1h-2h-2v1h-2v1h-2v-1h-2h-2v-1h-2v1h-2v-1h-2v2h-2v-1h-2v1h-2v-1h-2h-2v-1h-2v1h-2h-2v-1h-2h-2v1h-2h-2h-2v1h-2v-1h-2h-2h-2v-1h-2h-2h-2h-2h-2v1h-2v1h-2v-1h-2v1h-2h-2v-1h-2h-2h-2v-1h-2v1h-2v-1h-2h-2v1h-2v-1h-2v1h-2v1h-2v-1h-2v1h-2v-1h-2h-2h-2h-2v-1h-2v1h-2h-2h-2h-2v1h-2h-2h-2h-2v1h-2h-2h-2v-1h-2v-1h-2v1h-2v1h-2v-1h-2h-2h-2v1h-2v-1h-2v2h-2v-1h-2v-1h-2h-2v-1h-2v1h-2h-2h-2v1h-2v-1h-2v2h-2v-1h-2v1h-2h-2v1h-2v-1h-2h-2h-2h-2h-2h-2h-2v1h-2v-1h-2v1h-2h-2h-2h-2h-2v-1h-2h-2v-1h-2h-2v1h-2h-2h-2h-2h-2h-2h-2v-1h-2v1h-2h-2v1h-2h-2h-2h-2h-2v-1h-2h-2h-2v1h-2v-1h-2v1h-2h-2h-2h-2h-2v1h-2v1h-2h-2v-1h-2h-2v2h-2v-2h-2h-2h-2h-2h-2v-1h-2h-2h-2h-2h-2h-2h-2h-2v1h-2v-1h-2v2h-2h-2h-2v-1h-2h-2v1h-2v-1h-2h-2v1h-2h-2v-1h-2h-2h-2h-2h-2v1h-2v-1h-2h-2v-1h-2h-2v1h-2h-2h-2h-2v1h-2v1h-2v-1h-2h-2h-2h-2h-2h-2h-2v1h-2v-1h-2v1h-2h-2v1h-2h-2v-1h-2h-2h-2h-2v-1h-2v1h-2h-2h-2v-1h-2v1h-2v-2h-2v1h-2h-2v-1h-2v1h-2v-1h-2v-1h-2v-2h-2v1h-2h-2v1h-2h-2v1h-2v-1h-2v1h-2v-1h-2h-2h-2h-2v1h-2h-2h-2v-1h-2v1h-2v-2h-2v1h-2v-1h-2h-2v1h-2h-2h-2h-2h-2h-2h-2v-1h-2h-2v1h-2h-2v-1h-2h-2h-2h-2v2h-2h-2v-1h-2h-2h-2h-2h-2h-2h-2h-2v1h-2h-2h-2h-2v1h-2v-1h-2v1h-2v-1h-2h-2v1h-2v-1h-2h-2v1h-2h-2h-2h-2h-2v-1h-2v-1h-2v2h-2v-1h-2h-2v1h-2v-1h-2h-2h-2h-2h-2v-1h-2h-2h-2v2h-2h-2h-2v-1h-2v1h-2v-1h-2v1h-2h-2v-1h-2v1h-2v-1h-2v2h-2v-1h-2h-2h-2h-2v1h-2v1h-2h-2v1h-2h-2v-2h-2h-2v1h-2h-2v2h-2h-2v-1h-2h-2h-2v-1h-2v2h-2v1h-2v-1h-2h-2h-2h-2h-2v-1h-2v1h-2h-2v1h-2v-1h-2v2h-2v-1h-2v-1h-2v2h-2h-2v-1h-2v-1h-2v1h-2v1h-2h-2h-2v-1h-2v1h-2h-2h-2h-2v1h-2h-2v1h-2v1h-2v-2h-2v1h-2h-2h-2v-1h-2v-1h-2v1h-2v-1h-2h-2v1h-2h-2h-2v-1h-2v1h-2v-1h-2v1h-2v-1h-2h-2h-2h-2h-2v1h-2h-2v1h-2v1h-2v-2h-2h-2v-2h-2v1h-2v-1h-2h-2h-2h-2h-2v-1h-2h-2v-1h-2v2h-2h-2v2h-2v-1h-2v1h-2v1h-2h-2v-1h-2h-2v1h-2v-1h-2h-2v-2h-2v-1h-2v1h-2h-2h-2v1h-2v1h-2h-2v-1h-2v-1h-2h-2v-1h-2v1h-2h-2h-2h-2v1h-2v2h-2v-1h-2v2h-2v1h-2v-1h-2v1h-2h-2h-2v-2h-2v1h-2h-2v-1h-2v-1h-2v2h-2v-1h-2v-2h-2v2h-2v-1h-2v-1h-2h-2h-2h-2h-2v-5h-2Z" fill="#fac090"/>
<path d="M291 1904h2v2h2v1h2h2h2v-1h2v-1h2v-1h2v-2h2v1h2v-1h2v-1h2h2v-2h2v1h2v-1h2v-1h2v-3h2h2v2h2v-2h2v1h2h2v1h2h2v1h2v-1h2v-1h2v-1h2h2v1h2v-1h2h2v-1h2h2h2v-1h2v-1h2v1h2v-1h2v2h2v-1h2v1h2h2v-1h2h2v1h2h2v-1h2h2v1h2h2v1h2v1h2h2v-1h2v-2h2v2h2v-1h2v-3h2h2v2h2v1h2v3h2v-1h2h2v-1h2v2h2v1h2v-1h2h2v-1h2v1h2h2v-2h2v2h2h2v-1h2v2h2h2v1h2h2h2v3h2h2v-1h2v1h2v-1h2h2v1h2v1h2v-2h2v-1h2v1h2v1h2h2v-1h2v1h2h2v1h2v1h2h2v2h2v-2h2v1h2v1h2v-2h2h2h2h2v1h2v-1h2v1h2v-1h2v1h2h2h2v1h2h2v1h2h2h2h2h2h2h2v1h2h2h2h2h2v1h2h2v-1h2h2h2v-1h2v1h2h2h2v2h2h2h2h2h2v-1h2v1h2v-1h2h2h2v-2h2v-1h2v2h2h2h2h2v1h2h2v-1h2h2v1h2v-1h2v1h2h2h2v1h2v-1h2h2h2h2v-1h2v1h2h2v1h2v1h2v1h2v-1h2v-2h2v-1h2h2h2h2h2v-1h2h2v-1h2v1h2v-1h2v-1h2h2v1h2v-1h2v2h2v-1h2h2v-1h2h2h2v-1h2h2h2h2v-1h2h2h2v-1h2h2v1h2h2h2v-1h2h2h2v-1h2h2v-1h2h2h2v-1h2h2h2v-1h2v-1h2v-2h2h2h2v-1h2v-1h2h2h2v1h2v1h2v-1h2h2v-1h2v1h2v-1h2h2v-1h2h2v-1h2h2h2v-1h2h2v-1h2v2h2h2v1h2h2v-1h2h2v-1h2h2v-1h2h2v1h2v1h2h2v1h2h2h2v1h2h2v1h2v-1h2v1h2v-1h2h2h2v-1h2v1h2v1h2v-1h2h2h2v-1h2v1h2v1h2v-1h2v2h2v-1h2h2h2h2v-1h2v1h2h2v1h2v-1h2v1h2h2h2h2h2v1h2v-1h2v-1h2v-1h2v1h2h2v1h2h2v1h2h2v1h2v-1h2h2v1h2v-1h2h2v-1h2h2v1h2h2h2v1h2v-1h2v1h2v-1h2v1h2v1h2h2v-1h2v-1h2v1h2h2h2h2v1h2v-1h2h2v1h2h2h2v1h2v-1h2h2h2h2v1h2v-2h2v2h2v-1h2h2h2v-1h2v1h2h2h2v1h2v-1h2h2h2h2h2h2h2v1h2h2v1h2v-1h2v1h2h2h2v-1h2h2h2h2h2h2h2h2h2h2h2v1h2v-1h2h2h2h2v1h2h2h2h2v1h2v-1h2h2h2h2h2h2h2h2v-1h2v1h2h2h2v1h2h2v-1h2h2v-1h2v2h2h2h2h2h2h2v-1h2h2v1h2h2v1h2h2v-1h2v1h2h2v1h2v-1h2v1h2h2h2v-2h2h2h2h2h2v1h2h2v-1h2v1h2h2v-2h2h2v2h2h2v1h2v1h2v-1h2v-1h2h2h2h2h2v1h2v-2h2v1h2h2h2h2h2v1h2h2v1h2v1h2v-1h2h2h2v-1h2h2v1h2h2v1h2v-1h2v1h2h2h2h2v1h2v-1h2h2v-1h2v1h2v-1h2v-1h2v-1h2v1h2h2v1h2h2v1h2h2v-1h2v1h2v-1h2v-1h2v1h2h2h2h2v2h2h2v1h2h2h2v-2h2h2v-1h2v1h2v-2h2v1h2h2h2v1h2v-1h2h2h2v-1h2v2h2v-1h2v1h2v1h2h2v-1h2h2v1h2h2v1h2h2v-1h2v-1h2h2v1h2h2h2v1h2v1h2h2h2v-1h2h2h2h2h2h2h2v1h2v-1h2v1h2v1h2v-1h2h2v1h2v-1h2h2h2h2v1h2v1h2h2v-1h2h2h2v1h2h2h2v-1h2v1h2h2h2h2v-1h2v2h2v-1h2v1h2v-1h2h2v-1h2v2h2h2v-1h2h2h2h2h2v1h2h2v2h2v-1h2v2h2h2h2h2h2h2h2v1h2h2h2h2v-1h2v-1h2h2h2h2v1h2v-1h2h2v1h2h2h2h2v-1h2h2h2h2v1h2v-1h2h2v1h2v-1h2h2v1h2v1h2v-1h2v1h2v-1h2v1h2v-2h2v1h2v1h2h2v1h2v1h2v-1h2h2h2v-1h2v1h2h2h2h2v1h2h2v-1h2v1h2v-1h2v1h2h2v-1h2h2h2v1h2h2v1h2h2h2h2v-1h2h2h2h2h2v2h2v-1h2h2v-1h2v-1h2v2h2h2v1h2h2h2h2v1h2v-1h2h2v1h2h2h2v-1h2h2h2V1933h-2h-2h-2h-2v-1h-2h-2v1h-2v1h-2h-2v-2h-2v1h-2h-2v-1h-2v1h-2v-3h-2v2h-2v-1h-2h-2h-2h-2h-2h-2v1h-2h-2v-1h-2v1h-2v-1h-2v1h-2h-2h-2h-2h-2v-1h-2v1h-2h-2h-2h-2h-2v1h-2v-1h-2h-2v1h-2h-2h-2v-1h-2h-2v-1h-2h-2v1h-2v-1h-2v1h-2v-1h-2v1h-2h-2v-1h-2v-1h-2h-2v-1h-2v1h-2h-2h-2v1h-2v-2h-2v1h-2h-2v-1h-2v2h-2h-2h-2v-1h-2h-2h-2v1h-2v-1h-2v1h-2h-2v-1h-2v1h-2h-2h-2v-1h-2v1h-2h-2h-2v1h-2h-2v-1h-2h-2v1h-2h-2h-2v-1h-2h-2h-2h-2v-1h-2h-2v-1h-2v-1h-2h-2v1h-2h-2v1h-2v-1h-2v1h-2v-1h-2h-2h-2h-2h-2v-1h-2v2h-2h-2h-2h-2h-2h-2h-2v-1h-2v-2h-2h-2v2h-2v-1h-2v1h-2v-1h-2v1h-2h-2v1h-2h-2h-2h-2v-1h-2h-2h-2v-1h-2h-2h-2h-2h-2v-1h-2v2h-2v-2h-2v1h-2h-2v-1h-2h-2h-2h-2h-2h-2h-2h-2h-2h-2h-2v-1h-2h-2h-2h-2h-2v1h-2v-1h-2h-2v-1h-2v1h-2h-2h-2v-1h-2h-2v-1h-2h-2v1h-2h-2h-2h-2v-1h-2v1h-2h-2v1h-2h-2v-1h-2v1h-2v-1h-2h-2h-2v-1h-2v-1h-2h-2v2h-2h-2h-2h-2h-2h-2h-2v1h-2v-1h-2h-2h-2h-2h-2v-1h-2h-2h-2h-2h-2v1h-2v-1h-2v1h-2v-1h-2h-2v-1h-2v1h-2v-1h-2v-1h-2v1h-2v1h-2v1h-2v-1h-2h-2v-1h-2h-2h-2v-1h-2v1h-2v1h-2v-1h-2v-1h-2h-2h-2v1h-2h-2v-2h-2v1h-2h-2v1h-2v-1h-2h-2h-2h-2h-2v1h-2v-1h-2h-2h-2v1h-2v-1h-2h-2v1h-2h-2v1h-2h-2v-1h-2v2h-2v-2h-2h-2h-2v-1h-2h-2v1h-2v-2h-2v1h-2v1h-2v-2h-2v1h-2h-2h-2h-2v-2h-2v3h-2v-2h-2v1h-2v1h-2v-1h-2v-1h-2v1h-2h-2h-2h-2v-1h-2h-2h-2h-2h-2h-2h-2h-2v1h-2h-2v-1h-2v-1h-2v1h-2v1h-2v-1h-2h-2h-2h-2v1h-2h-2v-1h-2h-2h-2h-2h-2h-2h-2h-2h-2v-1h-2v1h-2v-1h-2h-2h-2v1h-2h-2h-2h-2v1h-2h-2v1h-2v-1h-2v1h-2h-2v-1h-2h-2v-1h-2v1h-2v-1h-2h-2v-1h-2h-2h-2h-2h-2h-2v1h-2v-1h-2v1h-2h-2v-1h-2h-2h-2h-2h-2v1h-2v-2h-2h-2v1h-2v-1h-2v1h-2h-2v1h-2v-1h-2h-2h-2h-2v1h-2v-1h-2v-1h-2h-2h-2h-2h-2h-2h-2h-2h-2h-2h-2v1h-2h-2h-2h-2h-2v-1h-2h-2v-1h-2v1h-2h-2h-2v-1h-2h-2v1h-2v-1h-2h-2v1h-2h-2v-1h-2h-2h-2h-2h-2h-2v1h-2v-1h-2h-2v1h-2v-1h-2h-2h-2v-1h-2h-2h-2h-2v-1h-2v1h-2h-2h-2h-2v-2h-2h-2h-2h-2h-2v-1h-2v1h-2v-1h-2h-2v2h-2v-1h-2v-1h-2v1h-2v-1h-2h-2h-2h-2h-2h-2h-2v-1h-2v2h-2v1h-2v-1h-2h-2v-1h-2h-2v2h-2h-2v1h-2h-2h-2v1h-2v1h-2v-1h-2h-2h-2v-1h-2v2h-2h-2v-1h-2h-2h-2v1h-2h-2h-2v1h-2h-2v1h-2v1h-2v-1h-2h-2v1h-2v-1h-2v2h-2v-2h-2h-2v-1h-2v-1h-2v3h-2h-2h-2v-1h-2v1h-2v-1h-2v-1h-2v-1h-2h-2v-1h-2v1h-2v-1h-2v1h-2h-2v-1h-2v-1h-2v2h-2h-2h-2h-2v1h-2v-1h-2v-1h-2v1h-2h-2h-2h-2v1h-2h-2h-2v2h-2h-2v-2h-2v1h-2v-1h-2v-1h-2h-2v1h-2h-2v-1h-2h-2v-1h-2v1h-2h-2h-2v-1h-2v1h-2h-2h-2h-2h-2h-2v1h-2h-2h-2h-2v1h-2v-1h-2h-2h-2h-2h-2h-2v-1h-2h-2v-1h-2v1h-2h-2v1h-2v-1h-2v-1h-2h-2h-2v-1h-2h-2v1h-2h-2h-2v1h-2h-2h-2h-2v1h-2v-1h-2h-2v-2h-2h-2h-2h-2v-2h-2v1h-2v-1h-2v2h-2v-2h-2h-2h-2h-2v-1h-2v2h-2v-2h-2h-2v1h-2h-2v-1h-2h-2v1h-2h-2v1h-2v-2h-2v-1h-2h-2h-2v-1h-2h-2v2h-2h-2v-2h-2v1h-2h-2v-1h-2v-1h-2v1h-2h-2v1h-2h-2h-2h-2v1h-2h-2h-2v2h-2v-1h-2h-2h-2h-2v-2h-2h-2v-2h-2h-2h-2h-2v-1h-2v2h-2v-1h-2v1h-2v1h-2v1h-2h-2v-2h-2v1h-2h-2h-2v-1h-2h-2v2h-2v1h-2v-2h-2v1h-2v-1h-2h-2h-2v1h-2v-1h-2v-2h-2v1h-2v1h-2v-1h-2v1h-2h-2h-2h-2h-2v-1h-2h-2h-2v1h-2h-2v2h-2v-3h-2v2h-2v1h-2h-2h-2v1h-2h-2h-2v-1h-2v1h-2v1h-2v1h-2v1h-2h-2v2h-2v1h-2v1h-2h-2v1h-2h-2h-2v1h-2v2h-2v1h-2v2h-2v2h-2v2h-2v-2h-2Z" fill="#f2dcdb"/>
<path d="M291 1755h2v-3h2v-3h2v-1h2v-3h2v2h2v-3h2v1h2h2v-2h2v1h2v-3h2v-2h2v-3h2v-2h2h2v-1h2v-1h2v-1h2v-3h2v1h2v-3h2v-1h2h2h2v-2h2v-1h2v-1h2v-3h2v-1h2v2h2v-2h2v-1h2v-1h2v1h2v-2h2v-1h2v-2h2v-1h2h2v-3h2v-3h2v-1h2h2v1h2h2v-1h2h2v-2h2v-1h2v-1h2v1h2v-1h2v1h2h2h2h2v-2h2v-1h2v-2h2v1h2v-1h2h2v1h2v-1h2v4h2v-2h2v1h2v-3h2h2v-1h2v-2h2v3h2v-1h2h2h2h2v2h2v-1h2h2v-1h2v1h2v-1h2h2v2h2v-3h2h2v-1h2v-1h2v-1h2v1h2h2v-1h2v4h2h2v1h2v-1h2h2h2h2h2v1h2h2v-1h2v1h2v1h2h2v-1h2v1h2v-1h2h2v-1h2h2v1h2v-1h2h2h2h2v-1h2h2h2h2v1h2h2v1h2h2v1h2h2h2h2h2h2v-1h2v-1h2h2v1h2v2h2h2v-1h2h2v-1h2v1h2h2v2h2v-1h2h2h2v-2h2v2h2h2h2h2h2h2v-1h2v-1h2v-1h2v1h2v-1h2v2h2v-1h2h2v2h2h2v1h2v-1h2v1h2v-1h2v2h2v-2h2h2v-1h2h2v1h2h2v1h2h2h2v1h2h2h2h2v1h2v-1h2h2h2h2h2h2h2v-1h2h2h2h2h2h2v2h2v-2h2v-1h2h2h2v1h2v1h2h2v-1h2v1h2h2h2h2h2v-1h2v1h2h2h2h2h2v1h2h2h2v1h2h2h2v-1h2h2h2h2v1h2h2h2v1h2v-1h2v1h2v-1h2h2v1h2h2h2h2v1h2h2v-1h2h2v-1h2h2v1h2v-2h2v1h2v-1h2h2h2v1h2v1h2v1h2v1h2v-1h2h2h2v1h2v-1h2h2h2v-1h2v2h2v-2h2v1h2h2v1h2v-1h2h2v2h2h2v-1h2h2v-1h2v1h2v-1h2v1h2h2v-1h2v1h2v-1h2h2v1h2v-1h2h2v-1h2v1h2h2h2v1h2v1h2v-1h2v1h2v-1h2h2h2v1h2h2v1h2h2h2h2v1h2h2v1h2h2v-2h2h2v-1h2v2h2v-1h2v1h2h2v1h2v-1h2v1h2h2v-1h2h2v-2h2v2h2h2h2h2h2v1h2v1h2h2v1h2h2v-1h2h2h2v1h2h2h2v-1h2h2v-1h2h2h2h2v1h2h2v-1h2v3h2v-1h2v-1h2h2v-2h2h2v1h2h2h2v1h2v-1h2h2h2v1h2h2v1h2v-1h2v-1h2h2h2h2v1h2v1h2h2h2h2v-1h2h2h2h2v-1h2v1h2v-2h2h2h2h2h2v-1h2v1h2v1h2v1h2h2h2v1h2h2v-1h2h2h2h2v1h2v-1h2v-1h2h2v-1h2v-1h2v2h2v1h2h2v1h2h2v2h2h2v-1h2v-1h2h2v-1h2v1h2v1h2v1h2v-1h2v1h2v-1h2v1h2h2v1h2h2v1h2v-1h2h2v1h2v-1h2h2v-1h2v1h2h2v1h2h2v1h2h2v2h2v-1h2h2h2v-1h2v1h2v1h2h2h2h2h2v-1h2v1h2h2h2h2v-1h2v-1h2h2h2v1h2v1h2v-1h2v-1h2h2v1h2h2h2v1h2v-1h2h2v-1h2h2v1h2h2v1h2h2h2v1h2h2v-1h2v-1h2v-1h2h2h2v-1h2v1h2v2h2v-1h2h2v1h2h2h2v1h2v-1h2h2h2h2v-1h2h2h2h2v-2h2v1h2h2v1h2h2v1h2h2v-1h2h2h2h2h2v1h2h2v1h2v-1h2v-1h2v-1h2v1h2h2h2v1h2v1h2h2v1h2v-1h2h2h2v1h2v-1h2h2h2h2h2v-1h2v2h2v-1h2h2v-1h2h2h2h2h2h2h2v2h2v-1h2v1h2v-1h2v1h2v-1h2h2h2h2h2v1h2h2v1h2v1h2h2v-1h2h2v-1h2v1h2h2h2h2h2h2h2h2h2v-1h2v-1h2h2v1h2v-1h2h2h2v1h2v1h2v-1h2v1h2v-1h2v-1h2h2h2h2h2v1h2h2v-1h2h2h2h2v-1h2h2v-1h2h2h2v1h2v-1h2v1h2v1h2v-1h2h2v1h2v-2h2v2h2v-3h2v3h2h2v-1h2v1h2v-1h2h2h2h2h2h2h2v1h2h2v-1h2h2v1h2h2v-1h2v1h2v1h2v1h2v-1h2v-1h2v-1h2v-2h2v1h2v2h2h2v1h2v-1h2v-1h2v1h2v-1h2v1h2v-1h2h2h2h2h2v1h2v-1h2v1h2h2h2v-1h2v2h2v-1h2v-1h2v1h2v-2h2v2h2v2h2h2v-1h2h2v-1h2h2v-1h2v1h2v-1h2v1h2v-1h2h2v-1h2v3h2v-1h2v1h2h2V1818h-2v-1h-2v1h-2h-2h-2v-1h-2v2h-2v1h-2h-2v-1h-2h-2v-2h-2v1h-2v1h-2v-1h-2h-2h-2h-2h-2v-1h-2v2h-2h-2v-1h-2v1h-2v-1h-2h-2v1h-2h-2v1h-2v1h-2h-2h-2v-1h-2v1h-2v-1h-2v-1h-2h-2v1h-2v-1h-2h-2v-1h-2h-2v-1h-2h-2h-2v-1h-2v1h-2v-1h-2v-2h-2v-1h-2h-2h-2h-2v1h-2h-2v-1h-2h-2v-1h-2v-1h-2h-2h-2h-2h-2v1h-2v1h-2v-1h-2v-1h-2v-1h-2h-2h-2h-2h-2h-2v-1h-2v1h-2h-2v1h-2h-2v1h-2v-1h-2h-2h-2v1h-2v-2h-2v1h-2v-1h-2v1h-2v-1h-2h-2h-2h-2v1h-2h-2v1h-2h-2v2h-2h-2v-1h-2v1h-2h-2h-2v1h-2h-2h-2v1h-2v-1h-2v1h-2h-2v1h-2v-1h-2h-2h-2v-1h-2v2h-2v-2h-2v1h-2v-2h-2v1h-2v-1h-2h-2h-2h-2v-1h-2h-2h-2v1h-2h-2h-2h-2h-2h-2v-1h-2v-1h-2h-2v-1h-2h-2v1h-2h-2v1h-2h-2v1h-2v-1h-2h-2v-2h-2v-1h-2v-1h-2v1h-2h-2v-1h-2v1h-2h-2h-2v-1h-2v-1h-2h-2v1h-2h-2v1h-2v1h-2v1h-2v-2h-2h-2v-1h-2h-2v-2h-2h-2h-2v1h-2v1h-2h-2h-2v-2h-2v-1h-2h-2v1h-2h-2h-2h-2h-2v-1h-2v-1h-2v1h-2h-2v-1h-2h-2v1h-2h-2v1h-2v-1h-2v1h-2h-2v-2h-2v-1h-2h-2v-1h-2h-2h-2h-2h-2h-2h-2v1h-2v-1h-2v-1h-2h-2v-1h-2v-1h-2h-2h-2h-2v2h-2h-2v-1h-2v-1h-2v-1h-2h-2h-2h-2v-1h-2v1h-2v1h-2v1h-2v-1h-2v-1h-2v1h-2v-2h-2v-1h-2h-2v1h-2v-1h-2h-2v-1h-2h-2h-2v1h-2h-2v-1h-2h-2v-1h-2h-2v-1h-2h-2h-2h-2h-2h-2h-2v-1h-2v-1h-2h-2h-2h-2v1h-2h-2v-1h-2h-2h-2h-2h-2v1h-2h-2v-1h-2h-2h-2h-2h-2h-2h-2h-2v-1h-2v-1h-2v-1h-2v2h-2h-2v-1h-2h-2h-2v-1h-2v-1h-2v1h-2h-2v-2h-2v1h-2h-2h-2v1h-2v-1h-2h-2h-2h-2v-1h-2v-1h-2h-2v2h-2h-2h-2h-2v-1h-2v-1h-2h-2h-2h-2h-2h-2h-2v-1h-2v-1h-2h-2h-2v-1h-2h-2v1h-2h-2v-1h-2h-2v-2h-2h-2v1h-2h-2v1h-2h-2v-2h-2v1h-2v1h-2v-1h-2v-1h-2v1h-2h-2v-1h-2v-1h-2v1h-2h-2v-1h-2v1h-2h-2v-1h-2v1h-2v-1h-2h-2h-2v-1h-2v1h-2v-1h-2h-2v1h-2v-1h-2h-2h-2h-2v-1h-2v1h-2v-1h-2h-2h-2h-2h-2h-2h-2h-2v-1h-2v1h-2v-2h-2h-2v1h-2v1h-2h-2h-2v-1h-2v-1h-2v1h-2v-1h-2h-2h-2v-1h-2v-1h-2h-2v-1h-2h-2v1h-2v-1h-2v1h-2v1h-2v1h-2v-1h-2v-1h-2v-1h-2v1h-2h-2v1h-2h-2h-2v-1h-2v-1h-2v1h-2v-1h-2v-1h-2v-1h-2v1h-2h-2v1h-2h-2h-2v-1h-2v1h-2v-1h-2v1h-2v1h-2h-2h-2v-2h-2h-2h-2h-2h-2h-2h-2h-2v-1h-2h-2h-2h-2h-2v-2h-2h-2h-2h-2v-1h-2h-2v1h-2h-2v1h-2v1h-2v-1h-2v1h-2v-1h-2v1h-2v-2h-2v2h-2h-2h-2v-2h-2v1h-2v-1h-2v1h-2v-1h-2h-2v-1h-2h-2h-2h-2v-1h-2v1h-2h-2v-1h-2v2h-2v-2h-2v1h-2h-2v1h-2v1h-2v-1h-2v-1h-2v1h-2v-1h-2h-2v-1h-2h-2h-2v1h-2v1h-2h-2h-2v-1h-2v-1h-2v1h-2v-1h-2h-2h-2h-2h-2v-1h-2v1h-2v-1h-2v1h-2v1h-2h-2h-2v1h-2h-2v1h-2v-1h-2h-2v-2h-2h-2v-1h-2v-1h-2h-2v1h-2h-2v1h-2h-2h-2h-2h-2v-1h-2v1h-2v-1h-2h-2h-2h-2h-2h-2h-2v1h-2v-1h-2v1h-2h-2h-2h-2v1h-2v-1h-2h-2v1h-2v-1h-2v-1h-2h-2h-2v1h-2h-2h-2h-2v1h-2v1h-2v-1h-2v1h-2v1h-2v1h-2v-1h-2h-2v-1h-2h-2h-2h-2v-1h-2h-2v2h-2v1h-2h-2h-2v1h-2h-2v-1h-2h-2v-1h-2h-2v-1h-2v1h-2h-2v1h-2v1h-2v2h-2v1h-2v-1h-2h-2v1h-2v-1h-2h-2v1h-2h-2h-2v1h-2h-2h-2v1h-2h-2h-2v-1h-2v1h-2v-2h-2v1h-2v2h-2v2h-2v2h-2v2h-2v3h-2v-2h-2h-2v1h-2h-2v1h-2v-2h-2v-1h-2v-1h-2h-2h-2h-2v1h-2v3h-2v1h-2v1h-2h-2v1h-2h-2h-2v-1h-2v-1h-2h-2h-2v1h-2v-2h-2v-1h-2h-2h-2v1h-2v2h-2v-1h-2v1h-2v-1h-2v2h-2v-1h-2h-2h-2v1h-2h-2h-2v3h-2h-2h-2v4h-2v1h-2v2h-2v1h-2v-1h-2v-2h-2v-1h-2v2h-2v1h-2v4h-2v-1h-2v1h-2v1h-2v1h-2v2h-2v1h-2v1h-2v3h-2v1h-2v2h-2v1h-2v-1h-2v1h-2v2h-2h-2h-2v1h-2v-1h-2v2h-2h-2h-2v1h-2v1h-2v3h-2v1h-2v1h-2v1h-2v-1h-2v-1h-2v1h-2h-2v-3h-2v1h-2v-2h-2v-7h-2v-6h-2Z" fill="#ebf1de"/>
<path d="M291 1667h2v2h2v4h2v3h2v-3h2v-7h2v-7h2v-3h2v-7h2v-1h2v-2h2v-4h2v-3h2v-3h2v-2h2v-2h2v-3h2v-1h2v-2h2v-1h2v-1h2v-3h2v-4h2v-5h2v-3h2v-2h2v-2h2v-2h2v-7h2v-7h2v-3h2v-6h2v-1h2v-2h2v-2h2v-3h2v-2h2v-2h2v1h2h2v-2h2v-1h2h2v1h2h2v-1h2v-1h2v1h2v-2h2v1h2v1h2v2h2h2v-4h2v1h2v-2h2h2v3h2v3h2v-1h2v-3h2v-6h2v-2h2v-1h2v1h2v3h2v3h2v3h2v2h2v3h2v2h2v1h2h2v-1h2v-1h2v-3h2v1h2v1h2v-3h2v1h2h2v1h2h2v-1h2v-3h2v-2h2h2v2h2v1h2v2h2v3h2v-2h2v-1h2v-1h2v-1h2h2v2h2h2h2v-1h2v-1h2h2v-1h2h2v3h2v3h2v-1h2v2h2h2v-1h2v-1h2h2h2v-1h2h2h2v-2h2v-1h2v-1h2v1h2v1h2h2v2h2v-1h2h2v1h2v-1h2v-1h2h2v-1h2v1h2v1h2h2v1h2h2h2h2v1h2v2h2v-1h2v1h2v1h2v-1h2v2h2h2h2h2v-1h2v-2h2h2h2v1h2h2v2h2v-1h2h2h2v1h2h2h2h2v1h2v-1h2h2h2v1h2h2v1h2v2h2v1h2v1h2h2v1h2v1h2h2v-2h2h2v-1h2h2v-2h2v1h2v-1h2v2h2v2h2v1h2v2h2v-1h2v-1h2v1h2h2h2v1h2h2v2h2h2v2h2v1h2v-2h2v-2h2v-1h2h2v1h2v1h2v1h2v-2h2v-1h2h2h2h2h2v1h2h2h2v-2h2v1h2v1h2v1h2v2h2v2h2v2h2v3h2h2v1h2v2h2h2v-2h2v-1h2v-2h2v-1h2v-2h2v1h2h2v1h2v-1h2v1h2h2h2v-1h2h2h2h2h2h2v1h2v1h2v-1h2v-1h2v-1h2h2v1h2h2v1h2h2v1h2v-1h2v1h2v-1h2v1h2h2h2v3h2v1h2v2h2h2v1h2v1h2v-2h2v-2h2v1h2v-2h2v1h2v2h2v2h2v-1h2h2v-2h2h2v1h2h2v1h2v-1h2v1h2h2v-2h2v1h2h2v1h2v1h2v-1h2h2h2h2h2v-2h2v2h2h2v1h2h2v-1h2v1h2v-1h2v2h2v2h2h2v1h2v-2h2h2v-2h2h2v-1h2h2h2v1h2v3h2v1h2v-1h2h2h2h2v1h2v1h2v1h2h2v1h2v1h2h2v-1h2h2v-1h2v1h2v1h2v1h2v2h2v-2h2v-1h2h2v-1h2v-1h2v-1h2v1h2v1h2v1h2v-1h2v-1h2v-2h2v1h2h2h2v1h2h2v3h2v2h2v1h2h2h2h2v1h2v1h2v-2h2h2v1h2v-1h2h2h2v-1h2h2v2h2h2h2v2h2h2v-3h2v-1h2v-3h2h2h2v2h2v2h2v2h2v1h2v1h2v1h2v-2h2h2v-1h2v1h2h2v1h2v-1h2h2v-1h2v1h2v-1h2v1h2h2v-1h2h2h2v-1h2h2h2v-1h2h2v1h2v3h2v-1h2h2v-2h2v-2h2v1h2v1h2v3h2v3h2h2v-3h2v-1h2v-2h2h2v1h2v-2h2h2h2v-1h2v1h2v2h2v1h2v3h2v-1h2v-1h2v1h2h2v1h2v1h2v1h2h2v-2h2v-2h2v-1h2v1h2v1h2h2h2h2v2h2v1h2v-1h2h2h2v1h2v1h2v1h2h2v1h2h2v-2h2v2h2v-1h2v1h2h2h2v-2h2h2h2v1h2h2v1h2v-2h2v-1h2v1h2v1h2v1h2v2h2v2h2v1h2h2v1h2h2v1h2v-1h2v2h2h2v-1h2h2h2h2v-1h2h2h2v-2h2v-2h2v-2h2v-2h2v-1h2v-3h2h2v-1h2v-1h2h2v-1h2v1h2v-1h2h2h2v1h2v2h2v2h2v2h2v1h2v1h2h2h2v2h2v2h2v1h2v1h2h2v-3h2h2v-1h2h2h2v-1h2v-1h2v-1h2v-2h2v1h2h2v2h2v2h2h2v2h2v1h2h2v1h2v1h2v-1h2v-1h2v-1h2v-1h2v1h2v1h2h2v1h2v1h2v1h2v3h2v1h2h2v-1h2v-2h2h2v1h2v-1h2v-1h2v-2h2v-1h2v-1h2v-1h2v-1h2h2v-2h2h2v1h2v-2h2v1h2h2h2v2h2v1h2h2v1h2v1h2v2h2h2v2h2h2v1h2h2v1h2v1h2v1h2h2v1h2h2v-1h2h2h2v-1h2v-1h2h2v-3h2h2h2v1h2h2v2h2v-1h2h2v1h2v2h2v1h2v1h2h2v-1h2v-2h2v-2h2h2v-1h2v1h2v-1h2v1h2h2h2v-1h2v-3h2h2h2v-1h2v1h2v-1h2v3h2v1h2v1h2v1h2h2h2h2v-1h2v-1h2v-2h2h2h2v-1h2v-1h2h2v1h2h2v-1h2v1h2h2v2h2v3h2v2h2v3h2v-2h2h2v-2h2h2v-2h2v1h2v-1h2v2h2v2h2v1h2v1h2v-1h2v-1h2h2v1h2h2h2v1h2v-1h2v1h2v1h2h2v-1h2v-1h2h2v-1h2h2v-1h2v2h2v1h2V1663h-2v-1h-2h-2v1h-2v-1h-2v-2h-2v2h-2v1h-2v2h-2v2h-2h-2v-1h-2h-2h-2v-1h-2v-1h-2v-1h-2h-2v-1h-2v1h-2v-1h-2h-2h-2h-2h-2h-2v1h-2v1h-2v-2h-2h-2h-2h-2v-1h-2h-2v-1h-2v-3h-2v-1h-2v-1h-2h-2v-1h-2v-1h-2h-2v2h-2v-1h-2v2h-2v1h-2v1h-2v2h-2v-1h-2v2h-2v-1h-2v-1h-2v-2h-2v-1h-2v-1h-2h-2v-2h-2h-2v-1h-2v1h-2v2h-2v2h-2v-1h-2h-2h-2v-1h-2v1h-2v1h-2v1h-2h-2v1h-2v-1h-2v1h-2h-2h-2v-1h-2v1h-2v-1h-2v1h-2v-1h-2v-2h-2h-2h-2v1h-2v1h-2v1h-2v1h-2v1h-2h-2h-2v1h-2v1h-2v-1h-2v1h-2v-1h-2v-1h-2v-1h-2v-2h-2v-1h-2v-1h-2v-1h-2h-2v-1h-2h-2h-2v-1h-2v-1h-2h-2h-2v-1h-2h-2h-2h-2v1h-2h-2h-2v1h-2h-2h-2v2h-2h-2v1h-2v2h-2v2h-2v2h-2h-2h-2v-2h-2v-2h-2h-2v-1h-2h-2h-2h-2v-1h-2h-2v-1h-2h-2h-2v-1h-2h-2v-3h-2v-1h-2h-2v1h-2v-1h-2v-2h-2v-1h-2h-2h-2v2h-2v1h-2v1h-2h-2v-2h-2v-2h-2h-2v2h-2v3h-2v1h-2v-2h-2v-2h-2v-2h-2v-3h-2v-1h-2h-2v-1h-2v-1h-2h-2h-2h-2v-2h-2v-1h-2v-1h-2h-2v2h-2h-2v2h-2v2h-2v2h-2v2h-2v2h-2h-2v1h-2h-2v1h-2v3h-2h-2h-2h-2v1h-2v-1h-2v2h-2v1h-2h-2v1h-2v-1h-2h-2h-2h-2v-2h-2h-2v-2h-2v-3h-2v-2h-2v-1h-2v-2h-2h-2v1h-2h-2v1h-2h-2v-1h-2v3h-2h-2v1h-2h-2v1h-2v-1h-2h-2v-1h-2h-2v-3h-2v1h-2h-2h-2v1h-2v-2h-2h-2v-2h-2v-1h-2h-2v-1h-2v-1h-2h-2v1h-2v1h-2h-2v-1h-2v1h-2v-1h-2h-2h-2h-2v1h-2v1h-2v1h-2v-1h-2v-1h-2v-2h-2v-2h-2h-2h-2h-2h-2v1h-2v1h-2v2h-2v-1h-2v-1h-2h-2v-2h-2h-2v-1h-2v-1h-2v1h-2v1h-2h-2h-2v2h-2v1h-2v1h-2v-1h-2v1h-2v-1h-2v-2h-2v1h-2v-3h-2h-2h-2v-1h-2h-2h-2v1h-2v2h-2v1h-2v1h-2v1h-2v-1h-2h-2v-1h-2v-2h-2v-1h-2v-1h-2h-2v-1h-2h-2v-1h-2v-1h-2v2h-2v1h-2v2h-2v1h-2h-2h-2v-2h-2v-1h-2v-1h-2v1h-2h-2v1h-2h-2v-1h-2v-1h-2h-2v-1h-2v1h-2v-2h-2h-2h-2h-2h-2v-1h-2h-2h-2h-2h-2v1h-2v-1h-2v-2h-2v1h-2v1h-2v2h-2v-1h-2h-2v-1h-2h-2v-1h-2h-2v1h-2v1h-2v1h-2v1h-2v-1h-2v1h-2h-2v-2h-2v-1h-2v-3h-2v2h-2v1h-2v1h-2v1h-2v-1h-2v-1h-2v1h-2v-2h-2v-1h-2h-2v-1h-2h-2v1h-2h-2v-1h-2h-2v-2h-2h-2h-2v1h-2h-2v1h-2v-1h-2h-2h-2v-1h-2h-2h-2h-2v2h-2h-2v1h-2v-2h-2v-2h-2v-3h-2v1h-2v1h-2h-2v1h-2v1h-2h-2h-2h-2h-2h-2h-2v-1h-2v-1h-2h-2h-2h-2h-2h-2h-2v-1h-2v1h-2v1h-2h-2h-2h-2v-1h-2v-1h-2v-1h-2h-2v-1h-2h-2h-2v-2h-2v-1h-2h-2h-2v-1h-2v1h-2v-1h-2h-2v-1h-2h-2v-1h-2v1h-2v1h-2h-2v-1h-2v-1h-2h-2v1h-2v1h-2v2h-2v1h-2v-1h-2v-1h-2h-2h-2v1h-2v1h-2v1h-2v1h-2v2h-2h-2h-2v-1h-2v-2h-2v-3h-2h-2v-1h-2v-1h-2v-1h-2v-1h-2v-1h-2v-2h-2h-2v1h-2h-2v1h-2v2h-2v1h-2h-2h-2h-2v1h-2v-1h-2h-2v-1h-2h-2v1h-2v-1h-2v1h-2v1h-2v1h-2h-2v-2h-2h-2v-2h-2v-1h-2v1h-2h-2h-2v-1h-2v-2h-2v-2h-2v-2h-2v-1h-2h-2h-2v1h-2v1h-2v1h-2h-2h-2h-2v-1h-2h-2v1h-2h-2h-2v-1h-2v-2h-2v-1h-2h-2h-2h-2v1h-2h-2v-1h-2h-2v-1h-2v-2h-2v1h-2v-2h-2h-2h-2h-2h-2h-2v-2h-2v-1h-2v1h-2v1h-2v-1h-2v1h-2h-2h-2h-2h-2h-2v-1h-2v1h-2v1h-2h-2v1h-2v-1h-2v-1h-2v-2h-2v-1h-2v1h-2h-2v1h-2v-1h-2v-1h-2v1h-2v1h-2h-2v1h-2v1h-2v1h-2v-3h-2h-2v-1h-2h-2v1h-2v1h-2v1h-2v2h-2v1h-2v2h-2h-2v1h-2h-2v-1h-2v-1h-2v-2h-2v-4h-2v-2h-2h-2v-1h-2v3h-2h-2v2h-2h-2v-2h-2v-2h-2v-2h-2v-1h-2v4h-2v5h-2v3h-2v-1h-2v-2h-2v-2h-2v-1h-2v-1h-2v-4h-2h-2v4h-2v-1h-2v1h-2h-2v2h-2h-2h-2v-2h-2v2h-2v1h-2v-1h-2v3h-2v1h-2v-4h-2h-2v-1h-2h-2h-2v-1h-2v1h-2v-1h-2h-2v2h-2v1h-2h-2v-4h-2v-2h-2v-1h-2v1h-2v2h-2v-2h-2v2h-2v1h-2v1h-2v1h-2v-1h-2v1h-2v-1h-2v-1h-2v-3h-2v2h-2v-4h-2v1h-2v2h-2v-1h-2v1h-2h-2h-2v2h-2v2h-2v4h-2v3h-2v2h-2v2h-2v-2h-2v1h-2v5h-2v7h-2v3h-2v3h-2v-3h-2v-1h-2v2h-2v3h-2v4h-2v3h-2v6h-2v5h-2v6h-2v5h-2v4h-2v1h-2v1h-2v1h-2v5h-2v2h-2v5h-2v1h-2v4h-2v-1h-2v-4h-2v-1h-2v-1h-2Z" fill="#e5e0ec"/>
<path d="M291 1467h2v-2h2h2v-1h2v-4h2v-2h2v-5h2v-3h2v-3h2v-3h2v-4h2v-3h2v-5h2v-4h2v-3h2v-4h2v-2h2v-4h2v-1h2v-2h2v-3h2v1h2v-3h2v-2h2v-2h2v-3h2v-1h2v-1h2v-1h2v-3h2v-3h2h2v-2h2v-3h2v-2h2v-1h2v-1h2h2v-1h2h2v-1h2h2v-1h2v-1h2v-1h2h2v-1h2v-2h2h2v-1h2h2v2h2v1h2h2v-1h2v1h2v-1h2h2h2v1h2v1h2h2h2h2h2v2h2v1h2v2h2h2h2v-2h2h2v1h2v1h2v2h2h2h2v1h2v2h2v-1h2h2h2v1h2v1h2h2v1h2v1h2v1h2h2h2h2h2h2h2v2h2h2h2v1h2h2h2v1h2v-1h2h2v2h2h2v2h2v1h2h2v-1h2h2v2h2v1h2v2h2h2h2v-1h2h2v1h2h2v-1h2v1h2v1h2v2h2v-2h2v1h2h2v-2h2h2v1h2h2v1h2h2v1h2v2h2h2h2h2h2h2h2h2h2v-1h2v-1h2h2v1h2h2v2h2v-1h2v1h2v-1h2v1h2h2v1h2h2v1h2v-1h2v1h2h2v-1h2h2v-3h2v-1h2h2v-1h2v-1h2h2h2h2h2v-1h2h2v-1h2h2h2v-1h2v1h2v-1h2h2h2h2v1h2h2v-1h2h2v-3h2h2h2h2v1h2v1h2h2v1h2h2h2v-1h2h2h2h2v1h2h2h2v-1h2h2h2h2h2h2h2h2v1h2h2v2h2v1h2v1h2v-1h2v-1h2v-1h2v-1h2v1h2v2h2v1h2v-1h2v-1h2h2h2v-2h2v1h2v-1h2v-1h2h2h2v1h2h2v1h2v1h2h2v1h2h2h2h2v-2h2v1h2v-1h2h2v1h2h2v-1h2h2v1h2v-1h2h2h2v1h2v1h2v1h2h2h2v-1h2v1h2v-1h2h2v-1h2h2v1h2v1h2v2h2v-1h2h2h2h2v-1h2v1h2v-1h2v1h2v-1h2v1h2h2h2v-2h2h2h2h2h2h2v-2h2h2v-2h2h2h2h2h2v1h2v1h2h2v1h2v-1h2v-1h2h2v-1h2v1h2h2h2v-1h2v-1h2h2v1h2h2h2v1h2v2h2h2v2h2v-1h2v1h2v-1h2v1h2v-1h2v-1h2v-2h2h2h2v1h2h2h2v2h2v2h2v-1h2v1h2v-1h2h2v1h2h2v1h2v-2h2v-1h2v-1h2v1h2h2v-1h2v2h2v1h2v-1h2v1h2h2v2h2v-2h2v1h2h2v-1h2v-1h2h2v1h2v1h2v1h2v-1h2v1h2h2v-1h2h2h2v-1h2h2v1h2v1h2v1h2h2v-1h2v1h2v-1h2h2h2h2v-1h2h2v-1h2v1h2h2h2h2h2v1h2h2v1h2h2v1h2v1h2v-1h2v1h2v1h2h2v-2h2v-1h2h2v1h2v1h2v2h2h2h2v-1h2h2v-1h2v1h2v-1h2h2v-1h2v2h2v1h2h2h2v2h2h2v-1h2v-1h2v1h2v-2h2h2h2h2v-1h2h2v1h2v-1h2v1h2v-1h2v1h2v-1h2h2v1h2v1h2v-1h2v1h2v-1h2h2v-1h2v-1h2h2h2h2h2v-1h2h2h2v1h2h2v1h2v1h2h2h2v1h2v1h2v-1h2h2v-1h2v-1h2h2h2h2h2h2h2h2v-1h2v1h2v-1h2h2h2v1h2v-1h2v1h2h2h2h2h2v-1h2h2v1h2h2v1h2h2h2h2h2v1h2v1h2v-1h2h2h2h2v2h2v1h2h2h2v-1h2v1h2h2h2v-1h2v1h2v1h2v-1h2v1h2v-1h2h2v1h2v-1h2v1h2v1h2h2h2h2h2v-1h2h2v-1h2v-1h2v1h2h2h2v1h2v1h2h2v1h2h2h2v-2h2v-1h2v2h2v1h2v1h2h2h2v-1h2h2v-2h2v2h2h2v2h2v-2h2v1h2h2h2v-1h2h2h2v-1h2v1h2v-1h2h2v-1h2v-1h2v1h2h2v1h2h2h2h2v-1h2v2h2h2v1h2h2h2v-1h2h2v1h2v-2h2v1h2v-1h2v2h2h2v1h2h2h2v-1h2v1h2v1h2v-1h2v1h2h2v-1h2v-1h2h2h2v-2h2v-1h2v1h2h2v2h2h2h2h2h2h2h2h2h2v-1h2v-2h2v1h2h2v1h2h2v1h2h2h2h2h2h2v-1h2v-1h2h2v-2h2h2v2h2h2h2h2h2h2h2h2v1h2h2h2v-1h2v1h2v2h2v-1h2v-1h2h2h2v-1h2v-1h2v1h2v-1h2v-1h2h2v1h2v1h2h2v2h2h2v-1h2h2v-1h2h2v1h2v1h2v-1h2v1h2h2v1h2v-1h2h2v-1h2h2v1h2h2h2v-1h2h2v-1h2v-1h2v1h2v-1h2v2h2v1h2v1h2h2h2h2h2v1h2V1486h-2v-1h-2h-2v-1h-2h-2v-1h-2v1h-2v1h-2h-2v-1h-2v1h-2h-2v-1h-2h-2v1h-2h-2v-1h-2v1h-2h-2h-2h-2v1h-2v-1h-2h-2v1h-2v-1h-2v-1h-2v-1h-2v-1h-2v-1h-2h-2v1h-2v-1h-2v1h-2v1h-2v1h-2v-2h-2v-1h-2v-1h-2h-2v-1h-2h-2h-2v-1h-2v1h-2v-1h-2h-2v1h-2v-1h-2h-2v-2h-2v-1h-2v-1h-2v-3h-2h-2v-1h-2v-1h-2h-2v-1h-2v-1h-2v-2h-2h-2v-1h-2v-1h-2h-2v1h-2h-2v1h-2h-2v-1h-2v-1h-2h-2v-1h-2v1h-2v-1h-2h-2v-1h-2h-2v-1h-2h-2v-1h-2v-2h-2v1h-2v1h-2h-2h-2v1h-2v-1h-2h-2v-2h-2v-1h-2v-1h-2v-1h-2v-1h-2h-2v1h-2v-1h-2h-2v-1h-2v-1h-2v-1h-2h-2v-1h-2h-2v-2h-2v3h-2v-2h-2v1h-2v-2h-2h-2h-2v1h-2h-2v1h-2v1h-2v-1h-2v2h-2v-1h-2v1h-2h-2h-2v-1h-2v-1h-2v-1h-2h-2v1h-2h-2h-2h-2h-2v1h-2v-1h-2h-2v-1h-2v-1h-2h-2v-2h-2h-2v-1h-2v-1h-2v1h-2h-2h-2v1h-2h-2v1h-2v2h-2v1h-2v-1h-2v1h-2h-2h-2v1h-2v1h-2v2h-2h-2h-2v-1h-2h-2h-2v-2h-2v1h-2h-2v-1h-2h-2v1h-2v-1h-2h-2v1h-2v1h-2v1h-2h-2h-2h-2v-2h-2v-1h-2v1h-2v-2h-2v-1h-2v-1h-2v2h-2h-2v1h-2v-1h-2h-2h-2h-2h-2v1h-2v-2h-2h-2v-1h-2v1h-2v-2h-2v1h-2h-2v-1h-2h-2h-2v-1h-2h-2v-1h-2h-2v-2h-2v-1h-2h-2h-2v-1h-2h-2h-2h-2h-2v2h-2h-2v1h-2h-2v-1h-2v-1h-2h-2h-2v-1h-2v-1h-2h-2v1h-2v-1h-2v1h-2h-2v2h-2v1h-2h-2v-1h-2h-2v-1h-2h-2v-1h-2v-1h-2v1h-2v-1h-2v-1h-2v2h-2h-2h-2h-2v1h-2h-2h-2v1h-2h-2v-1h-2h-2h-2v1h-2h-2v1h-2h-2h-2v2h-2h-2v-1h-2v2h-2v-1h-2h-2v1h-2h-2v-1h-2h-2h-2v1h-2v-1h-2v-1h-2v1h-2h-2h-2v-2h-2v1h-2v-1h-2v-1h-2h-2v-1h-2h-2h-2h-2h-2h-2h-2v-2h-2v1h-2v-1h-2v-1h-2h-2v2h-2h-2h-2h-2h-2h-2v1h-2v1h-2v-1h-2h-2v1h-2v1h-2h-2v1h-2v-1h-2v1h-2v-1h-2v1h-2h-2v-1h-2h-2v1h-2v-1h-2v-1h-2v1h-2v1h-2v-1h-2h-2h-2v1h-2v-2h-2v2h-2h-2h-2v1h-2v1h-2v1h-2h-2v1h-2v-1h-2v2h-2v-2h-2v-1h-2v1h-2v-2h-2v1h-2h-2h-2v1h-2h-2v1h-2v-1h-2h-2h-2h-2h-2v1h-2v1h-2v-1h-2v-1h-2h-2v1h-2h-2v1h-2v2h-2v-2h-2v1h-2h-2v1h-2v-1h-2h-2h-2h-2h-2v-1h-2v-1h-2h-2v1h-2v1h-2v-1h-2h-2v-1h-2v2h-2v-1h-2h-2v1h-2v-1h-2v-1h-2h-2v1h-2h-2v2h-2h-2h-2h-2v-1h-2h-2v2h-2v-1h-2v-1h-2h-2v-1h-2v-1h-2h-2v-2h-2v1h-2v-1h-2h-2v1h-2v-1h-2h-2h-2h-2v-1h-2v-1h-2v-1h-2v1h-2v-1h-2v-1h-2h-2h-2v-1h-2h-2v-1h-2h-2v-1h-2v-1h-2v-1h-2v-1h-2v1h-2v-1h-2v1h-2h-2v2h-2v2h-2v-1h-2v-1h-2v1h-2v-1h-2h-2h-2v-1h-2v1h-2v1h-2v-1h-2h-2v-1h-2v-1h-2v-2h-2v1h-2h-2v1h-2h-2v-1h-2v-1h-2v1h-2h-2v1h-2v1h-2h-2v1h-2h-2h-2h-2v-1h-2v-1h-2h-2v1h-2h-2v1h-2v1h-2h-2v2h-2v1h-2h-2v-2h-2v-1h-2h-2v1h-2v-1h-2v1h-2h-2v1h-2v1h-2v-1h-2v-1h-2v-1h-2v1h-2v1h-2v2h-2h-2h-2h-2h-2h-2v-3h-2v2h-2v-2h-2h-2h-2h-2h-2h-2h-2h-2h-2v1h-2v1h-2v-2h-2v2h-2v-2h-2v1h-2v-1h-2v1h-2v1h-2h-2v-1h-2h-2v1h-2v1h-2h-2h-2v2h-2v-2h-2v1h-2h-2v-1h-2h-2v1h-2v-1h-2v-1h-2h-2v1h-2v-3h-2h-2v1h-2v-1h-2v1h-2v1h-2v1h-2v1h-2v-1h-2h-2h-2v-2h-2h-2v-1h-2v1h-2v1h-2v-1h-2h-2h-2h-2h-2v-1h-2v2h-2h-2v1h-2v-1h-2v1h-2h-2h-2v-1h-2h-2h-2v-2h-2h-2v-1h-2h-2v2h-2v-1h-2h-2v1h-2h-2v1h-2v1h-2v-1h-2h-2h-2v-1h-2v1h-2v-1h-2h-2v1h-2h-2v-1h-2h-2h-2v-1h-2h-2v-1h-2v-1h-2v1h-2v2h-2h-2h-2h-2v-1h-2h-2v1h-2v-1h-2v1h-2h-2v-1h-2h-2v-1h-2h-2v1h-2h-2h-2h-2v-1h-2h-2v-1h-2h-2h-2h-2v1h-2h-2v3h-2v-1h-2v-1h-2v-1h-2v1h-2v1h-2h-2v3h-2v-1h-2v2h-2h-2h-2v-1h-2v1h-2h-2h-2v-1h-2h-2h-2v-1h-2v1h-2v1h-2h-2v2h-2v1h-2v1h-2h-2v1h-2v2h-2h-2v-1h-2v1h-2v-1h-2v2h-2v1h-2v2h-2h-2v1h-2v3h-2v3h-2v1h-2v1h-2v1h-2v2h-2v2h-2v1h-2v3h-2v3h-2v3h-2v2h-2v4h-2h-2v2h-2v1h-2v2h-2v5h-2v4h-2v5h-2v4h-2v1h-2v4h-2v1h-2v1h-2v-1h-2v-4h-2Z" fill="#c6d9f1"/>
<rect x="289" y="1468" width="2" height="37" fill="#c6d9f1"/>
<rect x="289" y="1628" width="2" height="21" fill="#e5e0ec"/>
<rect x="289" y="1720" width="2" height="85" fill="#ebf1de"/>
<rect x="289" y="1859" width="2" height="76" fill="#f2dcdb"/>
<rect x="289" y="2027" width="2" height="53" fill="#fac090"/>
</g>
<path d="M290.5 2057.7l2 11.3 2 3.2 2 0.4 2 0.4 2 0.2 2-0.2 2 0.3 2 0.3 2 0.8 2 0 2 0.2 2 0.5 2-0.1 2-0.3 2 0.7 2 0.3 2 0.4 2 0.7 2-0.2 2-0.3 2 0.3 2-0.6 2-0.2 2-0.7 2-0.6 2-0.4 2 0 2-0.4 2 0 2 0.2 2-0.3 2-0.2 2 0.3 2-0.3 2 0 2 0.1 2 0.4 2 0 2-0.5 2 0.3 2 0.2 2-0.1 2 0.3 2-0.7 2 0 2 0 2-0.6 2 0.5 2 0.6 2 0.1 2-0.1 2 0 2-0.2 2-0.2 2-0.1 2 0.5 2-0.3 2-0.2 2 0 2 0.2 2-0.5 2 0.1 2 0 2 0.6 2 0.2 2 0.1 2-0.6 2 0 2 0.1 2 0.2 2 0.5 2-0.1 2 0 2-0.3 2 0.5 2 0 2 0.2 2-0.3 2 0.4 2-0.1 2 0 2 0.2 2 0.5 2 0.1 2-0.2 2 0.6 2 0.5 2 0.3 2 1 2-0.1 2-0.4 2-0.5 2-0.3 2-1 2-0.8 2-0.9 2-0.2 2 0.4 2 0 2-0.1 2-1 2-0.1 2 0 2 0.2 2-0.2 2 0 2 0 2-0.5 2 0.4 2-0.6 2 0.2 2-0.3 2 0.2 2 0.4 2-0.2 2-0.5 2-0.6 2 0.1 2 0.5 2-0.4 2 0 2 0.2 2-0.5 2 0 2 0.1 2-0.4 2-0.4 2 0.7 2 0.3 2-0.6 2 0 2-0.2 2-0.5 2-0.4 2 0.1 2 0.2 2-0.2 2-0.2 2-0.5 2 0 2 0.2 2-0.4 2-0.4 2 0.4 2-0.4 2-0.1 2-0.1 2-0.6 2 0.3 2-0.1 2 0.2 2-0.1 2 0.4 2 0.5 2-0.7 2-0.2 2 0.2 2-0.1 2-0.2 2 0.4 2 0 2-0.2 2-0.1 2-0.2 2 0 2-0.1 2 0.4 2-0.6 2-0.3 2-0.2 2 0.2 2-0.3 2 0.4 2-0.1 2 0.3 2-0.1 2 0 2 0.4 2-0.8 2 0.4 2 0.3 2-0.1 2-0.5 2 0 2 0.1 2 0.1 2 0.1 2-0.2 2-0.3 2 0 2 0.4 2 0.1 2-0.8 2-0.1 2 0.3 2-0.2 2 0.2 2 0.2 2-0.2 2-0.2 2 0.4 2-0.3 2 0.6 2 0.5 2-0.7 2 0.2 2-0.1 2 0.2 2 0.2 2-0.1 2-0.4 2 0 2 0.1 2-0.1 2-0.4 2 0.5 2 0 2 0 2-0.4 2 0.1 2-0.5 2 0.5 2-0.5 2 0 2 0.4 2 0 2 0 2 0.1 2-0.2 2-0.3 2 0.3 2-0.2 2 0.7 2 0.1 2 0.8 2-0.2 2 0.5 2 0.3 2-0.4 2 0.4 2 0.6 2 0.4 2-0.1 2 0.3 2 0.4 2-0.2 2-0.4 2 0.2 2-0.6 2 0 2 0 2 0.6 2 0 2-0.6 2 0.2 2-0.2 2-0.6 2 0.6 2-0.1 2-0.5 2 0.2 2 0.2 2-0.4 2-0.4 2 0 2 0.7 2-0.1 2-0.7 2-0.1 2 0.2 2 0.4 2-0.5 2-0.2 2-0.1 2 0.4 2 0.1 2-0.1 2-0.2 2-0.1 2 0.4 2-0.3 2 0.2 2-0.2 2 0.4 2-0.5 2-0.5 2 0.3 2 0 2 0.5 2 0 2 0.3 2-0.1 2-0.5 2 0.4 2-0.1 2 0 2-0.2 2-0.4 2-0.3 2 0.1 2 0.4 2 0.3 2 0.1 2-0.5 2 0 2-0.3 2 0.1 2 0 2-0.7 2 0.3 2-0.5 2 0.3 2-0.9 2 0 2-0.2 2 0.5 2-0.4 2-0.1 2 0.3 2 0 2 0.2 2 0.6 2-0.2 2-0.5 2 0.6 2 0.2 2 0.3 2-0.7 2-0.3 2 0.5 2-0.3 2 0.2 2 0 2-0.2 2 0.1 2 0.6 2-0.4 2-0.1 2-0.2 2-0.4 2 0.3 2 0.2 2 0.1 2 0.7 2-0.6 2-0.1 2-0.4 2 0.2 2 1 2-0.9 2 0.1 2-0.3 2 0.1 2 0.4 2-0.2 2-0.2 2-0.7 2 0.3 2 0 2-0.3 2-0.7 2-0.3 2 0.4 2 0.4 2-0.5 2 0.3 2-0.2 2 0 2-0.4 2-0.1 2 0.2 2 0.4 2-0.4 2 0.2 2-0.6 2 0.2 2 0.6 2-0.5 2 0.5 2-0.9 2-0.6 2 0.1 2 0.6 2 0.1 2-0.7 2-0.2 2 0.7 2 0.3 2 0.2 2-0.7 2-0.5 2-0.4 2 0.2 2 0.5 2-0.1 2 0.5 2 0.2 2-0.4 2-0.4 2 0.2 2-0.1 2 0.1 2 0.1 2-0.3 2 0.4 2-0.5 2-0.3 2 0 2-0.2 2 0.3 2 0.5 2 0.1 2-0.3 2-0.2 2 0.1 2 0.2 2 0 2 0 2-0.4 2 0.4 2-0.7 2 0.5 2-0.2 2-0.5 2 0.7 2-0.3 2 0.3 2-0.4 2 0.4 2-0.2 2-0.5 2-0.2 2 0.3 2 0 2-0.3 2 0.5 2 0.4 2-0.2 2 0.1 2-0.1 2-0.1 2-0.1 2-0.2 2 0.4 2-0.1 2-0.6 2 0 2 0.7 2-0.5 2 0 2 0.5 2-0.3 2-0.5 2 0.1 2 0.3 2-0.6 2 0.5 2-0.2 2 0.3 2 0.3 2-0.2 2-0.3 2 0.3 2-0.2 2 0.1 2-0.2 2-0.4 2-0.2 2-0.5 2 0.3 2 0.1 2 0.5 2 0.2 2-0.5 2 0.2 2-0.3 2-0.3 2 0.5 2-0.5 2 0.1 2 0.2 2 0.1 2 0.6 2 0.1 2-0.5 2 0.3 2-0.3 2-0.4 2-0.5 2 0.4 2 0.8 2-0.2 2-0.6 2 0 2 0.2 2 0.2 2-0.2 2-0.7 2-0.1 2-0.2 2 0 2 0.1 2-0.1 2-0.5 2 0.6 2-0.1 2 0.3 2-0.2 2 0.6 2-0.6 2 0.2 2-0.3 2 0 2-0.1 2-0.5 2 0.3 2 0 2-0.3 2 0.2 2-0.5 2-0.3 2 0.5 2 0.1 2 0.7 2 0.5 2-0.1 2 0 2-0.1 2 0 2 0.1 2-0.3 2 0.5 2 0.3 2-0.2 2 0.2 2 0.3 2 0.1 2 0.3 2-0.3 2 0.3 2-0.2 2-0.5 2-0.5 2-0.2 2-0.1 2 0.2 2-0.1 2 0.2 2 0.5 2-0.3 2-0.1 2 0.5 2-0.2 2-0.2 2-0.1 2 0 2-0.1 2-0.1 2-0.5 2 0.5 2 0.2 2 0 2-0.3 2-0.3 2 0.1 2-0.1 2 0.9 2 0 2 0.3 2-0.4 2-0.4 2-0.3 2 0.3 2-0.6 2 0 2 0.3 2-0.1 2 0.3 2 0.5 2-0.2 2-0.1 2-0.2 2-0.8 2 0.3 2 0.1 2 0.3 2-0.5 2-0.3 2 0.4 2-0.7 2 0.2 2 0 2 0.1 2-0.2 2 0.1 2 0.1 2-0.2 2 0.3 2 0.4 2-0.8 2-0.5 2-0.1 2 0.3 2 0.8 2-0.9 2-0.1 2-0.2 2-0.1 2-0.9 2 1 2 0.2 2 0 2 0.6 2 0.2 2 0.8 2 0.1 2 0.5 2-0.2 2 0.7 2-0.2 2-1 2 0 2 0.2 2 0.3 2-1 2-0.6 2-0.4 2 0.4 2 0 2-0.2 2 0.3 2 0.3 2 0.2 2-0.5 2 0.5 2-0.5 2 0 2 0.1 2-0.2 2 0.2 2-0.2 2 0.3 2-0.1 2-0.2 2 0.2 2-0.3 2 0.5 2-0.7 2 0.1 2 0.3 2-0.1 2-0.3 2-0.1 2 0 2 0.1 2 0.6 2-0.3 2 0.7 2-0.1 2-0.2 2 0.3 2 0.3 2 0 2 0.8 2-1.1 2-0.2 2-0.1 2 0.9 2 0.1 2-0.4 2 0 2-0.4 2 0 2 0.1" stroke="#e46c0a" stroke-width="8.6" stroke-linecap="round" stroke-linejoin="round" fill="none"/>
<path d="M290 1917.9l2 0.6 2 0.9 2 0 2-1.5 2-0.7 2-1.1 2-0.5 2-1.1 2-1 2-0.6 2-0.5 2-1.3 2-0.5 2-0.3 2-0.8 2-0.4 2-0.6 2-0.6 2-0.7 2 0 2-0.1 2-0.1 2-0.3 2-0.4 2-1 2-0.5 2-0.1 2-0.6 2-0.4 2 0.3 2 0.1 2-0.8 2-0.4 2-0.1 2 0.3 2 0 2-0.8 2-0.5 2 0.5 2 0.3 2 0.4 2 0 2-0.1 2 0.5 2-0.3 2-0.1 2 0.4 2 0 2-0.1 2-0.9 2 0.3 2-0.2 2-0.3 2 0.4 2-0.4 2 0.1 2-0.3 2-0.2 2 0.1 2 0.2 2 0.4 2 0.2 2 0.4 2 0.1 2-0.1 2-0.2 2 0 2 0.8 2-0.2 2 0.3 2 0.3 2 0.3 2-0.2 2 0.4 2 0.3 2 0.8 2 0.1 2 0.1 2 0.3 2-0.5 2 0.7 2 0.4 2 0.1 2 0 2 0.4 2-0.1 2 0.1 2-0.6 2 0.7 2 0 2 0 2 0.6 2 0.2 2-0.4 2-0.4 2 0.1 2 0.2 2 0.9 2-0.1 2 0.5 2-0.6 2-0.2 2-0.3 2 0.9 2 0.6 2 0.4 2 0 2-0.4 2 0.6 2 0 2 0.4 2-0.1 2-0.4 2 0 2 0.8 2 0.6 2-0.4 2 0 2 0.6 2 0.2 2 0.2 2 0.1 2 0.2 2-0.1 2 0.2 2-0.3 2 0.8 2-0.1 2 0.5 2 0.4 2 0.1 2-0.3 2 0.1 2 0.2 2-0.1 2-0.1 2 0.1 2 0.3 2 0.3 2 0 2 0.5 2 0 2-0.4 2 0.5 2-0.7 2 0.2 2-0.5 2 0.3 2 0.5 2 0.1 2-0.2 2 0.4 2-0.6 2 0 2-0.1 2-0.2 2 0.4 2-0.4 2-0.3 2 0.1 2 0.3 2 0.2 2-0.5 2 0.5 2 0.1 2-0.7 2 0.2 2 0.2 2-0.2 2 0.2 2-0.1 2-0.2 2 0.7 2 0.3 2 0.5 2-0.1 2-0.5 2 0.4 2-1.3 2-0.1 2-1.1 2-0.3 2 0.1 2 0 2 0.1 2-0.1 2 0.1 2 0 2 0.6 2-0.1 2 0.3 2-0.2 2-0.1 2-0.5 2-0.1 2-0.1 2-0.5 2 0.2 2 0.2 2-0.3 2 0.4 2-0.6 2-0.1 2-0.1 2 0.8 2-0.3 2-0.6 2-0.2 2 0 2 0.4 2 0.4 2-0.6 2-0.4 2 0.1 2-0.7 2-0.2 2 0 2-0.6 2-0.2 2-0.3 2 0 2-1.3 2-0.2 2-0.7 2 0.6 2-0.2 2-0.5 2-0.2 2-0.4 2 0.2 2-0.3 2-1.1 2-0.3 2-0.1 2-0.4 2-0.2 2-0.2 2-0.1 2-0.2 2-0.4 2-0.1 2 0.3 2 0.4 2-0.4 2-1 2 0.3 2 0.2 2-0.1 2-0.4 2 0.2 2-0.5 2 0.3 2 0.5 2-0.3 2 0.4 2-0.2 2 0.4 2 0.3 2 0.3 2 0.4 2 0.5 2-0.3 2 0.1 2 0.2 2 0.8 2 0.2 2-0.1 2 0.6 2-0.7 2 0 2 0 2 0.4 2-0.1 2 0 2-0.4 2-0.1 2 0 2 0 2 0.1 2 0.6 2 0.1 2 0 2 0.2 2 0.1 2 0.1 2 0.2 2-0.1 2-0.4 2-0.3 2 0.4 2 0.3 2 0.8 2-0.1 2-0.4 2-0.5 2-0.2 2 0.4 2 0.3 2 0.1 2-0.2 2 0.6 2-0.1 2-0.5 2 0.6 2 0.6 2-0.4 2-0.4 2-0.4 2 0.4 2 0.5 2 0.1 2-0.5 2-0.4 2 0.2 2 0.4 2 0.2 2 0.5 2 0.8 2-0.7 2-0.6 2-0.2 2 0.4 2 0.2 2 0.1 2-0.1 2 0.7 2 0.2 2-0.2 2-0.3 2 0.2 2 0.1 2 0.4 2 0.1 2-0.4 2-0.1 2 0.5 2 0 2-0.2 2-0.3 2 0.2 2 0.5 2 0.5 2 0.1 2-0.4 2-0.4 2-0.1 2 0.6 2 0.1 2 0.3 2-0.4 2 0 2 0.3 2-0.3 2-0.2 2-0.3 2 0.3 2 0.1 2 0.4 2-0.2 2 0.4 2-0.1 2 0.1 2-0.6 2 0.6 2 0.2 2 0.1 2 0.1 2 0 2-0.4 2 0.2 2 0 2 0.3 2-0.4 2 0.1 2 0.4 2-0.4 2 0.2 2 0 2 0.4 2 0 2-0.1 2-0.1 2-0.8 2 0.1 2 1 2-0.1 2-0.3 2-0.2 2 0.1 2 0.1 2 0.2 2 0.3 2-0.5 2 0.4 2 0 2 0.5 2 0.1 2-0.1 2-0.1 2 0.3 2 0.1 2-0.3 2 0.4 2-0.3 2 0.1 2 0.2 2 0 2-0.8 2 0.1 2 0.1 2 0.5 2 0.4 2 0.4 2-0.8 2 0.1 2-0.3 2-0.4 2 0.4 2 0.2 2-0.1 2 0 2 0 2-0.4 2 0.4 2 0.3 2-0.1 2 0.3 2 0.3 2-0.4 2-0.2 2 0.2 2 0.1 2-0.7 2 0.7 2 0.3 2 0.2 2-0.4 2 0.6 2-0.6 2-0.2 2-0.1 2 0.6 2 0.1 2-0.3 2 0.1 2 0.2 2 0 2-0.3 2 0.3 2 0 2 0.4 2-0.4 2-0.2 2 0.2 2 0.7 2 0.1 2-0.1 2 0.2 2 0 2 0.2 2 0.4 2-0.2 2 0.4 2-0.3 2 0.5 2-0.2 2-0.1 2 0 2 0.6 2 0 2-0.3 2-0.3 2-0.5 2 0.8 2 0.6 2-0.5 2-0.1 2-0.4 2 0.1 2 0.2 2-0.6 2 0.4 2-0.4 2 0.1 2 0.1 2 0.2 2-0.1 2 0 2-0.2 2 0.7 2 0.3 2 0.3 2 0.5 2 0.1 2 0.1 2 0.4 2-0.1 2-0.2 2-0.1 2-1.4 2-0.1 2-0.7 2-0.4 2 0.5 2 0.3 2 0.6 2-0.2 2-0.2 2 0.1 2 0 2 0.4 2-0.4 2 0.6 2-0.1 2 0.2 2 0.3 2 0.5 2 0.3 2 0.3 2 0.1 2 0 2-0.6 2-0.2 2-0.2 2 0.4 2 0.5 2-0.1 2 0.2 2-0.1 2 0 2 0.1 2 0.3 2 0.1 2 0.5 2-0.2 2 0.4 2-0.3 2 0.2 2 0.4 2-0.2 2 0.6 2-0.4 2 0.2 2-0.1 2 0.4 2-0.4 2 0.7 2 0.2 2-0.2 2 0.4 2-0.3 2 0.2 2-0.2 2 0.1 2-0.1 2 0 2 0.5 2-0.5 2 0.2 2 0 2 0.1 2-0.6 2 0.1 2 0.4 2 0.1 2 0.5 2 0.2 2 0.1 2-0.3 2-1 2 0.4 2-0.2 2 0.7 2-0.5 2-0.2 2 0.1 2 0.1 2 0.8 2 0.7 2 0.3 2 0.5 2 0.5 2 0.7 2-0.3 2 0.2 2 0.3 2-0.5 2 0.6 2-0.5 2-0.4 2 0.3 2 0 2 0 2-0.1 2 0 2 0.1 2 0 2-0.6 2-0.1 2 0.2 2-0.3 2 0.2 2 0.6 2-0.6 2 0 2 0.2 2-0.4 2-0.2 2-0.5 2 0.3 2-0.3 2 0.5 2-0.1 2 0.4 2 0.4 2 0.7 2 0 2 0 2-0.3 2 0.2 2 0.4 2 0.8 2 0.2 2 0.2 2 0.2 2-0.2 2 0.5 2-0.5 2 0.6 2 0.1 2-0.3 2-0.2 2-0.2 2-0.5 2 0.6 2-0.2 2 0 2 0.2 2-0.4 2-0.1 2-0.3 2 0.2 2 0.2 2 0 2 0 2 0 2 0.5 2 0.3 2-0.3 2 0 2 0.1 2 0.4 2-0.4 2-0.4 2 0.2 2 0.1 2 0.3 2 0.2 2-0.3 2 0.1 2 0.3 2-0.3 2 0.5 2-0.1 2 0.5 2-0.7 2 0.2 2-0.4 2 0.7 2 0.2 2 0 2 0.1 2-0.7 2 0.1 2 0.1" stroke="#c0504d" stroke-width="8.8" stroke-linecap="round" stroke-linejoin="round" fill="none"/>
<path d="M290 1781l2 1.4 2 0.7 2 1.6 2 1.2 2 1.8 2 0.3 2-0.6 2-1.2 2-1 2-1.3 2-1.3 2-1 2-1.2 2-0.6 2-1 2 0.1 2-1.1 2-0.7 2-1 2-1.5 2-2.2 2-1.5 2-0.8 2 0.1 2 0 2 0 2 0.7 2-1.7 2-1.5 2-2 2-2.8 2-1.7 2-1.9 2-0.6 2-1.2 2-0.5 2-0.9 2-0.8 2-1.3 2-0.6 2-0.4 2-1.2 2-0.9 2-0.1 2-1.1 2-0.4 2-0.5 2-0.9 2-1.4 2-0.3 2 0.5 2-0.8 2-0.6 2-0.4 2-0.9 2-0.5 2-0.7 2 0.9 2 0.6 2 0 2 0.1 2-0.6 2 0.3 2 0.2 2-0.3 2 0.4 2-0.7 2-0.3 2-1.5 2-0.2 2-0.1 2 0.2 2-0.4 2-0.4 2-0.4 2-0.7 2 0 2-0.4 2 0.5 2-0.1 2 0 2 0.6 2-0.3 2-0.8 2-0.1 2-0.9 2-0.2 2 0.4 2 1 2 0.2 2 0.1 2-0.3 2-0.6 2-1.4 2-1.5 2-0.5 2-1.1 2 0.4 2-0.6 2 0.6 2-0.9 2 0.4 2 0.1 2-0.1 2 0.1 2-0.4 2 0.1 2-0.3 2-0.6 2 0.2 2 0.4 2-0.3 2-0.3 2-0.3 2 0.7 2-0.3 2 0.3 2-0.4 2-0.3 2 0.2 2 0 2-0.1 2 0 2-0.2 2-0.6 2-0.4 2 0.5 2-0.4 2-0.6 2 0.3 2-0.1 2-0.1 2-0.5 2 0.1 2-0.2 2 0.1 2 0.3 2-0.6 2-0.1 2-0.7 2-0.2 2 0.8 2-0.2 2 0 2 0.4 2-0.5 2-0.2 2 0.1 2 0.2 2-0.8 2 0.6 2-0.6 2 0.2 2 0.3 2 0.2 2-0.1 2 0.8 2-0.4 2 0.1 2 0.2 2-0.6 2 0 2 0.3 2 0.9 2-0.5 2-0.3 2 0 2 0.2 2 0.1 2-0.5 2 0.7 2 0.1 2-0.4 2-0.2 2 0.5 2-0.5 2-0.2 2 0.1 2 0.2 2-0.3 2 1 2 0.6 2-0.4 2 0.1 2-0.1 2-0.8 2 0.1 2 0.7 2-0.1 2 0.1 2-0.2 2-0.6 2 0.3 2 0.5 2 0.4 2 0 2-0.1 2 0 2-0.1 2 0.6 2 0.1 2-0.3 2 0.1 2 0.2 2-0.8 2 0 2 0 2-0.2 2 0.1 2 1.1 2 0.6 2 0.9 2-0.4 2 0.1 2 0 2-0.2 2-0.3 2 0.7 2 0.2 2-0.2 2-0.3 2 0.5 2 0 2 0.4 2-0.8 2 0.2 2-0.1 2 0.7 2 0 2 0.3 2 0 2 0.1 2 0 2 0 2-0.1 2 0.1 2 0.3 2-0.5 2 0.4 2 0.5 2 0 2 0.7 2-0.3 2 0.6 2 0 2 0.5 2-0.4 2-0.5 2 0.2 2 0.4 2 0.3 2 0.3 2-0.7 2 0 2 0.7 2-0.1 2 0.5 2-0.4 2-0.1 2 0.5 2 0.1 2 0.1 2 0.2 2 0.4 2-0.1 2-0.3 2-0.4 2-0.1 2-0.6 2 0.2 2-0.2 2 0 2 0.3 2-0.7 2 0.5 2 0.3 2 0 2-0.1 2-0.5 2 0.3 2 0.1 2 0.3 2 0 2 0 2 0.1 2 0.3 2 0.4 2 0.5 2 0.3 2-0.4 2 0.6 2-0.4 2-0.5 2 0.2 2 0.5 2 0 2 0.4 2 0 2 0.3 2-0.2 2 0.8 2 0.8 2 0.4 2-0.5 2 0 2 0.5 2 0.2 2 0.1 2 0.2 2-0.4 2-0.4 2 0 2 0.1 2 0.6 2-0.3 2 0.3 2-0.1 2-0.4 2 0.4 2 0 2 0.3 2 0.4 2 0.4 2-0.1 2 0 2 0.1 2 0 2-0.2 2 0.5 2 0.1 2 0.7 2-0.4 2-0.7 2 0.1 2 0.1 2-0.2 2 0.4 2-0.1 2 0.5 2 0.2 2 0.2 2-0.4 2-0.1 2 0.2 2 0.4 2 0.4 2 0 2 0.3 2-0.4 2 0.5 2 0.5 2 0.6 2-0.6 2-0.4 2 0 2 0.7 2-0.3 2-0.4 2 0.6 2 0.2 2-0.1 2-0.2 2 0.4 2-0.3 2 0.2 2 0.3 2 0.1 2 0.2 2 0.3 2-0.1 2-0.2 2 0.4 2-0.2 2 0.2 2 0.7 2-0.1 2-0.3 2 0.5 2-0.5 2 1 2 0.1 2 0.3 2-0.4 2-0.7 2 0.6 2-0.1 2 0.2 2 0.2 2-0.1 2-0.3 2-0.5 2 0.4 2-0.2 2 0.3 2 0.3 2-0.6 2 0.4 2-0.4 2-0.2 2 0.1 2 0.8 2 1 2 0.3 2 0.8 2 0 2 0 2-0.3 2 0.6 2 0.5 2 0.3 2 0.8 2-0.1 2-0.1 2 0.2 2-0.2 2-0.2 2 0.3 2 1.1 2 0.5 2 0.5 2-0.2 2-0.1 2 0.3 2-0.2 2 0.4 2-0.1 2-0.3 2 0 2-0.6 2 0.6 2 0.5 2 0 2 0.6 2-0.5 2 0 2 0.4 2-0.3 2 0.3 2 0.2 2-0.6 2-0.4 2-0.2 2 0.8 2 0 2 0.4 2 0.1 2 0.1 2-0.3 2-0.4 2-0.1 2-0.4 2 0.7 2-0.1 2 0.1 2 1 2 0.6 2-0.4 2 0.3 2-0.4 2-0.3 2-0.2 2-0.2 2 0.8 2 0.2 2 0.5 2 0 2 0.4 2-0.1 2 0.1 2 0.3 2-0.3 2 0.6 2-0.1 2 0 2 0.4 2-0.3 2-0.5 2 0.3 2-0.1 2 0.3 2-0.1 2 0 2 0 2 0.4 2 0.8 2 0.4 2 0.1 2 0.2 2-0.7 2 0.2 2 0.7 2-0.1 2 0.4 2-0.7 2 0.5 2 0.4 2 0 2 0.7 2 0.3 2 0 2 0 2 0.2 2 0.4 2-0.4 2 0.4 2 0.6 2 0.2 2-0.3 2-0.1 2-0.2 2-0.2 2-0.5 2 0.3 2-0.3 2-0.6 2 0.7 2 0.1 2 0 2 0 2-0.6 2-0.3 2 0.2 2 0 2 0.7 2 0.7 2 0.7 2 0.4 2 0 2 0.1 2-0.5 2-0.5 2-0.9 2 0.7 2-0.6 2 0 2-0.3 2 0.7 2 0.4 2 0 2 1.1 2 1.3 2 1 2-0.2 2-0.5 2-1 2-0.2 2-1 2-0.3 2-0.4 2 0.4 2 0.6 2-0.1 2 0.7 2 0 2 0.3 2 0 2 0.1 2 0.3 2 1.4 2 0.1 2-0.1 2 0.4 2 0 2 0.6 2-0.7 2-0.4 2 0.8 2-0.1 2-0.5 2-0.1 2-1.2 2 0.1 2-0.5 2-0.3 2 0.3 2 0.1 2-0.5 2-1.2 2-0.3 2-0.8 2 0.3 2 0.2 2 0.1 2 0 2 0.5 2-0.1 2 0.6 2 0.5 2-0.4 2 0.8 2 0.2 2 0 2 0.3 2-0.4 2-1.1 2-0.1 2-0.4 2 0.7 2 0.4 2 0.3 2 0.7 2 0.9 2 0.4 2-0.5 2 0.1 2-0.9 2 0 2 0.4 2 0 2-0.9 2 0 2-0.9 2-0.4 2-0.4 2-0.5 2 0.1 2 0.1 2 0.3 2 0.6 2 0.6 2 0.5 2 0 2-0.3 2 0.1 2 0.4 2-0.3 2 0.7 2 0.2 2 0.9 2 0.1 2 0.1 2 0 2 0.3 2 0.3 2 0.3 2-0.2 2 0.6 2-0.8 2 0.4 2 0 2 0.5 2 0 2-0.2 2-0.5 2 0.5 2-0.8 2-0.2 2-0.2 2-0.3 2-0.2 2-0.4 2 0.5 2-0.2 2-0.3 2 0.5 2-0.4 2 0.7 2-0.4 2-0.3 2 0.1 2 0.1 2 0.7 2-0.3 2-0.6 2-0.6 2-0.9 2-1 2-0.9 2 1.4 2 0.6 2 0.8 2 1.1 2 0.8 2 0.4 2 0.9" stroke="#9bbb59" stroke-width="9.0" stroke-linecap="round" stroke-linejoin="round" fill="none"/>
<path d="M290 1669l2 1.1 2 3.9 2 4.1 2 4.8 2-2 2-4.4 2-4.4 2-3.9 2-5.6 2-3.3 2-4 2-2.4 2-3.5 2-3.4 2-3.6 2-2.2 2-2.4 2-2.3 2-3.2 2-2.7 2-2.6 2-3.1 2-3.6 2-2.1 2-1.7 2-2.8 2-3.2 2-4.1 2-3.8 2-3 2-3.6 2-2.7 2-2.3 2-2.7 2-2 2-1.3 2-1.2 2-1.1 2 0.3 2 0.4 2-0.5 2 0.3 2 0.2 2 0.1 2-0.5 2-0.7 2 0.1 2 0.5 2-0.6 2-0.3 2-0.2 2 0.6 2 0.5 2 0.3 2-0.8 2-0.1 2 0 2 0.7 2-1.1 2-1.7 2-0.8 2-0.4 2 0.8 2 0.5 2 1 2 1.4 2 1.7 2 1.9 2 0.7 2 1.7 2 1 2 0.9 2-1.7 2-1.4 2-0.8 2-0.8 2 0.5 2 0 2 1.3 2 0.8 2 1.1 2-1.8 2-1.8 2-2 2-1.8 2-0.4 2 1 2 1.4 2 1.4 2 1.3 2 1.2 2-2 2-1.3 2-1 2-0.7 2 1.4 2 0.6 2 0.6 2 0.4 2 0 2-0.6 2-0.9 2-0.2 2 0.6 2 4 2 2.1 2-0.2 2-0.8 2-0.7 2-1.4 2 0.4 2-0.7 2-0.7 2-0.5 2-0.1 2-0.9 2-0.6 2-1 2 0.2 2-0.6 2 0.3 2 0.2 2 0.1 2-0.7 2 0.5 2-0.5 2 0.4 2 0.3 2 0.3 2 0.2 2-0.6 2 0.9 2 0.7 2 0.1 2 0.6 2 0.8 2-0.8 2-0.3 2 1.1 2-0.3 2 0.6 2-0.7 2-1.1 2 0.8 2 0 2 0.2 2 0.6 2 1 2-1 2-0.9 2 0.5 2 0.2 2 0.5 2 0.3 2 0.5 2 0.6 2 0.2 2 0.8 2 0 2-0.3 2 0.4 2 0.9 2 1.1 2 0.1 2-0.5 2 0.7 2-0.1 2 0.4 2 0.6 2 0.8 2 0.4 2-0.3 2 0.4 2 0 2-0.4 2 0.7 2 0.1 2 0.6 2 0 2-0.2 2 0.4 2-0.1 2 0.7 2 0.6 2-0.9 2 0.7 2-0.7 2 0.2 2 0.5 2 0.3 2 1.8 2 0.1 2 0.7 2 1.5 2 2.2 2 1.1 2 1.6 2-1.6 2-1.1 2-1.3 2-0.5 2 1 2-0.5 2 0.2 2-1.1 2 0.5 2 0.1 2-0.1 2 0.4 2-0.4 2-0.6 2-0.4 2-0.6 2 0 2 0.3 2-0.3 2 0.6 2 0.9 2 1.7 2 2 2 2 2 0.9 2 1.6 2 0.1 2 1.6 2-0.1 2 0.9 2-1 2-0.1 2-1.4 2 0.1 2-0.8 2-1 2 0.2 2 0.1 2-0.1 2-0.4 2 0.2 2-1.2 2-0.3 2-1.4 2-1.3 2-0.7 2 1.2 2-0.1 2 1.2 2-0.6 2 0.5 2 0.4 2 0.5 2 0.4 2-0.9 2 0.6 2 0.9 2 0.8 2 0.4 2 0.5 2-0.3 2 1.2 2 0.2 2 1.1 2-0.9 2 0.9 2-0.1 2 1.3 2 0.9 2-0.3 2 0 2 0 2 0.1 2 0.5 2-0.1 2 0.2 2-0.7 2 1.1 2 0.1 2-0.5 2-0.4 2 0.8 2 0.3 2 0 2 0.4 2-0.3 2-0.2 2 0.2 2-0.9 2 1.2 2 0.2 2-0.3 2 0.7 2-0.4 2-0.5 2 0.1 2 0.3 2 0 2-0.8 2 0.8 2 1.4 2 0.5 2 0.8 2-0.4 2 0.7 2-0.3 2-0.3 2 0.7 2-0.2 2-0.3 2 0 2-0.3 2-0.7 2 0.2 2-0.8 2 1 2-0.2 2 0.1 2 0.5 2 1.1 2 0.7 2 0.8 2 0.6 2 0.2 2 1 2-0.5 2-0.4 2 0.1 2-0.1 2 0.2 2-0.5 2 0.2 2-0.7 2 0.6 2 0.4 2 0.2 2-0.2 2 0.8 2-0.3 2-0.3 2-0.6 2 1.4 2 0.5 2 0.6 2 0.8 2-1.1 2-1.4 2-1.4 2 0.4 2-0.1 2 0.1 2 1.3 2 0.8 2 0 2 1.4 2 0.4 2-0.3 2-0.8 2 0.6 2-0.4 2-0.1 2 0.2 2 0.7 2 0.7 2-0.7 2 0.2 2-0.3 2-0.1 2-0.4 2 0.6 2 1.6 2 0.4 2 1.4 2-0.3 2-0.8 2 0.1 2-0.8 2-1.1 2-0.5 2 0 2 0.5 2 0.8 2 1.6 2 0.3 2 0 2 0.9 2 0.8 2-0.3 2-0.2 2 0.2 2-0.1 2 0.6 2-0.6 2 0.3 2-0.7 2-0.1 2 0.8 2-0.8 2-0.3 2 1 2 0.4 2-0.8 2-0.2 2 0.1 2-0.2 2-0.2 2 0.1 2-0.1 2-1.2 2 0 2-0.4 2 1 2 0.4 2 2.1 2-0.1 2 0.3 2 1.2 2-0.5 2-0.5 2-1.4 2-0.8 2-1 2-1 2 0.8 2 0.6 2 1.3 2-0.1 2 0.4 2 1.1 2 0.3 2-0.2 2 1 2 0 2 0.9 2-0.8 2 0 2-0.7 2 0.5 2-0.2 2-0.8 2 0.7 2-0.7 2-0.1 2 0 2 0.8 2 0 2 0.3 2 0.7 2 0.8 2 0.6 2 2.2 2 1 2 0.8 2 0.6 2 0.5 2 0.2 2 0 2-1.2 2 0.2 2-0.3 2-1.1 2-0.4 2-1.6 2-0.5 2 1.2 2 0.4 2-0.4 2 0 2-0.4 2 0.2 2 0.1 2 1.6 2 1 2 1.9 2 2.2 2 0.7 2 0.1 2 0.3 2 0.1 2 1 2 1.2 2 0.2 2 0.3 2-1 2-0.9 2-0.9 2 0 2-0.3 2-0.7 2-0.5 2 0.1 2-1.2 2-1.3 2-2.6 2-1.3 2-0.5 2-1.9 2-1 2-1.8 2-0.8 2-0.5 2-0.1 2 0.5 2-0.4 2-0.4 2 0.2 2 0.3 2 1.9 2 0.7 2 1.1 2-0.2 2 1 2 1.1 2 1.1 2 0.9 2 1.4 2 1.5 2 0.6 2 1 2-0.5 2-1.3 2 0.3 2 0 2-0.9 2-0.4 2-0.1 2-1.1 2 0.1 2-0.9 2-1.1 2 0.6 2 1 2 1.6 2 1.5 2 0.4 2 0.2 2 1.8 2-0.3 2 1.2 2-0.5 2-0.5 2-0.2 2-0.2 2 0.2 2 0.9 2 1.3 2-0.4 2 1.8 2 1.5 2 0.7 2 1.3 2 0 2-0.6 2-1.7 2-0.4 2-0.5 2-0.7 2-1.7 2-0.4 2-0.6 2-0.7 2-1 2-1.3 2-1.6 2-0.1 2 0.4 2 0.9 2 0.2 2 0.5 2 1.1 2 1 2-0.3 2-0.3 2 0.8 2 0.5 2 1.4 2 0.7 2 0.6 2 1.4 2 0.2 2 0.7 2 0.8 2 0.9 2 1.5 2 0 2 0.2 2 0.1 2 0.3 2-0.9 2-1.5 2-1.3 2 0.3 2-0.6 2-0.9 2-0.8 2 0.9 2-0.1 2-0.2 2 0.9 2 0.5 2-0.1 2 1.7 2 0.9 2 0.8 2 0.1 2-1.6 2 0.1 2-0.8 2-0.4 2-0.7 2-0.8 2-1 2-0.4 2-1.1 2-1.3 2 0.3 2-0.9 2 0.4 2 0.6 2 1.5 2 0.3 2 0.7 2 0.3 2 1.4 2 0 2 1.6 2 0.2 2-0.3 2-0.4 2-1.2 2-0.4 2-0.3 2-0.2 2-0.4 2 0 2-0.5 2-0.5 2-0.1 2-0.5 2-1 2 0.2 2 0.6 2 1.8 2 1 2 1.1 2 1.5 2 0.9 2-1.1 2-0.3 2-1 2 0.4 2-0.9 2 0.9 2 0 2 1.1 2-0.5 2 1.1 2 0.8 2 0.4 2 0.2 2 1.5 2 0.5 2 0.4 2 0.2 2-1.1 2-0.2 2-0.2 2-0.4 2 0.3 2-1.4 2-0.4 2-0.4 2 0.1 2 0.9 2-0.8 2 0.1 2 0.7 2-0.5" stroke="#8064a2" stroke-width="9.4" stroke-linecap="round" stroke-linejoin="round" fill="none"/>
<path d="M290 1481.9l2 6 2 1.7 2 0.1 2-2.2 2-2.3 2-2.4 2-3.3 2-3.7 2-4.6 2-4.3 2-3.7 2-3.8 2-3.9 2-1.3 2-2.7 2-1.2 2-1.8 2-1.2 2-1.4 2-2.8 2-1.7 2-2.5 2-2.1 2-2.3 2-2.3 2-1.2 2-2.3 2-1.9 2-1.6 2-1.2 2-0.9 2-2 2-1.2 2-0.8 2-0.8 2-1.6 2-0.8 2 0.2 2 2 2-0.4 2-1.7 2-1.4 2-0.6 2-0.9 2-0.8 2-0.6 2-1.3 2-0.2 2-0.1 2 0.6 2-0.9 2 0.2 2 0.1 2 0.3 2 0.3 2 0 2 0 2-0.9 2 0.3 2-0.7 2-0.4 2-0.7 2 0.2 2-0.3 2 1.2 2 0.3 2 0.6 2-0.7 2-0.5 2 0 2 1 2 0.1 2 1.4 2 0.5 2 1.4 2 0.2 2 0.1 2-0.1 2 0.2 2-0.2 2 0.6 2-0.2 2 0.2 2 0.7 2 0.4 2-0.3 2-0.7 2 0 2-0.2 2 0.3 2 1.7 2 1 2 0.1 2 0 2-0.2 2 0 2 1 2 1.2 2 1.8 2 0.2 2-0.8 2-0.1 2-0.5 2-0.1 2-1 2 0.2 2-1 2-0.1 2-0.1 2 1.1 2 1.3 2 0.6 2 1.1 2 0.5 2 0.1 2 1 2-0.1 2 0.5 2-0.2 2 0.8 2 0 2 0.4 2-0.7 2-0.3 2-0.4 2-0.4 2 0 2 0.2 2-0.1 2 0.5 2 0.7 2 0.5 2 0.2 2 0.2 2-0.1 2 0.4 2 0.2 2-0.5 2 0.4 2-0.1 2 0.5 2-0.5 2-0.4 2-0.1 2-0.7 2 0 2 0.3 2 0.7 2 0.6 2 0 2 0.8 2 0.5 2 0.5 2-0.8 2-0.5 2-0.3 2-0.4 2 0.9 2 0.5 2 1.3 2 1 2 0.9 2-1.3 2-1.8 2-1.5 2-0.7 2-1.2 2-1.1 2 0.6 2-0.6 2-0.6 2 0 2-0.8 2-0.6 2-0.2 2-0.3 2 0.6 2-0.8 2-0.1 2 0.5 2-0.6 2 0.3 2-0.3 2 0.2 2 0 2 0.1 2-0.3 2 0.9 2 0.5 2-0.7 2-0.1 2-0.8 2 0.1 2 1.2 2-0.2 2 0.5 2 0.4 2 0.1 2-0.1 2 0.5 2 0.4 2 0.4 2 0.1 2-0.2 2-0.7 2-0.5 2-0.6 2-0.8 2-1.1 2-0.6 2-0.5 2 0.2 2 0 2 0.3 2 0.2 2-0.3 2 0 2-0.6 2 0.2 2 0.6 2 0.6 2 0.3 2 0.4 2-0.7 2 0.6 2 0.4 2 0.1 2-0.3 2-0.8 2-0.4 2-0.5 2-0.5 2 1.3 2 0.6 2-0.4 2 0.6 2 0 2 0.1 2-0.1 2 0.7 2-0.3 2 0.2 2-0.1 2 0.3 2 1 2-0.5 2 0.5 2-0.8 2 0.2 2-0.4 2 0.1 2-0.7 2 0.5 2-0.1 2-0.5 2-0.3 2-0.5 2 0.8 2 0.6 2 0.7 2-0.5 2 0.7 2 0.4 2-0.4 2 0.9 2-0.5 2 1 2 0.9 2 0.8 2 0.1 2-0.2 2 0.8 2 1.1 2 0.7 2 0.2 2-1.1 2-0.5 2-0.6 2 0.5 2-0.9 2-0.6 2 0.2 2 0.6 2 0.6 2 0.4 2 0 2-0.1 2-0.2 2-0.6 2-0.9 2-0.3 2-0.6 2-0.3 2-0.5 2-0.2 2 0.5 2-0.3 2 0.5 2 0.8 2 0.4 2 0.1 2 0 2 0.7 2 0.3 2 0.6 2 0.1 2-0.3 2-1.1 2-0.5 2 0.2 2 0.5 2 1.1 2 1.1 2 0.7 2-0.3 2-1.1 2-1.2 2-1 2 0.4 2-0.1 2 0.6 2 0.4 2 0.1 2 0.5 2 0.5 2-0.2 2 0 2 0.7 2 0.1 2-0.1 2 0 2-0.2 2-0.2 2-0.6 2-0.4 2-0.5 2 0.4 2-0.5 2 0.4 2-0.3 2 0.3 2-0.5 2-0.2 2-0.6 2 0.7 2 1.4 2 0 2 0.5 2 0.2 2-0.2 2-0.1 2 0.8 2 0.6 2 0.8 2 1.3 2-1 2-0.6 2-1.5 2-1.1 2 0 2-0.1 2 0.8 2-0.4 2-0.2 2 0.4 2-0.6 2 0.1 2-0.1 2 0.1 2-1 2 0 2-0.8 2 0.8 2 0 2-0.9 2-0.1 2 0.4 2-0.6 2-0.4 2 0 2-0.6 2 0.3 2 0.5 2 1 2-0.9 2 0.6 2-0.1 2 0.3 2 0.5 2 0.7 2 0 2 0.9 2 0.5 2 0.2 2 0.5 2 0 2-0.2 2-0.1 2 0.4 2 0 2 0.4 2-0.3 2 0.2 2 0.4 2 0.4 2-0.4 2 0.2 2 0.6 2-0.1 2 0.4 2-0.2 2-0.4 2-1.2 2-1.2 2-0.2 2 0.9 2 0.7 2-0.2 2 0.3 2 0.4 2-0.1 2-0.8 2 0.3 2-0.4 2-0.9 2-0.7 2-1 2-1.1 2-0.6 2-0.4 2 0.2 2-0.1 2-0.1 2 0.8 2-0.2 2-0.3 2 0.1 2 0.3 2 0.3 2 0.1 2 0.2 2-0.1 2 0.3 2-0.5 2 0.1 2-1 2 0 2-0.6 2 0.4 2 0.3 2-0.3 2 0.8 2 0.7 2-0.1 2 0.5 2 0.3 2 0.3 2 0.4 2-0.4 2 0.5 2 0.1 2-0.3 2 0.7 2 0.1 2 0.8 2 0.3 2 0.6 2 0.4 2 0.5 2 1.1 2-0.1 2-1.1 2 0.1 2-1.1 2 0.1 2-0.7 2-0.5 2 0.9 2 0.4 2-0.2 2-0.1 2 0.2 2 0 2 0.7 2 0.3 2 0 2 0.5 2-0.1 2 0.8 2 0.6 2 0.7 2 0.6 2 1.2 2 0.1 2-0.7 2-1.2 2-0.6 2-1.6 2 0.1 2 0.1 2 0 2 0.5 2 1 2 0 2 0.7 2 0.1 2 0.3 2 0.7 2 0 2 0.9 2 0.3 2 0.8 2-0.1 2 0.2 2 0.9 2 0.8 2 0.4 2-0.6 2 0.2 2-0.1 2-0.2 2-0.8 2 0.4 2-0.8 2 0.2 2-0.5 2-0.6 2-0.2 2-0.6 2-0.3 2-1 2-0.8 2-1.2 2-1.5 2-0.3 2 0.3 2 0.4 2-0.3 2-0.4 2 0.2 2 2 2 1.4 2 0.8 2 1.5 2 1.1 2-0.3 2 0.4 2-0.7 2-1.4 2-0.3 2 0.2 2-0.7 2 0.3 2 0.4 2 0.7 2 0.2 2 0.2 2 0.7 2 0.1 2 0.3 2 0 2 0.9 2 0.3 2 0.3 2 0.2 2-1.1 2-0.6 2-1.3 2-0.6 2-0.4 2-0.5 2 0.1 2-0.2 2 0.5 2 0.7 2 0.3 2 0.9 2 0.5 2-0.4 2 1.2 2 0.6 2 0.4 2 0 2 0.2 2-0.2 2 0.5 2 0.6 2 0.1 2 0.5 2 0.5 2 0 2 0.3 2 0.1 2 0.4 2-0.1 2 0.7 2-0.6 2 0.7 2-0.1 2 0 2-0.7 2 0.1 2 0.3 2-0.2 2 0.1 2 0.7 2-0.3 2-0.1 2 0.1 2-0.2 2-0.4 2 0 2 0.4 2 1.5 2 0.6 2 0.4 2 0.4 2 0.5 2 1.3 2 0.4 2 0.6 2 0.6 2 0.2 2 0.4 2-0.1 2 0.4 2-0.2 2 0.2 2 0.1 2-0.4 2-0.2 2 0.3 2 0 2 0.2 2 0.1 2 0.1 2 0.3 2 0 2 0.4 2 0.1 2-0.1 2 1.1 2 0.4 2 0.1 2 0.8 2 0.4 2 0.6 2 0.1 2 0.9 2 0.8 2 0.1 2-0.5 2-1 2-1.2 2-0.7 2-0.5 2-0.8 2-0.3 2 1 2 0.7 2 0.5 2 1.1 2 1.6 2 0.6 2 1.3 2-0.5 2-1.1 2-0.3 2 0.5 2-0.3 2-0.7 2 0.4 2-0.1 2 0.8 2 0.5" stroke="#17375e" stroke-width="9.0" stroke-linecap="round" stroke-linejoin="round" fill="none"/>
<circle cx="290" cy="1638.5" r="3.6" fill="#8064a2"/>
<circle cx="351.9" cy="1586.7" r="3.6" fill="#8064a2"/>
<circle cx="732.9" cy="1620" r="3.6" fill="#8064a2"/>
<circle cx="547" cy="1592" r="3.6" fill="#8064a2"/>
<circle cx="556" cy="1593" r="3.6" fill="#8064a2"/>
<circle cx="290" cy="1751.8" r="3.6" fill="#9bbb59"/>
<circle cx="290" cy="1886.1" r="3.6" fill="#c0504d"/>
<circle cx="290" cy="2040" r="3.6" fill="#e46c0a"/>
<circle cx="289.5" cy="1480" r="3.6" fill="#17375e"/>
<text transform="translate(224.2 2276.2) scale(0.982 1)" font-size="65" text-anchor="end">0</text>
<text transform="translate(224.2 2116.6) scale(0.982 1)" font-size="65" text-anchor="end">0.1</text>
<text transform="translate(224.2 1957) scale(0.982 1)" font-size="65" text-anchor="end">0.2</text>
<text transform="translate(224.2 1797.4) scale(0.982 1)" font-size="65" text-anchor="end">0.3</text>
<text transform="translate(224.2 1637.8) scale(0.982 1)" font-size="65" text-anchor="end">0.4</text>
<text transform="translate(224.2 1478.2) scale(0.982 1)" font-size="65" text-anchor="end">0.5</text>
<text transform="translate(224.2 1318.6) scale(0.982 1)" font-size="65" text-anchor="end">0.6</text>
<text transform="translate(290.6 2368.6) scale(0.982 1)" font-size="65" text-anchor="middle">0</text>
<text transform="translate(627.9 2368.6) scale(0.982 1)" font-size="65" text-anchor="middle">10</text>
<text transform="translate(965.1 2368.6) scale(0.982 1)" font-size="65" text-anchor="middle">20</text>
<text transform="translate(1302.3 2368.6) scale(0.982 1)" font-size="65" text-anchor="middle">30</text>
<text transform="translate(1639.6 2368.6) scale(0.982 1)" font-size="65" text-anchor="middle">40</text>
<text transform="translate(963.2 2434)" font-size="66.5" font-weight="bold" text-anchor="middle" textLength="199" lengthAdjust="spacingAndGlyphs">t <tspan dy="-2.2">[</tspan><tspan dy="2.2">min</tspan><tspan dy="-2.2">]</tspan></text>
<text transform="translate(108.2 1777) rotate(-90)" font-size="66.5" font-weight="bold" text-anchor="middle" textLength="123" lengthAdjust="spacingAndGlyphs">I <tspan dy="-2.2">[</tspan><tspan dy="2.2">A</tspan><tspan dy="-2.2">]</tspan></text>
<text transform="translate(48.6 1339.8) scale(0.867 1)" font-size="73.2">B<tspan font-size="67" dx="5" dy="-7">)</tspan></text>
<circle cx="1701.6" cy="1650.9" r="9.5" fill="#e46c0a"/>
<text transform="translate(1740.3 1671.2) scale(0.942 1)" font-size="66">8V</text>
<circle cx="1701.6" cy="1751.7" r="9.5" fill="#953735"/>
<text transform="translate(1740.3 1772) scale(0.942 1)" font-size="66">12V</text>
<circle cx="1701.6" cy="1852.4" r="9.5" fill="#77933c"/>
<text transform="translate(1740.3 1872.8) scale(0.942 1)" font-size="66">16V</text>
<circle cx="1701.6" cy="1953.2" r="9.5" fill="#604a7b"/>
<text transform="translate(1740.3 1973.6) scale(0.942 1)" font-size="66">20V</text>
<circle cx="1701.6" cy="2053.9" r="9.5" fill="#17375e"/>
<text transform="translate(1740.3 2074.4) scale(0.942 1)" font-size="66">24V</text>
</g>
</svg></body></html>
